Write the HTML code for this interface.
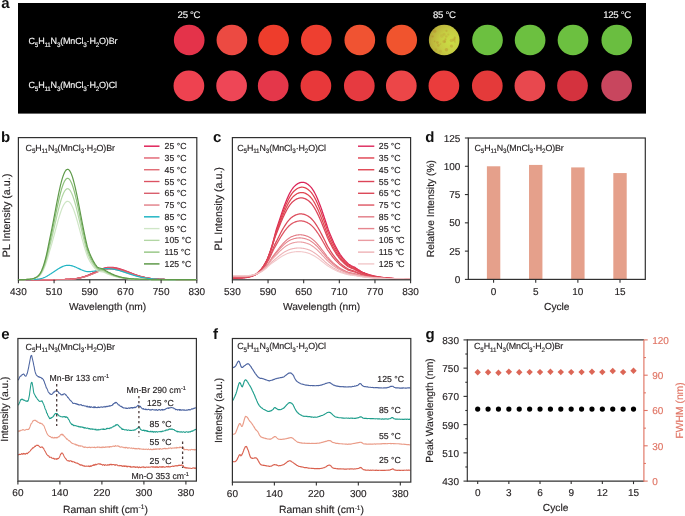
<!DOCTYPE html>
<html><head><meta charset="utf-8"><style>
html,body{margin:0;padding:0;background:#fff;}
svg{display:block;will-change:transform;}
text{font-family:"Liberation Sans",sans-serif;text-rendering:geometricPrecision;}
</style></head><body>
<svg width="685" height="516" viewBox="0 0 685 516">
<rect width="685" height="516" fill="#fff"/>

<text x="1.30" y="8.00" font-size="15" fill="#111" font-weight="bold">a</text>
<rect x="18" y="3" width="628" height="110.6" fill="#000"/>
<text x="28.50" y="44.00" font-size="9" fill="#f2f2f2" stroke="#f2f2f2" stroke-width="0.15" stroke-linejoin="round"><tspan letter-spacing="-0.19">C</tspan><tspan font-size="6.3" dy="2.60" letter-spacing="-0.19">5</tspan><tspan dy="-2.60" letter-spacing="-0.19">H</tspan><tspan font-size="6.3" dy="2.60" letter-spacing="-0.19">11</tspan><tspan dy="-2.60" letter-spacing="-0.19">N</tspan><tspan font-size="6.3" dy="2.60" letter-spacing="-0.19">3</tspan><tspan dy="-2.60" letter-spacing="-0.19">(MnCl</tspan><tspan font-size="6.3" dy="2.60" letter-spacing="-0.19">3</tspan><tspan dy="-2.60" letter-spacing="-0.19">·H</tspan><tspan font-size="6.3" dy="2.60" letter-spacing="-0.19">2</tspan><tspan dy="-2.60" letter-spacing="-0.19">O)Br</tspan></text>
<text x="28.50" y="88.00" font-size="9" fill="#f2f2f2" stroke="#f2f2f2" stroke-width="0.15" stroke-linejoin="round"><tspan letter-spacing="-0.19">C</tspan><tspan font-size="6.3" dy="2.60" letter-spacing="-0.19">5</tspan><tspan dy="-2.60" letter-spacing="-0.19">H</tspan><tspan font-size="6.3" dy="2.60" letter-spacing="-0.19">11</tspan><tspan dy="-2.60" letter-spacing="-0.19">N</tspan><tspan font-size="6.3" dy="2.60" letter-spacing="-0.19">3</tspan><tspan dy="-2.60" letter-spacing="-0.19">(MnCl</tspan><tspan font-size="6.3" dy="2.60" letter-spacing="-0.19">3</tspan><tspan dy="-2.60" letter-spacing="-0.19">·H</tspan><tspan font-size="6.3" dy="2.60" letter-spacing="-0.19">2</tspan><tspan dy="-2.60" letter-spacing="-0.19">O)Cl</tspan></text>
<text x="177.60" y="17.80" font-size="9.6" fill="#f2f2f2" stroke="#f2f2f2" stroke-width="0.15" stroke-linejoin="round"><tspan letter-spacing="-0.3">25 °C</tspan></text>
<text x="433.00" y="17.80" font-size="9.6" fill="#f2f2f2" stroke="#f2f2f2" stroke-width="0.15" stroke-linejoin="round"><tspan letter-spacing="-0.3">85 °C</tspan></text>
<text x="603.20" y="17.80" font-size="9.6" fill="#f2f2f2" stroke="#f2f2f2" stroke-width="0.15" stroke-linejoin="round"><tspan letter-spacing="-0.3">125 °C</tspan></text>
<defs><radialGradient id="yg" cx="0.72" cy="0.55" r="0.75"><stop offset="0" stop-color="#cade44"/><stop offset="0.5" stop-color="#c6cc42"/><stop offset="0.85" stop-color="#bcb43c"/><stop offset="1" stop-color="#a8a036"/></radialGradient><radialGradient id="gg" cx="0.5" cy="0.5" r="0.55"><stop offset="0.75" stop-color="#6ec242"/><stop offset="1" stop-color="#5eae3a"/></radialGradient></defs>
<circle cx="189.20" cy="40.0" r="15.35" fill="#e4334a"/>
<circle cx="188.90" cy="85.8" r="15.35" fill="#ee4250"/>
<circle cx="231.90" cy="40.0" r="15.35" fill="#ec4a42"/>
<circle cx="231.60" cy="85.8" r="15.35" fill="#ee4656"/>
<circle cx="273.60" cy="40.0" r="15.35" fill="#ee3d2c"/>
<circle cx="273.20" cy="85.8" r="15.35" fill="#e4374a"/>
<circle cx="316.30" cy="40.0" r="15.35" fill="#ee3f30"/>
<circle cx="315.90" cy="85.8" r="15.35" fill="#e8383a"/>
<circle cx="359.80" cy="40.0" r="15.35" fill="#f05332"/>
<circle cx="359.30" cy="85.8" r="15.35" fill="#e63a40"/>
<circle cx="401.70" cy="40.0" r="15.35" fill="#f0542e"/>
<circle cx="401.30" cy="85.8" r="15.35" fill="#ec4648"/>
<circle cx="444.20" cy="40.0" r="15.35" fill="url(#yg)"/>
<circle cx="443.90" cy="85.8" r="15.35" fill="#ea3c3c"/>
<circle cx="487.50" cy="40.0" r="15.35" fill="#6cc040"/>
<circle cx="487.30" cy="85.8" r="15.35" fill="#e43a3a"/>
<circle cx="530.10" cy="40.0" r="15.35" fill="#6cc040"/>
<circle cx="529.90" cy="85.8" r="15.35" fill="#e8484e"/>
<circle cx="573.00" cy="40.0" r="15.35" fill="#6cc040"/>
<circle cx="572.50" cy="85.8" r="15.35" fill="#d4323e"/>
<circle cx="616.80" cy="40.0" r="15.35" fill="#6abe40"/>
<circle cx="616.60" cy="85.8" r="15.35" fill="#c8465e"/>
<circle cx="434.68" cy="31.19" r="1.60" fill="#b87a2c" fill-opacity="0.34"/>
<circle cx="451.42" cy="40.61" r="1.74" fill="#b87a2c" fill-opacity="0.28"/>
<circle cx="446.25" cy="36.45" r="1.27" fill="#b87a2c" fill-opacity="0.20"/>
<circle cx="433.22" cy="36.33" r="0.81" fill="#b87a2c" fill-opacity="0.19"/>
<circle cx="440.41" cy="51.23" r="1.57" fill="#b87a2c" fill-opacity="0.18"/>
<circle cx="444.11" cy="34.37" r="1.42" fill="#b87a2c" fill-opacity="0.18"/>
<circle cx="454.83" cy="39.14" r="1.01" fill="#b87a2c" fill-opacity="0.19"/>
<circle cx="454.77" cy="37.66" r="1.09" fill="#b87a2c" fill-opacity="0.34"/>
<circle cx="432.32" cy="36.39" r="1.00" fill="#b87a2c" fill-opacity="0.34"/>
<circle cx="448.28" cy="34.60" r="1.16" fill="#b87a2c" fill-opacity="0.18"/>
<circle cx="444.72" cy="41.63" r="1.10" fill="#b87a2c" fill-opacity="0.27"/>
<circle cx="453.40" cy="39.23" r="1.14" fill="#b87a2c" fill-opacity="0.21"/>
<circle cx="446.46" cy="30.81" r="1.12" fill="#b87a2c" fill-opacity="0.25"/>
<circle cx="441.83" cy="36.02" r="1.78" fill="#b87a2c" fill-opacity="0.15"/>
<circle cx="454.16" cy="40.31" r="1.17" fill="#b87a2c" fill-opacity="0.27"/>
<circle cx="445.51" cy="39.16" r="0.98" fill="#b87a2c" fill-opacity="0.34"/>
<circle cx="446.43" cy="49.67" r="1.73" fill="#b87a2c" fill-opacity="0.34"/>
<circle cx="438.37" cy="45.42" r="1.32" fill="#b87a2c" fill-opacity="0.31"/>
<circle cx="451.45" cy="46.06" r="1.60" fill="#b87a2c" fill-opacity="0.32"/>
<circle cx="455.01" cy="41.88" r="0.89" fill="#b87a2c" fill-opacity="0.22"/>
<circle cx="436.01" cy="49.55" r="1.35" fill="#b87a2c" fill-opacity="0.21"/>
<circle cx="440.47" cy="44.00" r="0.88" fill="#b87a2c" fill-opacity="0.18"/>
<circle cx="444.21" cy="41.43" r="1.79" fill="#b87a2c" fill-opacity="0.26"/>
<circle cx="437.44" cy="42.53" r="1.39" fill="#b87a2c" fill-opacity="0.32"/>
<circle cx="434.58" cy="41.32" r="0.86" fill="#b87a2c" fill-opacity="0.33"/>
<text x="1.00" y="141.70" font-size="15" fill="#111" font-weight="bold">b</text>
<rect x="18.40" y="137.60" width="178.40" height="142.20" fill="none" stroke="#303030" stroke-width="1.2"/>
<path d="M18.40,279.60 L18.90,279.60 L19.40,279.60 L19.90,279.60 L20.40,279.60 L20.90,279.60 L21.40,279.60 L21.90,279.60 L22.40,279.60 L22.90,279.60 L23.40,279.60 L23.90,279.60 L24.40,279.60 L24.90,279.60 L25.40,279.60 L25.90,279.60 L26.40,279.60 L26.90,279.60 L27.40,279.60 L27.90,279.60 L28.40,279.60 L28.90,279.60 L29.40,279.60 L29.90,279.60 L30.40,279.60 L30.90,279.60 L31.40,279.60 L31.90,279.60 L32.40,279.60 L32.90,279.60 L33.40,279.60 L33.90,279.60 L34.40,279.60 L34.90,279.60 L35.40,279.60 L35.90,279.60 L36.40,279.60 L36.90,279.60 L37.40,279.60 L37.90,279.60 L38.40,279.60 L38.90,279.60 L39.40,279.60 L39.90,279.60 L40.40,279.60 L40.90,279.60 L41.40,279.60 L41.90,279.60 L42.40,279.60 L42.90,279.60 L43.40,279.60 L43.90,279.60 L44.40,279.60 L44.90,279.60 L45.40,279.60 L45.90,279.60 L46.40,279.60 L46.90,279.60 L47.40,279.60 L47.90,279.60 L48.40,279.60 L48.90,279.59 L49.40,279.59 L49.90,279.59 L50.40,279.59 L50.90,279.59 L51.40,279.59 L51.90,279.59 L52.40,279.59 L52.90,279.59 L53.40,279.58 L53.90,279.58 L54.40,279.58 L54.90,279.58 L55.40,279.58 L55.90,279.57 L56.40,279.57 L56.90,279.57 L57.40,279.56 L57.90,279.56 L58.40,279.55 L58.90,279.55 L59.40,279.54 L59.90,279.53 L60.40,279.53 L60.90,279.52 L61.40,279.51 L61.90,279.50 L62.40,279.49 L62.90,279.48 L63.40,279.47 L63.90,279.45 L64.40,279.44 L64.90,279.42 L65.40,279.41 L65.90,279.39 L66.40,279.37 L66.90,279.34 L67.40,279.32 L67.90,279.30 L68.40,279.27 L68.90,279.24 L69.40,279.21 L69.90,279.17 L70.40,279.13 L70.90,279.09 L71.40,279.05 L71.90,279.01 L72.40,278.96 L72.90,278.90 L73.40,278.85 L73.90,278.79 L74.40,278.73 L74.90,278.66 L75.40,278.59 L75.90,278.51 L76.40,278.43 L76.90,278.35 L77.40,278.26 L77.90,278.17 L78.40,278.07 L78.90,277.96 L79.40,277.86 L79.90,277.74 L80.40,277.62 L80.90,277.50 L81.40,277.37 L81.90,277.23 L82.40,277.09 L82.90,276.94 L83.40,276.79 L83.90,276.63 L84.40,276.46 L84.90,276.29 L85.40,276.12 L85.90,275.93 L86.40,275.75 L86.90,275.55 L87.40,275.36 L87.90,275.15 L88.40,274.95 L88.90,274.73 L89.40,274.52 L89.90,274.30 L90.40,274.07 L90.90,273.84 L91.40,273.61 L91.90,273.38 L92.40,273.14 L92.90,272.90 L93.40,272.66 L93.90,272.42 L94.40,272.18 L94.90,271.93 L95.40,271.69 L95.90,271.45 L96.40,271.21 L96.90,270.97 L97.40,270.74 L97.90,270.50 L98.40,270.27 L98.90,270.05 L99.40,269.83 L99.90,269.61 L100.40,269.41 L100.90,269.20 L101.40,269.01 L101.90,268.82 L102.40,268.64 L102.90,268.47 L103.40,268.31 L103.90,268.15 L104.40,268.01 L104.90,267.88 L105.40,267.76 L105.90,267.65 L106.40,267.55 L106.90,267.46 L107.40,267.39 L107.90,267.32 L108.40,267.27 L108.90,267.24 L109.40,267.21 L109.90,267.20 L110.40,267.20 L110.90,267.21 L111.40,267.23 L111.90,267.26 L112.40,267.29 L112.90,267.34 L113.40,267.39 L113.90,267.45 L114.40,267.52 L114.90,267.60 L115.40,267.68 L115.90,267.78 L116.40,267.88 L116.90,267.99 L117.40,268.10 L117.90,268.22 L118.40,268.35 L118.90,268.49 L119.40,268.63 L119.90,268.78 L120.40,268.93 L120.90,269.09 L121.40,269.25 L121.90,269.42 L122.40,269.59 L122.90,269.77 L123.40,269.95 L123.90,270.13 L124.40,270.31 L124.90,270.50 L125.40,270.70 L125.90,270.89 L126.40,271.08 L126.90,271.28 L127.40,271.48 L127.90,271.68 L128.40,271.88 L128.90,272.08 L129.40,272.28 L129.90,272.48 L130.40,272.68 L130.90,272.88 L131.40,273.07 L131.90,273.27 L132.40,273.46 L132.90,273.66 L133.40,273.85 L133.90,274.04 L134.40,274.22 L134.90,274.41 L135.40,274.59 L135.90,274.76 L136.40,274.94 L136.90,275.11 L137.40,275.28 L137.90,275.44 L138.40,275.61 L138.90,275.76 L139.40,275.92 L139.90,276.07 L140.40,276.22 L140.90,276.36 L141.40,276.50 L141.90,276.63 L142.40,276.77 L142.90,276.89 L143.40,277.02 L143.90,277.14 L144.40,277.25 L144.90,277.36 L145.40,277.47 L145.90,277.58 L146.40,277.68 L146.90,277.77 L147.40,277.87 L147.90,277.96 L148.40,278.04 L148.90,278.13 L149.40,278.21 L149.90,278.28 L150.40,278.35 L150.90,278.42 L151.40,278.49 L151.90,278.55 L152.40,278.61 L152.90,278.67 L153.40,278.73 L153.90,278.78 L154.40,278.83 L154.90,278.88 L155.40,278.92 L155.90,278.96 L156.40,279.00 L156.90,279.04 L157.40,279.08 L157.90,279.11 L158.40,279.14 L158.90,279.17 L159.40,279.20 L159.90,279.23 L160.40,279.25 L160.90,279.28 L161.40,279.30 L161.90,279.32 L162.40,279.34 L162.90,279.36 L163.40,279.38 L163.90,279.39 L164.40,279.41 L164.90,279.42 L165.40,279.44 L165.90,279.45 L166.40,279.46 L166.90,279.47 L167.40,279.48 L167.90,279.49 L168.40,279.50 L168.90,279.51 L169.40,279.51 L169.90,279.52 L170.40,279.53 L170.90,279.53 L171.40,279.54 L171.90,279.54 L172.40,279.55 L172.90,279.55 L173.40,279.56 L173.90,279.56 L174.40,279.56 L174.90,279.57 L175.40,279.57 L175.90,279.57 L176.40,279.58 L176.90,279.58 L177.40,279.58 L177.90,279.58 L178.40,279.58 L178.90,279.58 L179.40,279.59 L179.90,279.59 L180.40,279.59 L180.90,279.59 L181.40,279.59 L181.90,279.59 L182.40,279.59 L182.90,279.59 L183.40,279.59 L183.90,279.59 L184.40,279.59 L184.90,279.60 L185.40,279.60 L185.90,279.60 L186.40,279.60 L186.90,279.60 L187.40,279.60 L187.90,279.60 L188.40,279.60 L188.90,279.60 L189.40,279.60 L189.90,279.60 L190.40,279.60 L190.90,279.60 L191.40,279.60 L191.90,279.60 L192.40,279.60 L192.90,279.60 L193.40,279.60 L193.90,279.60 L194.40,279.60 L194.90,279.60 L195.40,279.60 L195.90,279.60 L196.40,279.60" fill="none" stroke="#e0245a" stroke-width="1.1" stroke-linejoin="round" />
<path d="M18.40,279.60 L18.90,279.60 L19.40,279.60 L19.90,279.60 L20.40,279.60 L20.90,279.60 L21.40,279.60 L21.90,279.60 L22.40,279.60 L22.90,279.60 L23.40,279.60 L23.90,279.60 L24.40,279.60 L24.90,279.60 L25.40,279.60 L25.90,279.60 L26.40,279.60 L26.90,279.60 L27.40,279.60 L27.90,279.60 L28.40,279.60 L28.90,279.60 L29.40,279.60 L29.90,279.60 L30.40,279.60 L30.90,279.60 L31.40,279.60 L31.90,279.60 L32.40,279.60 L32.90,279.60 L33.40,279.60 L33.90,279.60 L34.40,279.60 L34.90,279.60 L35.40,279.60 L35.90,279.60 L36.40,279.60 L36.90,279.60 L37.40,279.60 L37.90,279.60 L38.40,279.60 L38.90,279.60 L39.40,279.60 L39.90,279.60 L40.40,279.60 L40.90,279.60 L41.40,279.60 L41.90,279.60 L42.40,279.60 L42.90,279.60 L43.40,279.60 L43.90,279.60 L44.40,279.60 L44.90,279.60 L45.40,279.60 L45.90,279.60 L46.40,279.60 L46.90,279.60 L47.40,279.60 L47.90,279.60 L48.40,279.60 L48.90,279.60 L49.40,279.59 L49.90,279.59 L50.40,279.59 L50.90,279.59 L51.40,279.59 L51.90,279.59 L52.40,279.59 L52.90,279.59 L53.40,279.59 L53.90,279.58 L54.40,279.58 L54.90,279.58 L55.40,279.58 L55.90,279.57 L56.40,279.57 L56.90,279.57 L57.40,279.56 L57.90,279.56 L58.40,279.56 L58.90,279.55 L59.40,279.54 L59.90,279.54 L60.40,279.53 L60.90,279.52 L61.40,279.52 L61.90,279.51 L62.40,279.50 L62.90,279.49 L63.40,279.48 L63.90,279.46 L64.40,279.45 L64.90,279.43 L65.40,279.42 L65.90,279.40 L66.40,279.38 L66.90,279.36 L67.40,279.34 L67.90,279.31 L68.40,279.29 L68.90,279.26 L69.40,279.23 L69.90,279.20 L70.40,279.16 L70.90,279.13 L71.40,279.09 L71.90,279.04 L72.40,279.00 L72.90,278.95 L73.40,278.90 L73.90,278.84 L74.40,278.78 L74.90,278.72 L75.40,278.65 L75.90,278.58 L76.40,278.51 L76.90,278.43 L77.40,278.35 L77.90,278.26 L78.40,278.17 L78.90,278.07 L79.40,277.97 L79.90,277.86 L80.40,277.75 L80.90,277.63 L81.40,277.51 L81.90,277.38 L82.40,277.25 L82.90,277.11 L83.40,276.97 L83.90,276.82 L84.40,276.67 L84.90,276.51 L85.40,276.34 L85.90,276.17 L86.40,276.00 L86.90,275.82 L87.40,275.63 L87.90,275.44 L88.40,275.25 L88.90,275.05 L89.40,274.84 L89.90,274.64 L90.40,274.43 L90.90,274.21 L91.40,274.00 L91.90,273.78 L92.40,273.56 L92.90,273.33 L93.40,273.11 L93.90,272.88 L94.40,272.66 L94.90,272.43 L95.40,272.20 L95.90,271.98 L96.40,271.75 L96.90,271.53 L97.40,271.31 L97.90,271.09 L98.40,270.88 L98.90,270.67 L99.40,270.46 L99.90,270.26 L100.40,270.06 L100.90,269.87 L101.40,269.69 L101.90,269.51 L102.40,269.35 L102.90,269.19 L103.40,269.03 L103.90,268.89 L104.40,268.76 L104.90,268.63 L105.40,268.52 L105.90,268.42 L106.40,268.33 L106.90,268.24 L107.40,268.17 L107.90,268.12 L108.40,268.07 L108.90,268.03 L109.40,268.01 L109.90,268.00 L110.40,268.00 L110.90,268.01 L111.40,268.03 L111.90,268.05 L112.40,268.09 L112.90,268.13 L113.40,268.18 L113.90,268.23 L114.40,268.30 L114.90,268.37 L115.40,268.45 L115.90,268.54 L116.40,268.63 L116.90,268.73 L117.40,268.84 L117.90,268.96 L118.40,269.08 L118.90,269.20 L119.40,269.34 L119.90,269.47 L120.40,269.62 L120.90,269.76 L121.40,269.92 L121.90,270.07 L122.40,270.23 L122.90,270.40 L123.40,270.57 L123.90,270.74 L124.40,270.91 L124.90,271.09 L125.40,271.27 L125.90,271.45 L126.40,271.63 L126.90,271.82 L127.40,272.00 L127.90,272.19 L128.40,272.38 L128.90,272.56 L129.40,272.75 L129.90,272.94 L130.40,273.12 L130.90,273.31 L131.40,273.49 L131.90,273.68 L132.40,273.86 L132.90,274.04 L133.40,274.22 L133.90,274.39 L134.40,274.57 L134.90,274.74 L135.40,274.91 L135.90,275.08 L136.40,275.24 L136.90,275.40 L137.40,275.56 L137.90,275.71 L138.40,275.86 L138.90,276.01 L139.40,276.16 L139.90,276.30 L140.40,276.43 L140.90,276.57 L141.40,276.70 L141.90,276.83 L142.40,276.95 L142.90,277.07 L143.40,277.18 L143.90,277.30 L144.40,277.40 L144.90,277.51 L145.40,277.61 L145.90,277.71 L146.40,277.80 L146.90,277.89 L147.40,277.98 L147.90,278.06 L148.40,278.14 L148.90,278.22 L149.40,278.30 L149.90,278.37 L150.40,278.43 L150.90,278.50 L151.40,278.56 L151.90,278.62 L152.40,278.68 L152.90,278.73 L153.40,278.78 L153.90,278.83 L154.40,278.88 L154.90,278.92 L155.40,278.96 L155.90,279.00 L156.40,279.04 L156.90,279.08 L157.40,279.11 L157.90,279.14 L158.40,279.17 L158.90,279.20 L159.40,279.23 L159.90,279.25 L160.40,279.28 L160.90,279.30 L161.40,279.32 L161.90,279.34 L162.40,279.36 L162.90,279.38 L163.40,279.39 L163.90,279.41 L164.40,279.42 L164.90,279.43 L165.40,279.45 L165.90,279.46 L166.40,279.47 L166.90,279.48 L167.40,279.49 L167.90,279.50 L168.40,279.51 L168.90,279.51 L169.40,279.52 L169.90,279.53 L170.40,279.53 L170.90,279.54 L171.40,279.54 L171.90,279.55 L172.40,279.55 L172.90,279.56 L173.40,279.56 L173.90,279.56 L174.40,279.57 L174.90,279.57 L175.40,279.57 L175.90,279.57 L176.40,279.58 L176.90,279.58 L177.40,279.58 L177.90,279.58 L178.40,279.58 L178.90,279.59 L179.40,279.59 L179.90,279.59 L180.40,279.59 L180.90,279.59 L181.40,279.59 L181.90,279.59 L182.40,279.59 L182.90,279.59 L183.40,279.59 L183.90,279.59 L184.40,279.60 L184.90,279.60 L185.40,279.60 L185.90,279.60 L186.40,279.60 L186.90,279.60 L187.40,279.60 L187.90,279.60 L188.40,279.60 L188.90,279.60 L189.40,279.60 L189.90,279.60 L190.40,279.60 L190.90,279.60 L191.40,279.60 L191.90,279.60 L192.40,279.60 L192.90,279.60 L193.40,279.60 L193.90,279.60 L194.40,279.60 L194.90,279.60 L195.40,279.60 L195.90,279.60 L196.40,279.60" fill="none" stroke="#e05a6a" stroke-width="1.1" stroke-linejoin="round" />
<path d="M18.40,279.60 L18.90,279.60 L19.40,279.60 L19.90,279.60 L20.40,279.60 L20.90,279.60 L21.40,279.60 L21.90,279.60 L22.40,279.60 L22.90,279.60 L23.40,279.60 L23.90,279.60 L24.40,279.60 L24.90,279.60 L25.40,279.60 L25.90,279.60 L26.40,279.60 L26.90,279.60 L27.40,279.60 L27.90,279.60 L28.40,279.60 L28.90,279.60 L29.40,279.60 L29.90,279.60 L30.40,279.60 L30.90,279.60 L31.40,279.60 L31.90,279.60 L32.40,279.60 L32.90,279.60 L33.40,279.60 L33.90,279.60 L34.40,279.60 L34.90,279.60 L35.40,279.60 L35.90,279.60 L36.40,279.60 L36.90,279.60 L37.40,279.60 L37.90,279.60 L38.40,279.60 L38.90,279.60 L39.40,279.60 L39.90,279.60 L40.40,279.60 L40.90,279.60 L41.40,279.60 L41.90,279.60 L42.40,279.60 L42.90,279.60 L43.40,279.60 L43.90,279.60 L44.40,279.60 L44.90,279.60 L45.40,279.60 L45.90,279.60 L46.40,279.60 L46.90,279.60 L47.40,279.60 L47.90,279.60 L48.40,279.60 L48.90,279.60 L49.40,279.59 L49.90,279.59 L50.40,279.59 L50.90,279.59 L51.40,279.59 L51.90,279.59 L52.40,279.59 L52.90,279.59 L53.40,279.59 L53.90,279.58 L54.40,279.58 L54.90,279.58 L55.40,279.58 L55.90,279.58 L56.40,279.57 L56.90,279.57 L57.40,279.57 L57.90,279.56 L58.40,279.56 L58.90,279.55 L59.40,279.55 L59.90,279.54 L60.40,279.53 L60.90,279.53 L61.40,279.52 L61.90,279.51 L62.40,279.50 L62.90,279.49 L63.40,279.48 L63.90,279.47 L64.40,279.45 L64.90,279.44 L65.40,279.42 L65.90,279.41 L66.40,279.39 L66.90,279.37 L67.40,279.35 L67.90,279.32 L68.40,279.30 L68.90,279.27 L69.40,279.24 L69.90,279.21 L70.40,279.18 L70.90,279.14 L71.40,279.10 L71.90,279.06 L72.40,279.02 L72.90,278.97 L73.40,278.92 L73.90,278.87 L74.40,278.81 L74.90,278.75 L75.40,278.69 L75.90,278.62 L76.40,278.55 L76.90,278.47 L77.40,278.39 L77.90,278.31 L78.40,278.22 L78.90,278.12 L79.40,278.02 L79.90,277.92 L80.40,277.81 L80.90,277.70 L81.40,277.58 L81.90,277.46 L82.40,277.33 L82.90,277.20 L83.40,277.06 L83.90,276.92 L84.40,276.77 L84.90,276.61 L85.40,276.45 L85.90,276.29 L86.40,276.12 L86.90,275.95 L87.40,275.77 L87.90,275.58 L88.40,275.40 L88.90,275.20 L89.40,275.01 L89.90,274.81 L90.40,274.61 L90.90,274.40 L91.40,274.19 L91.90,273.98 L92.40,273.76 L92.90,273.55 L93.40,273.33 L93.90,273.11 L94.40,272.89 L94.90,272.68 L95.40,272.46 L95.90,272.24 L96.40,272.02 L96.90,271.81 L97.40,271.59 L97.90,271.38 L98.40,271.18 L98.90,270.97 L99.40,270.77 L99.90,270.58 L100.40,270.39 L100.90,270.21 L101.40,270.03 L101.90,269.86 L102.40,269.70 L102.90,269.55 L103.40,269.40 L103.90,269.26 L104.40,269.13 L104.90,269.01 L105.40,268.90 L105.90,268.80 L106.40,268.71 L106.90,268.64 L107.40,268.57 L107.90,268.51 L108.40,268.47 L108.90,268.43 L109.40,268.41 L109.90,268.40 L110.40,268.40 L110.90,268.41 L111.40,268.43 L111.90,268.45 L112.40,268.48 L112.90,268.52 L113.40,268.57 L113.90,268.63 L114.40,268.69 L114.90,268.76 L115.40,268.84 L115.90,268.92 L116.40,269.01 L116.90,269.11 L117.40,269.21 L117.90,269.32 L118.40,269.44 L118.90,269.56 L119.40,269.69 L119.90,269.82 L120.40,269.96 L120.90,270.10 L121.40,270.25 L121.90,270.40 L122.40,270.56 L122.90,270.72 L123.40,270.88 L123.90,271.05 L124.40,271.21 L124.90,271.38 L125.40,271.56 L125.90,271.73 L126.40,271.91 L126.90,272.09 L127.40,272.27 L127.90,272.45 L128.40,272.63 L128.90,272.81 L129.40,272.99 L129.90,273.17 L130.40,273.35 L130.90,273.53 L131.40,273.71 L131.90,273.88 L132.40,274.06 L132.90,274.23 L133.40,274.40 L133.90,274.57 L134.40,274.74 L134.90,274.91 L135.40,275.07 L135.90,275.23 L136.40,275.39 L136.90,275.55 L137.40,275.70 L137.90,275.85 L138.40,275.99 L138.90,276.14 L139.40,276.28 L139.90,276.41 L140.40,276.54 L140.90,276.67 L141.40,276.80 L141.90,276.92 L142.40,277.04 L142.90,277.16 L143.40,277.27 L143.90,277.38 L144.40,277.48 L144.90,277.58 L145.40,277.68 L145.90,277.77 L146.40,277.86 L146.90,277.95 L147.40,278.04 L147.90,278.12 L148.40,278.19 L148.90,278.27 L149.40,278.34 L149.90,278.41 L150.40,278.47 L150.90,278.54 L151.40,278.60 L151.90,278.65 L152.40,278.71 L152.90,278.76 L153.40,278.81 L153.90,278.86 L154.40,278.90 L154.90,278.95 L155.40,278.99 L155.90,279.02 L156.40,279.06 L156.90,279.09 L157.40,279.13 L157.90,279.16 L158.40,279.19 L158.90,279.21 L159.40,279.24 L159.90,279.26 L160.40,279.29 L160.90,279.31 L161.40,279.33 L161.90,279.35 L162.40,279.37 L162.90,279.38 L163.40,279.40 L163.90,279.41 L164.40,279.43 L164.90,279.44 L165.40,279.45 L165.90,279.46 L166.40,279.47 L166.90,279.48 L167.40,279.49 L167.90,279.50 L168.40,279.51 L168.90,279.52 L169.40,279.52 L169.90,279.53 L170.40,279.53 L170.90,279.54 L171.40,279.54 L171.90,279.55 L172.40,279.55 L172.90,279.56 L173.40,279.56 L173.90,279.56 L174.40,279.57 L174.90,279.57 L175.40,279.57 L175.90,279.58 L176.40,279.58 L176.90,279.58 L177.40,279.58 L177.90,279.58 L178.40,279.58 L178.90,279.59 L179.40,279.59 L179.90,279.59 L180.40,279.59 L180.90,279.59 L181.40,279.59 L181.90,279.59 L182.40,279.59 L182.90,279.59 L183.40,279.59 L183.90,279.59 L184.40,279.60 L184.90,279.60 L185.40,279.60 L185.90,279.60 L186.40,279.60 L186.90,279.60 L187.40,279.60 L187.90,279.60 L188.40,279.60 L188.90,279.60 L189.40,279.60 L189.90,279.60 L190.40,279.60 L190.90,279.60 L191.40,279.60 L191.90,279.60 L192.40,279.60 L192.90,279.60 L193.40,279.60 L193.90,279.60 L194.40,279.60 L194.90,279.60 L195.40,279.60 L195.90,279.60 L196.40,279.60" fill="none" stroke="#e0646e" stroke-width="1.1" stroke-linejoin="round" />
<path d="M18.40,279.60 L18.90,279.60 L19.40,279.60 L19.90,279.60 L20.40,279.60 L20.90,279.60 L21.40,279.60 L21.90,279.60 L22.40,279.60 L22.90,279.60 L23.40,279.60 L23.90,279.60 L24.40,279.60 L24.90,279.60 L25.40,279.60 L25.90,279.60 L26.40,279.60 L26.90,279.60 L27.40,279.60 L27.90,279.60 L28.40,279.60 L28.90,279.60 L29.40,279.60 L29.90,279.60 L30.40,279.60 L30.90,279.60 L31.40,279.60 L31.90,279.60 L32.40,279.60 L32.90,279.60 L33.40,279.60 L33.90,279.60 L34.40,279.60 L34.90,279.60 L35.40,279.60 L35.90,279.60 L36.40,279.60 L36.90,279.60 L37.40,279.60 L37.90,279.60 L38.40,279.60 L38.90,279.60 L39.40,279.60 L39.90,279.60 L40.40,279.60 L40.90,279.60 L41.40,279.60 L41.90,279.60 L42.40,279.60 L42.90,279.60 L43.40,279.60 L43.90,279.60 L44.40,279.60 L44.90,279.60 L45.40,279.60 L45.90,279.60 L46.40,279.60 L46.90,279.60 L47.40,279.60 L47.90,279.60 L48.40,279.60 L48.90,279.60 L49.40,279.59 L49.90,279.59 L50.40,279.59 L50.90,279.59 L51.40,279.59 L51.90,279.59 L52.40,279.59 L52.90,279.59 L53.40,279.59 L53.90,279.58 L54.40,279.58 L54.90,279.58 L55.40,279.58 L55.90,279.57 L56.40,279.57 L56.90,279.57 L57.40,279.56 L57.90,279.56 L58.40,279.55 L58.90,279.55 L59.40,279.54 L59.90,279.54 L60.40,279.53 L60.90,279.52 L61.40,279.51 L61.90,279.50 L62.40,279.49 L62.90,279.48 L63.40,279.47 L63.90,279.46 L64.40,279.44 L64.90,279.43 L65.40,279.41 L65.90,279.39 L66.40,279.37 L66.90,279.35 L67.40,279.33 L67.90,279.31 L68.40,279.28 L68.90,279.25 L69.40,279.22 L69.90,279.18 L70.40,279.15 L70.90,279.11 L71.40,279.07 L71.90,279.02 L72.40,278.98 L72.90,278.93 L73.40,278.87 L73.90,278.82 L74.40,278.75 L74.90,278.69 L75.40,278.62 L75.90,278.55 L76.40,278.47 L76.90,278.39 L77.40,278.30 L77.90,278.21 L78.40,278.12 L78.90,278.02 L79.40,277.91 L79.90,277.80 L80.40,277.69 L80.90,277.57 L81.40,277.44 L81.90,277.31 L82.40,277.17 L82.90,277.03 L83.40,276.88 L83.90,276.72 L84.40,276.56 L84.90,276.40 L85.40,276.23 L85.90,276.05 L86.40,275.87 L86.90,275.69 L87.40,275.49 L87.90,275.30 L88.40,275.10 L88.90,274.89 L89.40,274.68 L89.90,274.47 L90.40,274.25 L90.90,274.03 L91.40,273.80 L91.90,273.58 L92.40,273.35 L92.90,273.12 L93.40,272.88 L93.90,272.65 L94.40,272.42 L94.90,272.18 L95.40,271.95 L95.90,271.71 L96.40,271.48 L96.90,271.25 L97.40,271.02 L97.90,270.80 L98.40,270.57 L98.90,270.36 L99.40,270.14 L99.90,269.94 L100.40,269.73 L100.90,269.54 L101.40,269.35 L101.90,269.17 L102.40,268.99 L102.90,268.83 L103.40,268.67 L103.90,268.52 L104.40,268.38 L104.90,268.26 L105.40,268.14 L105.90,268.03 L106.40,267.94 L106.90,267.85 L107.40,267.78 L107.90,267.72 L108.40,267.67 L108.90,267.64 L109.40,267.61 L109.90,267.60 L110.40,267.60 L110.90,267.61 L111.40,267.63 L111.90,267.65 L112.40,267.69 L112.90,267.73 L113.40,267.78 L113.90,267.84 L114.40,267.91 L114.90,267.98 L115.40,268.07 L115.90,268.16 L116.40,268.26 L116.90,268.36 L117.40,268.47 L117.90,268.59 L118.40,268.71 L118.90,268.85 L119.40,268.98 L119.90,269.12 L120.40,269.27 L120.90,269.43 L121.40,269.58 L121.90,269.75 L122.40,269.91 L122.90,270.08 L123.40,270.26 L123.90,270.43 L124.40,270.61 L124.90,270.80 L125.40,270.98 L125.90,271.17 L126.40,271.36 L126.90,271.55 L127.40,271.74 L127.90,271.93 L128.40,272.13 L128.90,272.32 L129.40,272.52 L129.90,272.71 L130.40,272.90 L130.90,273.09 L131.40,273.28 L131.90,273.47 L132.40,273.66 L132.90,273.85 L133.40,274.03 L133.90,274.22 L134.40,274.40 L134.90,274.57 L135.40,274.75 L135.90,274.92 L136.40,275.09 L136.90,275.26 L137.40,275.42 L137.90,275.58 L138.40,275.74 L138.90,275.89 L139.40,276.04 L139.90,276.18 L140.40,276.33 L140.90,276.46 L141.40,276.60 L141.90,276.73 L142.40,276.86 L142.90,276.98 L143.40,277.10 L143.90,277.22 L144.40,277.33 L144.90,277.44 L145.40,277.54 L145.90,277.64 L146.40,277.74 L146.90,277.83 L147.40,277.92 L147.90,278.01 L148.40,278.09 L148.90,278.17 L149.40,278.25 L149.90,278.32 L150.40,278.39 L150.90,278.46 L151.40,278.53 L151.90,278.59 L152.40,278.65 L152.90,278.70 L153.40,278.75 L153.90,278.80 L154.40,278.85 L154.90,278.90 L155.40,278.94 L155.90,278.98 L156.40,279.02 L156.90,279.06 L157.40,279.09 L157.90,279.13 L158.40,279.16 L158.90,279.19 L159.40,279.21 L159.90,279.24 L160.40,279.27 L160.90,279.29 L161.40,279.31 L161.90,279.33 L162.40,279.35 L162.90,279.37 L163.40,279.38 L163.90,279.40 L164.40,279.41 L164.90,279.43 L165.40,279.44 L165.90,279.45 L166.40,279.46 L166.90,279.47 L167.40,279.48 L167.90,279.49 L168.40,279.50 L168.90,279.51 L169.40,279.52 L169.90,279.52 L170.40,279.53 L170.90,279.54 L171.40,279.54 L171.90,279.55 L172.40,279.55 L172.90,279.55 L173.40,279.56 L173.90,279.56 L174.40,279.57 L174.90,279.57 L175.40,279.57 L175.90,279.57 L176.40,279.58 L176.90,279.58 L177.40,279.58 L177.90,279.58 L178.40,279.58 L178.90,279.59 L179.40,279.59 L179.90,279.59 L180.40,279.59 L180.90,279.59 L181.40,279.59 L181.90,279.59 L182.40,279.59 L182.90,279.59 L183.40,279.59 L183.90,279.59 L184.40,279.60 L184.90,279.60 L185.40,279.60 L185.90,279.60 L186.40,279.60 L186.90,279.60 L187.40,279.60 L187.90,279.60 L188.40,279.60 L188.90,279.60 L189.40,279.60 L189.90,279.60 L190.40,279.60 L190.90,279.60 L191.40,279.60 L191.90,279.60 L192.40,279.60 L192.90,279.60 L193.40,279.60 L193.90,279.60 L194.40,279.60 L194.90,279.60 L195.40,279.60 L195.90,279.60 L196.40,279.60" fill="none" stroke="#dc5262" stroke-width="1.1" stroke-linejoin="round" />
<path d="M18.40,279.60 L18.90,279.60 L19.40,279.60 L19.90,279.60 L20.40,279.60 L20.90,279.60 L21.40,279.60 L21.90,279.60 L22.40,279.60 L22.90,279.60 L23.40,279.60 L23.90,279.60 L24.40,279.60 L24.90,279.60 L25.40,279.60 L25.90,279.60 L26.40,279.60 L26.90,279.60 L27.40,279.60 L27.90,279.60 L28.40,279.60 L28.90,279.60 L29.40,279.60 L29.90,279.60 L30.40,279.60 L30.90,279.60 L31.40,279.60 L31.90,279.60 L32.40,279.60 L32.90,279.60 L33.40,279.60 L33.90,279.60 L34.40,279.60 L34.90,279.60 L35.40,279.60 L35.90,279.60 L36.40,279.60 L36.90,279.60 L37.40,279.60 L37.90,279.60 L38.40,279.60 L38.90,279.60 L39.40,279.60 L39.90,279.60 L40.40,279.60 L40.90,279.60 L41.40,279.60 L41.90,279.60 L42.40,279.60 L42.90,279.60 L43.40,279.60 L43.90,279.60 L44.40,279.60 L44.90,279.60 L45.40,279.60 L45.90,279.60 L46.40,279.60 L46.90,279.60 L47.40,279.60 L47.90,279.60 L48.40,279.60 L48.90,279.60 L49.40,279.59 L49.90,279.59 L50.40,279.59 L50.90,279.59 L51.40,279.59 L51.90,279.59 L52.40,279.59 L52.90,279.59 L53.40,279.59 L53.90,279.58 L54.40,279.58 L54.90,279.58 L55.40,279.58 L55.90,279.58 L56.40,279.57 L56.90,279.57 L57.40,279.57 L57.90,279.56 L58.40,279.56 L58.90,279.55 L59.40,279.55 L59.90,279.54 L60.40,279.54 L60.90,279.53 L61.40,279.52 L61.90,279.51 L62.40,279.50 L62.90,279.49 L63.40,279.48 L63.90,279.47 L64.40,279.46 L64.90,279.44 L65.40,279.43 L65.90,279.41 L66.40,279.39 L66.90,279.37 L67.40,279.35 L67.90,279.33 L68.40,279.31 L68.90,279.28 L69.40,279.25 L69.90,279.22 L70.40,279.19 L70.90,279.15 L71.40,279.11 L71.90,279.07 L72.40,279.03 L72.90,278.98 L73.40,278.93 L73.90,278.88 L74.40,278.82 L74.90,278.77 L75.40,278.70 L75.90,278.64 L76.40,278.57 L76.90,278.49 L77.40,278.41 L77.90,278.33 L78.40,278.24 L78.90,278.15 L79.40,278.05 L79.90,277.95 L80.40,277.85 L80.90,277.73 L81.40,277.62 L81.90,277.50 L82.40,277.37 L82.90,277.24 L83.40,277.11 L83.90,276.96 L84.40,276.82 L84.90,276.67 L85.40,276.51 L85.90,276.35 L86.40,276.18 L86.90,276.01 L87.40,275.84 L87.90,275.66 L88.40,275.47 L88.90,275.28 L89.40,275.09 L89.90,274.89 L90.40,274.70 L90.90,274.49 L91.40,274.29 L91.90,274.08 L92.40,273.87 L92.90,273.66 L93.40,273.44 L93.90,273.23 L94.40,273.01 L94.90,272.80 L95.40,272.58 L95.90,272.37 L96.40,272.16 L96.90,271.95 L97.40,271.74 L97.90,271.53 L98.40,271.33 L98.90,271.13 L99.40,270.93 L99.90,270.74 L100.40,270.56 L100.90,270.38 L101.40,270.20 L101.90,270.04 L102.40,269.88 L102.90,269.72 L103.40,269.58 L103.90,269.45 L104.40,269.32 L104.90,269.20 L105.40,269.09 L105.90,269.00 L106.40,268.91 L106.90,268.83 L107.40,268.77 L107.90,268.71 L108.40,268.67 L108.90,268.63 L109.40,268.61 L109.90,268.60 L110.40,268.60 L110.90,268.61 L111.40,268.63 L111.90,268.65 L112.40,268.68 L112.90,268.72 L113.40,268.77 L113.90,268.82 L114.40,268.88 L114.90,268.95 L115.40,269.03 L115.90,269.11 L116.40,269.20 L116.90,269.30 L117.40,269.40 L117.90,269.51 L118.40,269.62 L118.90,269.74 L119.40,269.87 L119.90,270.00 L120.40,270.13 L120.90,270.27 L121.40,270.42 L121.90,270.57 L122.40,270.72 L122.90,270.88 L123.40,271.04 L123.90,271.20 L124.40,271.36 L124.90,271.53 L125.40,271.70 L125.90,271.87 L126.40,272.05 L126.90,272.22 L127.40,272.40 L127.90,272.57 L128.40,272.75 L128.90,272.93 L129.40,273.11 L129.90,273.28 L130.40,273.46 L130.90,273.64 L131.40,273.81 L131.90,273.98 L132.40,274.16 L132.90,274.33 L133.40,274.50 L133.90,274.66 L134.40,274.83 L134.90,274.99 L135.40,275.15 L135.90,275.31 L136.40,275.47 L136.90,275.62 L137.40,275.77 L137.90,275.91 L138.40,276.06 L138.90,276.20 L139.40,276.33 L139.90,276.47 L140.40,276.60 L140.90,276.73 L141.40,276.85 L141.90,276.97 L142.40,277.09 L142.90,277.20 L143.40,277.31 L143.90,277.41 L144.40,277.52 L144.90,277.62 L145.40,277.71 L145.90,277.81 L146.40,277.89 L146.90,277.98 L147.40,278.06 L147.90,278.14 L148.40,278.22 L148.90,278.29 L149.40,278.36 L149.90,278.43 L150.40,278.49 L150.90,278.56 L151.40,278.61 L151.90,278.67 L152.40,278.72 L152.90,278.78 L153.40,278.82 L153.90,278.87 L154.40,278.92 L154.90,278.96 L155.40,279.00 L155.90,279.03 L156.40,279.07 L156.90,279.10 L157.40,279.14 L157.90,279.17 L158.40,279.19 L158.90,279.22 L159.40,279.25 L159.90,279.27 L160.40,279.29 L160.90,279.31 L161.40,279.33 L161.90,279.35 L162.40,279.37 L162.90,279.39 L163.40,279.40 L163.90,279.42 L164.40,279.43 L164.90,279.44 L165.40,279.45 L165.90,279.47 L166.40,279.48 L166.90,279.49 L167.40,279.49 L167.90,279.50 L168.40,279.51 L168.90,279.52 L169.40,279.52 L169.90,279.53 L170.40,279.54 L170.90,279.54 L171.40,279.55 L171.90,279.55 L172.40,279.55 L172.90,279.56 L173.40,279.56 L173.90,279.57 L174.40,279.57 L174.90,279.57 L175.40,279.57 L175.90,279.58 L176.40,279.58 L176.90,279.58 L177.40,279.58 L177.90,279.58 L178.40,279.59 L178.90,279.59 L179.40,279.59 L179.90,279.59 L180.40,279.59 L180.90,279.59 L181.40,279.59 L181.90,279.59 L182.40,279.59 L182.90,279.59 L183.40,279.59 L183.90,279.60 L184.40,279.60 L184.90,279.60 L185.40,279.60 L185.90,279.60 L186.40,279.60 L186.90,279.60 L187.40,279.60 L187.90,279.60 L188.40,279.60 L188.90,279.60 L189.40,279.60 L189.90,279.60 L190.40,279.60 L190.90,279.60 L191.40,279.60 L191.90,279.60 L192.40,279.60 L192.90,279.60 L193.40,279.60 L193.90,279.60 L194.40,279.60 L194.90,279.60 L195.40,279.60 L195.90,279.60 L196.40,279.60" fill="none" stroke="#d85866" stroke-width="1.1" stroke-linejoin="round" />
<path d="M18.40,279.60 L18.90,279.60 L19.40,279.60 L19.90,279.60 L20.40,279.60 L20.90,279.60 L21.40,279.60 L21.90,279.60 L22.40,279.60 L22.90,279.60 L23.40,279.60 L23.90,279.60 L24.40,279.60 L24.90,279.60 L25.40,279.60 L25.90,279.60 L26.40,279.60 L26.90,279.60 L27.40,279.60 L27.90,279.60 L28.40,279.60 L28.90,279.60 L29.40,279.60 L29.90,279.60 L30.40,279.60 L30.90,279.60 L31.40,279.60 L31.90,279.60 L32.40,279.60 L32.90,279.60 L33.40,279.60 L33.90,279.60 L34.40,279.60 L34.90,279.60 L35.40,279.60 L35.90,279.60 L36.40,279.60 L36.90,279.60 L37.40,279.60 L37.90,279.60 L38.40,279.60 L38.90,279.60 L39.40,279.60 L39.90,279.60 L40.40,279.60 L40.90,279.60 L41.40,279.60 L41.90,279.60 L42.40,279.60 L42.90,279.60 L43.40,279.60 L43.90,279.60 L44.40,279.60 L44.90,279.60 L45.40,279.60 L45.90,279.60 L46.40,279.60 L46.90,279.60 L47.40,279.60 L47.90,279.60 L48.40,279.60 L48.90,279.60 L49.40,279.60 L49.90,279.59 L50.40,279.59 L50.90,279.59 L51.40,279.59 L51.90,279.59 L52.40,279.59 L52.90,279.59 L53.40,279.59 L53.90,279.59 L54.40,279.58 L54.90,279.58 L55.40,279.58 L55.90,279.58 L56.40,279.57 L56.90,279.57 L57.40,279.57 L57.90,279.56 L58.40,279.56 L58.90,279.56 L59.40,279.55 L59.90,279.55 L60.40,279.54 L60.90,279.53 L61.40,279.53 L61.90,279.52 L62.40,279.51 L62.90,279.50 L63.40,279.49 L63.90,279.48 L64.40,279.47 L64.90,279.45 L65.40,279.44 L65.90,279.42 L66.40,279.40 L66.90,279.39 L67.40,279.37 L67.90,279.34 L68.40,279.32 L68.90,279.30 L69.40,279.27 L69.90,279.24 L70.40,279.21 L70.90,279.18 L71.40,279.14 L71.90,279.10 L72.40,279.06 L72.90,279.02 L73.40,278.97 L73.90,278.92 L74.40,278.87 L74.90,278.81 L75.40,278.75 L75.90,278.69 L76.40,278.62 L76.90,278.55 L77.40,278.48 L77.90,278.40 L78.40,278.32 L78.90,278.23 L79.40,278.14 L79.90,278.04 L80.40,277.94 L80.90,277.84 L81.40,277.73 L81.90,277.61 L82.40,277.49 L82.90,277.37 L83.40,277.24 L83.90,277.11 L84.40,276.97 L84.90,276.83 L85.40,276.68 L85.90,276.53 L86.40,276.37 L86.90,276.21 L87.40,276.04 L87.90,275.87 L88.40,275.70 L88.90,275.52 L89.40,275.34 L89.90,275.15 L90.40,274.96 L90.90,274.77 L91.40,274.58 L91.90,274.38 L92.40,274.18 L92.90,273.98 L93.40,273.78 L93.90,273.58 L94.40,273.37 L94.90,273.17 L95.40,272.97 L95.90,272.76 L96.40,272.56 L96.90,272.36 L97.40,272.17 L97.90,271.97 L98.40,271.78 L98.90,271.59 L99.40,271.40 L99.90,271.22 L100.40,271.05 L100.90,270.88 L101.40,270.72 L101.90,270.56 L102.40,270.41 L102.90,270.26 L103.40,270.13 L103.90,270.00 L104.40,269.88 L104.90,269.77 L105.40,269.67 L105.90,269.57 L106.40,269.49 L106.90,269.42 L107.40,269.36 L107.90,269.30 L108.40,269.26 L108.90,269.23 L109.40,269.21 L109.90,269.20 L110.40,269.20 L110.90,269.21 L111.40,269.22 L111.90,269.25 L112.40,269.28 L112.90,269.31 L113.40,269.36 L113.90,269.41 L114.40,269.47 L114.90,269.53 L115.40,269.61 L115.90,269.68 L116.40,269.77 L116.90,269.86 L117.40,269.96 L117.90,270.06 L118.40,270.17 L118.90,270.28 L119.40,270.40 L119.90,270.52 L120.40,270.65 L120.90,270.78 L121.40,270.92 L121.90,271.06 L122.40,271.20 L122.90,271.35 L123.40,271.50 L123.90,271.66 L124.40,271.81 L124.90,271.97 L125.40,272.13 L125.90,272.29 L126.40,272.46 L126.90,272.62 L127.40,272.79 L127.90,272.96 L128.40,273.12 L128.90,273.29 L129.40,273.46 L129.90,273.63 L130.40,273.79 L130.90,273.96 L131.40,274.13 L131.90,274.29 L132.40,274.45 L132.90,274.62 L133.40,274.78 L133.90,274.93 L134.40,275.09 L134.90,275.24 L135.40,275.39 L135.90,275.54 L136.40,275.69 L136.90,275.84 L137.40,275.98 L137.90,276.11 L138.40,276.25 L138.90,276.38 L139.40,276.51 L139.90,276.64 L140.40,276.76 L140.90,276.88 L141.40,277.00 L141.90,277.11 L142.40,277.22 L142.90,277.33 L143.40,277.43 L143.90,277.53 L144.40,277.63 L144.90,277.73 L145.40,277.82 L145.90,277.90 L146.40,277.99 L146.90,278.07 L147.40,278.15 L147.90,278.22 L148.40,278.29 L148.90,278.36 L149.40,278.43 L149.90,278.49 L150.40,278.55 L150.90,278.61 L151.40,278.67 L151.90,278.72 L152.40,278.77 L152.90,278.82 L153.40,278.87 L153.90,278.91 L154.40,278.95 L154.90,278.99 L155.40,279.03 L155.90,279.07 L156.40,279.10 L156.90,279.13 L157.40,279.16 L157.90,279.19 L158.40,279.22 L158.90,279.24 L159.40,279.27 L159.90,279.29 L160.40,279.31 L160.90,279.33 L161.40,279.35 L161.90,279.37 L162.40,279.38 L162.90,279.40 L163.40,279.41 L163.90,279.43 L164.40,279.44 L164.90,279.45 L165.40,279.46 L165.90,279.47 L166.40,279.48 L166.90,279.49 L167.40,279.50 L167.90,279.51 L168.40,279.52 L168.90,279.52 L169.40,279.53 L169.90,279.53 L170.40,279.54 L170.90,279.54 L171.40,279.55 L171.90,279.55 L172.40,279.56 L172.90,279.56 L173.40,279.56 L173.90,279.57 L174.40,279.57 L174.90,279.57 L175.40,279.58 L175.90,279.58 L176.40,279.58 L176.90,279.58 L177.40,279.58 L177.90,279.58 L178.40,279.59 L178.90,279.59 L179.40,279.59 L179.90,279.59 L180.40,279.59 L180.90,279.59 L181.40,279.59 L181.90,279.59 L182.40,279.59 L182.90,279.59 L183.40,279.59 L183.90,279.60 L184.40,279.60 L184.90,279.60 L185.40,279.60 L185.90,279.60 L186.40,279.60 L186.90,279.60 L187.40,279.60 L187.90,279.60 L188.40,279.60 L188.90,279.60 L189.40,279.60 L189.90,279.60 L190.40,279.60 L190.90,279.60 L191.40,279.60 L191.90,279.60 L192.40,279.60 L192.90,279.60 L193.40,279.60 L193.90,279.60 L194.40,279.60 L194.90,279.60 L195.40,279.60 L195.90,279.60 L196.40,279.60" fill="none" stroke="#e07882" stroke-width="1.1" stroke-linejoin="round" />
<path d="M18.40,279.60 L18.90,279.60 L19.40,279.60 L19.90,279.60 L20.40,279.60 L20.90,279.60 L21.40,279.60 L21.90,279.60 L22.40,279.60 L22.90,279.60 L23.40,279.59 L23.90,279.59 L24.40,279.59 L24.90,279.59 L25.40,279.59 L25.90,279.59 L26.40,279.58 L26.90,279.58 L27.40,279.58 L27.90,279.57 L28.40,279.57 L28.90,279.56 L29.40,279.56 L29.90,279.55 L30.40,279.54 L30.90,279.53 L31.40,279.52 L31.90,279.51 L32.40,279.49 L32.90,279.48 L33.40,279.46 L33.90,279.44 L34.40,279.41 L34.90,279.38 L35.40,279.35 L35.90,279.32 L36.40,279.28 L36.90,279.24 L37.40,279.19 L37.90,279.14 L38.40,279.08 L38.90,279.01 L39.40,278.94 L39.90,278.85 L40.40,278.75 L40.90,278.63 L41.40,278.50 L41.90,278.36 L42.40,278.20 L42.90,278.04 L43.40,277.86 L43.90,277.66 L44.40,277.45 L44.90,277.23 L45.40,276.99 L45.90,276.74 L46.40,276.48 L46.90,276.20 L47.40,275.91 L47.90,275.61 L48.40,275.30 L48.90,274.97 L49.40,274.64 L49.90,274.33 L50.40,274.04 L50.90,273.73 L51.40,273.42 L51.90,273.10 L52.40,272.78 L52.90,272.45 L53.40,272.12 L53.90,271.79 L54.40,271.45 L54.90,271.11 L55.40,270.77 L55.90,270.43 L56.40,270.10 L56.90,269.76 L57.40,269.43 L57.90,269.11 L58.40,268.79 L58.90,268.48 L59.40,268.18 L59.90,267.89 L60.40,267.61 L60.90,267.34 L61.40,267.09 L61.90,266.85 L62.40,266.62 L62.90,266.41 L63.40,266.21 L63.90,266.04 L64.40,265.88 L64.90,265.74 L65.40,265.62 L65.90,265.52 L66.40,265.43 L66.90,265.37 L67.40,265.33 L67.90,265.31 L68.40,265.30 L68.90,265.32 L69.40,265.36 L69.90,265.41 L70.40,265.49 L70.90,265.58 L71.40,265.69 L71.90,265.81 L72.40,265.95 L72.90,266.10 L73.40,266.27 L73.90,266.45 L74.40,266.64 L74.90,266.84 L75.40,267.05 L75.90,267.27 L76.40,267.49 L76.90,267.72 L77.40,267.95 L77.90,268.19 L78.40,268.42 L78.90,268.66 L79.40,268.89 L79.90,269.12 L80.40,269.35 L80.90,269.58 L81.40,269.79 L81.90,270.00 L82.40,270.21 L82.90,270.40 L83.40,270.59 L83.90,270.76 L84.40,270.93 L84.90,271.08 L85.40,271.22 L85.90,271.35 L86.40,271.47 L86.90,271.57 L87.40,271.66 L87.90,271.70 L88.40,271.70 L88.90,271.70 L89.40,271.68 L89.90,271.66 L90.40,271.62 L90.90,271.58 L91.40,271.52 L91.90,271.46 L92.40,271.40 L92.90,271.32 L93.40,271.24 L93.90,271.16 L94.40,271.07 L94.90,270.97 L95.40,270.87 L95.90,270.77 L96.40,270.67 L96.90,270.57 L97.40,270.46 L97.90,270.32 L98.40,270.17 L98.90,270.02 L99.40,269.87 L99.90,269.73 L100.40,269.59 L100.90,269.46 L101.40,269.33 L101.90,269.21 L102.40,269.10 L102.90,268.99 L103.40,268.89 L103.90,268.82 L104.40,268.77 L104.90,268.73 L105.40,268.70 L105.90,268.67 L106.40,268.65 L106.90,268.64 L107.40,268.64 L107.90,268.65 L108.40,268.67 L108.90,268.69 L109.40,268.72 L109.90,268.76 L110.40,268.81 L110.90,268.86 L111.40,268.93 L111.90,269.00 L112.40,269.07 L112.90,269.15 L113.40,269.24 L113.90,269.33 L114.40,269.42 L114.90,269.53 L115.40,269.63 L115.90,269.74 L116.40,269.86 L116.90,269.98 L117.40,270.10 L117.90,270.23 L118.40,270.37 L118.90,270.51 L119.40,270.65 L119.90,270.80 L120.40,270.95 L120.90,271.10 L121.40,271.26 L121.90,271.42 L122.40,271.58 L122.90,271.74 L123.40,271.90 L123.90,272.07 L124.40,272.23 L124.90,272.40 L125.40,272.57 L125.90,272.74 L126.40,272.91 L126.90,273.08 L127.40,273.25 L127.90,273.42 L128.40,273.59 L128.90,273.75 L129.40,273.92 L129.90,274.09 L130.40,274.25 L130.90,274.42 L131.40,274.58 L131.90,274.74 L132.40,274.90 L132.90,275.05 L133.40,275.21 L133.90,275.36 L134.40,275.51 L134.90,275.66 L135.40,275.80 L135.90,275.94 L136.40,276.08 L136.90,276.22 L137.40,276.35 L137.90,276.48 L138.40,276.61 L138.90,276.73 L139.40,276.85 L139.90,276.97 L140.40,277.08 L140.90,277.19 L141.40,277.30 L141.90,277.40 L142.40,277.50 L142.90,277.60 L143.40,277.70 L143.90,277.79 L144.40,277.88 L144.90,277.96 L145.40,278.04 L145.90,278.12 L146.40,278.20 L146.90,278.27 L147.40,278.34 L147.90,278.41 L148.40,278.47 L148.90,278.54 L149.40,278.59 L149.90,278.65 L150.40,278.70 L150.90,278.76 L151.40,278.80 L151.90,278.85 L152.40,278.90 L152.90,278.94 L153.40,278.98 L153.90,279.02 L154.40,279.05 L154.90,279.09 L155.40,279.12 L155.90,279.15 L156.40,279.18 L156.90,279.21 L157.40,279.23 L157.90,279.26 L158.40,279.28 L158.90,279.30 L159.40,279.32 L159.90,279.34 L160.40,279.36 L160.90,279.38 L161.40,279.39 L161.90,279.41 L162.40,279.42 L162.90,279.43 L163.40,279.45 L163.90,279.46 L164.40,279.47 L164.90,279.48 L165.40,279.49 L165.90,279.50 L166.40,279.50 L166.90,279.51 L167.40,279.52 L167.90,279.53 L168.40,279.53 L168.90,279.54 L169.40,279.54 L169.90,279.55 L170.40,279.55 L170.90,279.56 L171.40,279.56 L171.90,279.56 L172.40,279.57 L172.90,279.57 L173.40,279.57 L173.90,279.57 L174.40,279.58 L174.90,279.58 L175.40,279.58 L175.90,279.58 L176.40,279.58 L176.90,279.59 L177.40,279.59 L177.90,279.59 L178.40,279.59 L178.90,279.59 L179.40,279.59 L179.90,279.59 L180.40,279.59 L180.90,279.59 L181.40,279.59 L181.90,279.59 L182.40,279.60 L182.90,279.60 L183.40,279.60 L183.90,279.60 L184.40,279.60 L184.90,279.60 L185.40,279.60 L185.90,279.60 L186.40,279.60 L186.90,279.60 L187.40,279.60 L187.90,279.60 L188.40,279.60 L188.90,279.60 L189.40,279.60 L189.90,279.60 L190.40,279.60 L190.90,279.60 L191.40,279.60 L191.90,279.60 L192.40,279.60 L192.90,279.60 L193.40,279.60 L193.90,279.60 L194.40,279.60 L194.90,279.60 L195.40,279.60 L195.90,279.60 L196.40,279.60" fill="none" stroke="#22b5c4" stroke-width="1.2" stroke-linejoin="round" />
<path d="M18.40,279.59 L18.90,279.59 L19.40,279.59 L19.90,279.59 L20.40,279.59 L20.90,279.59 L21.40,279.58 L21.90,279.58 L22.40,279.58 L22.90,279.57 L23.40,279.57 L23.90,279.56 L24.40,279.55 L24.90,279.55 L25.40,279.54 L25.90,279.52 L26.40,279.51 L26.90,279.49 L27.40,279.48 L27.90,279.45 L28.40,279.43 L28.90,279.40 L29.40,279.36 L29.90,279.32 L30.40,279.27 L30.90,279.22 L31.40,279.15 L31.90,279.08 L32.40,279.00 L32.90,278.91 L33.40,278.80 L33.90,278.68 L34.40,278.54 L34.90,278.39 L35.40,278.22 L35.90,278.03 L36.40,277.81 L36.90,277.57 L37.40,277.31 L37.90,277.01 L38.40,276.69 L38.90,276.33 L39.40,275.93 L39.90,275.43 L40.40,274.83 L40.90,274.17 L41.40,273.45 L41.90,272.65 L42.40,271.79 L42.90,270.86 L43.40,269.85 L43.90,268.77 L44.40,267.61 L44.90,266.36 L45.40,265.04 L45.90,263.63 L46.40,262.15 L46.90,260.60 L47.40,258.99 L47.90,257.30 L48.40,255.56 L48.90,253.76 L49.40,251.90 L49.90,250.18 L50.40,248.52 L50.90,246.83 L51.40,245.09 L51.90,243.32 L52.40,241.53 L52.90,239.70 L53.40,237.86 L53.90,235.99 L54.40,234.12 L54.90,232.24 L55.40,230.36 L55.90,228.49 L56.40,226.63 L56.90,224.79 L57.40,222.97 L57.90,221.18 L58.40,219.43 L58.90,217.73 L59.40,216.08 L59.90,214.49 L60.40,212.96 L60.90,211.50 L61.40,210.12 L61.90,208.82 L62.40,207.61 L62.90,206.49 L63.40,205.47 L63.90,204.56 L64.40,203.75 L64.90,203.05 L65.40,202.47 L65.90,202.00 L66.40,201.65 L66.90,201.42 L67.40,201.31 L67.90,201.32 L68.40,201.46 L68.90,201.71 L69.40,202.08 L69.90,202.57 L70.40,203.18 L70.90,203.90 L71.40,204.73 L71.90,205.66 L72.40,206.70 L72.90,207.83 L73.40,209.05 L73.90,210.36 L74.40,211.76 L74.90,213.22 L75.40,214.76 L75.90,216.36 L76.40,218.01 L76.90,219.71 L77.40,221.46 L77.90,223.25 L78.40,225.06 L78.90,226.90 L79.40,228.75 L79.90,230.61 L80.40,232.48 L80.90,234.35 L81.40,236.21 L81.90,238.06 L82.40,239.89 L82.90,241.70 L83.40,243.49 L83.90,245.24 L84.40,246.96 L84.90,248.64 L85.40,250.28 L85.90,251.87 L86.40,253.42 L86.90,254.92 L87.40,256.38 L87.90,257.56 L88.40,258.57 L88.90,259.53 L89.40,260.46 L89.90,261.34 L90.40,262.19 L90.90,263.00 L91.40,263.78 L91.90,264.52 L92.40,265.23 L92.90,265.91 L93.40,266.55 L93.90,267.17 L94.40,267.76 L94.90,268.32 L95.40,268.86 L95.90,269.37 L96.40,269.85 L96.90,270.32 L97.40,270.76 L97.90,271.00 L98.40,271.12 L98.90,271.24 L99.40,271.35 L99.90,271.46 L100.40,271.56 L100.90,271.66 L101.40,271.76 L101.90,271.85 L102.40,271.94 L102.90,272.03 L103.40,272.11 L103.90,272.31 L104.40,272.57 L104.90,272.82 L105.40,273.07 L105.90,273.30 L106.40,273.52 L106.90,273.74 L107.40,273.95 L107.90,274.14 L108.40,274.33 L108.90,274.52 L109.40,274.69 L109.90,274.86 L110.40,275.02 L110.90,275.20 L111.40,275.39 L111.90,275.57 L112.40,275.74 L112.90,275.91 L113.40,276.07 L113.90,276.22 L114.40,276.36 L114.90,276.50 L115.40,276.63 L115.90,276.76 L116.40,276.88 L116.90,276.99 L117.40,277.10 L117.90,277.22 L118.40,277.34 L118.90,277.45 L119.40,277.56 L119.90,277.66 L120.40,277.76 L120.90,277.85 L121.40,277.94 L121.90,278.02 L122.40,278.10 L122.90,278.18 L123.40,278.25 L123.90,278.32 L124.40,278.38 L124.90,278.45 L125.40,278.50 L125.90,278.56 L126.40,278.61 L126.90,278.66 L127.40,278.71 L127.90,278.76 L128.40,278.80 L128.90,278.84 L129.40,278.88 L129.90,278.92 L130.40,278.95 L130.90,278.99 L131.40,279.02 L131.90,279.05 L132.40,279.08 L132.90,279.10 L133.40,279.13 L133.90,279.15 L134.40,279.18 L134.90,279.20 L135.40,279.22 L135.90,279.24 L136.40,279.26 L136.90,279.27 L137.40,279.29 L137.90,279.31 L138.40,279.32 L138.90,279.34 L139.40,279.35 L139.90,279.36 L140.40,279.37 L140.90,279.39 L141.40,279.40 L141.90,279.41 L142.40,279.42 L142.90,279.43 L143.40,279.44 L143.90,279.45 L144.40,279.46 L144.90,279.47 L145.40,279.48 L145.90,279.49 L146.40,279.49 L146.90,279.50 L147.40,279.51 L147.90,279.52 L148.40,279.52 L148.90,279.53 L149.40,279.53 L149.90,279.54 L150.40,279.54 L150.90,279.54 L151.40,279.55 L151.90,279.55 L152.40,279.56 L152.90,279.56 L153.40,279.56 L153.90,279.56 L154.40,279.57 L154.90,279.57 L155.40,279.57 L155.90,279.57 L156.40,279.58 L156.90,279.58 L157.40,279.58 L157.90,279.58 L158.40,279.58 L158.90,279.58 L159.40,279.58 L159.90,279.59 L160.40,279.59 L160.90,279.59 L161.40,279.59 L161.90,279.59 L162.40,279.59 L162.90,279.59 L163.40,279.59 L163.90,279.59 L164.40,279.59 L164.90,279.59 L165.40,279.59 L165.90,279.59 L166.40,279.59 L166.90,279.60 L167.40,279.60 L167.90,279.60 L168.40,279.60 L168.90,279.60 L169.40,279.60 L169.90,279.60 L170.40,279.60 L170.90,279.60 L171.40,279.60 L171.90,279.60 L172.40,279.60 L172.90,279.60 L173.40,279.60 L173.90,279.60 L174.40,279.60 L174.90,279.60 L175.40,279.60 L175.90,279.60 L176.40,279.60 L176.90,279.60 L177.40,279.60 L177.90,279.60 L178.40,279.60 L178.90,279.60 L179.40,279.60 L179.90,279.60 L180.40,279.60 L180.90,279.60 L181.40,279.60 L181.90,279.60 L182.40,279.60 L182.90,279.60 L183.40,279.60 L183.90,279.60 L184.40,279.60 L184.90,279.60 L185.40,279.60 L185.90,279.60 L186.40,279.60 L186.90,279.60 L187.40,279.60 L187.90,279.60 L188.40,279.60 L188.90,279.60 L189.40,279.60 L189.90,279.60 L190.40,279.60 L190.90,279.60 L191.40,279.60 L191.90,279.60 L192.40,279.60 L192.90,279.60 L193.40,279.60 L193.90,279.60 L194.40,279.60 L194.90,279.60 L195.40,279.60 L195.90,279.60 L196.40,279.60" fill="none" stroke="#cfe6c6" stroke-width="1.2" stroke-linejoin="round" />
<path d="M18.40,279.59 L18.90,279.59 L19.40,279.59 L19.90,279.59 L20.40,279.59 L20.90,279.58 L21.40,279.58 L21.90,279.58 L22.40,279.57 L22.90,279.57 L23.40,279.56 L23.90,279.56 L24.40,279.55 L24.90,279.54 L25.40,279.52 L25.90,279.51 L26.40,279.50 L26.90,279.48 L27.40,279.46 L27.90,279.43 L28.40,279.40 L28.90,279.36 L29.40,279.32 L29.90,279.27 L30.40,279.22 L30.90,279.15 L31.40,279.08 L31.90,279.00 L32.40,278.90 L32.90,278.79 L33.40,278.67 L33.90,278.53 L34.40,278.37 L34.90,278.20 L35.40,278.00 L35.90,277.78 L36.40,277.53 L36.90,277.25 L37.40,276.94 L37.90,276.60 L38.40,276.22 L38.90,275.80 L39.40,275.34 L39.90,274.76 L40.40,274.07 L40.90,273.30 L41.40,272.46 L41.90,271.54 L42.40,270.53 L42.90,269.45 L43.40,268.28 L43.90,267.02 L44.40,265.68 L44.90,264.23 L45.40,262.69 L45.90,261.06 L46.40,259.35 L46.90,257.55 L47.40,255.67 L47.90,253.72 L48.40,251.69 L48.90,249.60 L49.40,247.45 L49.90,245.44 L50.40,243.52 L50.90,241.55 L51.40,239.54 L51.90,237.49 L52.40,235.40 L52.90,233.28 L53.40,231.14 L53.90,228.98 L54.40,226.80 L54.90,224.62 L55.40,222.44 L55.90,220.26 L56.40,218.10 L56.90,215.96 L57.40,213.85 L57.90,211.78 L58.40,209.75 L58.90,207.78 L59.40,205.86 L59.90,204.01 L60.40,202.23 L60.90,200.54 L61.40,198.94 L61.90,197.43 L62.40,196.02 L62.90,194.73 L63.40,193.55 L63.90,192.48 L64.40,191.54 L64.90,190.73 L65.40,190.05 L65.90,189.51 L66.40,189.11 L66.90,188.84 L67.40,188.71 L67.90,188.73 L68.40,188.88 L68.90,189.17 L69.40,189.61 L69.90,190.18 L70.40,190.88 L70.90,191.72 L71.40,192.68 L71.90,193.76 L72.40,194.97 L72.90,196.28 L73.40,197.70 L73.90,199.22 L74.40,200.84 L74.90,202.54 L75.40,204.32 L75.90,206.18 L76.40,208.10 L76.90,210.08 L77.40,212.11 L77.90,214.18 L78.40,216.28 L78.90,218.41 L79.40,220.57 L79.90,222.73 L80.40,224.90 L80.90,227.07 L81.40,229.23 L81.90,231.38 L82.40,233.50 L82.90,235.60 L83.40,237.68 L83.90,239.71 L84.40,241.71 L84.90,243.66 L85.40,245.56 L85.90,247.41 L86.40,249.21 L86.90,250.95 L87.40,252.64 L87.90,254.02 L88.40,255.18 L88.90,256.30 L89.40,257.38 L89.90,258.41 L90.40,259.39 L90.90,260.33 L91.40,261.23 L91.90,262.09 L92.40,262.92 L92.90,263.70 L93.40,264.45 L93.90,265.17 L94.40,265.85 L94.90,266.51 L95.40,267.13 L95.90,267.72 L96.40,268.29 L96.90,268.82 L97.40,269.34 L97.90,269.62 L98.40,269.76 L98.90,269.89 L99.40,270.02 L99.90,270.15 L100.40,270.27 L100.90,270.38 L101.40,270.49 L101.90,270.60 L102.40,270.71 L102.90,270.81 L103.40,270.91 L103.90,271.13 L104.40,271.44 L104.90,271.73 L105.40,272.02 L105.90,272.29 L106.40,272.55 L106.90,272.80 L107.40,273.04 L107.90,273.27 L108.40,273.49 L108.90,273.70 L109.40,273.90 L109.90,274.10 L110.40,274.29 L110.90,274.50 L111.40,274.71 L111.90,274.92 L112.40,275.12 L112.90,275.31 L113.40,275.50 L113.90,275.67 L114.40,275.84 L114.90,276.00 L115.40,276.15 L115.90,276.30 L116.40,276.44 L116.90,276.57 L117.40,276.70 L117.90,276.84 L118.40,276.97 L118.90,277.11 L119.40,277.23 L119.90,277.35 L120.40,277.46 L120.90,277.57 L121.40,277.67 L121.90,277.77 L122.40,277.86 L122.90,277.95 L123.40,278.03 L123.90,278.11 L124.40,278.19 L124.90,278.26 L125.40,278.33 L125.90,278.39 L126.40,278.45 L126.90,278.51 L127.40,278.57 L127.90,278.62 L128.40,278.67 L128.90,278.72 L129.40,278.76 L129.90,278.81 L130.40,278.85 L130.90,278.89 L131.40,278.92 L131.90,278.96 L132.40,278.99 L132.90,279.02 L133.40,279.05 L133.90,279.08 L134.40,279.11 L134.90,279.13 L135.40,279.16 L135.90,279.18 L136.40,279.20 L136.90,279.22 L137.40,279.24 L137.90,279.26 L138.40,279.28 L138.90,279.29 L139.40,279.31 L139.90,279.32 L140.40,279.34 L140.90,279.35 L141.40,279.36 L141.90,279.38 L142.40,279.39 L142.90,279.40 L143.40,279.41 L143.90,279.43 L144.40,279.44 L144.90,279.45 L145.40,279.46 L145.90,279.47 L146.40,279.48 L146.90,279.49 L147.40,279.49 L147.90,279.50 L148.40,279.51 L148.90,279.51 L149.40,279.52 L149.90,279.53 L150.40,279.53 L150.90,279.54 L151.40,279.54 L151.90,279.54 L152.40,279.55 L152.90,279.55 L153.40,279.56 L153.90,279.56 L154.40,279.56 L154.90,279.56 L155.40,279.57 L155.90,279.57 L156.40,279.57 L156.90,279.57 L157.40,279.58 L157.90,279.58 L158.40,279.58 L158.90,279.58 L159.40,279.58 L159.90,279.58 L160.40,279.58 L160.90,279.59 L161.40,279.59 L161.90,279.59 L162.40,279.59 L162.90,279.59 L163.40,279.59 L163.90,279.59 L164.40,279.59 L164.90,279.59 L165.40,279.59 L165.90,279.59 L166.40,279.59 L166.90,279.59 L167.40,279.59 L167.90,279.60 L168.40,279.60 L168.90,279.60 L169.40,279.60 L169.90,279.60 L170.40,279.60 L170.90,279.60 L171.40,279.60 L171.90,279.60 L172.40,279.60 L172.90,279.60 L173.40,279.60 L173.90,279.60 L174.40,279.60 L174.90,279.60 L175.40,279.60 L175.90,279.60 L176.40,279.60 L176.90,279.60 L177.40,279.60 L177.90,279.60 L178.40,279.60 L178.90,279.60 L179.40,279.60 L179.90,279.60 L180.40,279.60 L180.90,279.60 L181.40,279.60 L181.90,279.60 L182.40,279.60 L182.90,279.60 L183.40,279.60 L183.90,279.60 L184.40,279.60 L184.90,279.60 L185.40,279.60 L185.90,279.60 L186.40,279.60 L186.90,279.60 L187.40,279.60 L187.90,279.60 L188.40,279.60 L188.90,279.60 L189.40,279.60 L189.90,279.60 L190.40,279.60 L190.90,279.60 L191.40,279.60 L191.90,279.60 L192.40,279.60 L192.90,279.60 L193.40,279.60 L193.90,279.60 L194.40,279.60 L194.90,279.60 L195.40,279.60 L195.90,279.60 L196.40,279.60" fill="none" stroke="#b2d6a4" stroke-width="1.2" stroke-linejoin="round" />
<path d="M18.40,279.59 L18.90,279.59 L19.40,279.59 L19.90,279.59 L20.40,279.59 L20.90,279.58 L21.40,279.58 L21.90,279.58 L22.40,279.57 L22.90,279.56 L23.40,279.56 L23.90,279.55 L24.40,279.54 L24.90,279.53 L25.40,279.52 L25.90,279.50 L26.40,279.48 L26.90,279.46 L27.40,279.44 L27.90,279.41 L28.40,279.38 L28.90,279.34 L29.40,279.29 L29.90,279.24 L30.40,279.17 L30.90,279.10 L31.40,279.02 L31.90,278.93 L32.40,278.82 L32.90,278.70 L33.40,278.56 L33.90,278.41 L34.40,278.23 L34.90,278.04 L35.40,277.81 L35.90,277.57 L36.40,277.29 L36.90,276.98 L37.40,276.64 L37.90,276.26 L38.40,275.83 L38.90,275.37 L39.40,274.86 L39.90,274.21 L40.40,273.43 L40.90,272.58 L41.40,271.64 L41.90,270.61 L42.40,269.50 L42.90,268.29 L43.40,266.98 L43.90,265.58 L44.40,264.09 L44.90,262.48 L45.40,260.76 L45.90,258.94 L46.40,257.03 L46.90,255.02 L47.40,252.93 L47.90,250.75 L48.40,248.50 L48.90,246.17 L49.40,243.77 L49.90,241.53 L50.40,239.39 L50.90,237.20 L51.40,234.96 L51.90,232.67 L52.40,230.34 L52.90,227.98 L53.40,225.59 L53.90,223.18 L54.40,220.76 L54.90,218.33 L55.40,215.90 L55.90,213.48 L56.40,211.07 L56.90,208.68 L57.40,206.33 L57.90,204.02 L58.40,201.76 L58.90,199.56 L59.40,197.42 L59.90,195.36 L60.40,193.38 L60.90,191.50 L61.40,189.71 L61.90,188.03 L62.40,186.46 L62.90,185.02 L63.40,183.70 L63.90,182.52 L64.40,181.47 L64.90,180.57 L65.40,179.81 L65.90,179.20 L66.40,178.75 L66.90,178.45 L67.40,178.31 L67.90,178.33 L68.40,178.50 L68.90,178.83 L69.40,179.31 L69.90,179.95 L70.40,180.73 L70.90,181.66 L71.40,182.73 L71.90,183.94 L72.40,185.28 L72.90,186.75 L73.40,188.33 L73.90,190.03 L74.40,191.83 L74.90,193.73 L75.40,195.71 L75.90,197.78 L76.40,199.92 L76.90,202.12 L77.40,204.38 L77.90,206.69 L78.40,209.04 L78.90,211.41 L79.40,213.81 L79.90,216.22 L80.40,218.64 L80.90,221.06 L81.40,223.47 L81.90,225.86 L82.40,228.23 L82.90,230.57 L83.40,232.88 L83.90,235.15 L84.40,237.37 L84.90,239.54 L85.40,241.66 L85.90,243.73 L86.40,245.73 L86.90,247.68 L87.40,249.55 L87.90,251.09 L88.40,252.39 L88.90,253.64 L89.40,254.83 L89.90,255.98 L90.40,257.08 L90.90,258.13 L91.40,259.13 L91.90,260.09 L92.40,261.01 L92.90,261.88 L93.40,262.72 L93.90,263.52 L94.40,264.28 L94.90,265.01 L95.40,265.70 L95.90,266.36 L96.40,266.99 L96.90,267.59 L97.40,268.16 L97.90,268.48 L98.40,268.63 L98.90,268.78 L99.40,268.93 L99.90,269.06 L100.40,269.20 L100.90,269.33 L101.40,269.45 L101.90,269.57 L102.40,269.69 L102.90,269.80 L103.40,269.91 L103.90,270.17 L104.40,270.51 L104.90,270.83 L105.40,271.15 L105.90,271.45 L106.40,271.74 L106.90,272.02 L107.40,272.28 L107.90,272.54 L108.40,272.79 L108.90,273.02 L109.40,273.25 L109.90,273.47 L110.40,273.68 L110.90,273.91 L111.40,274.15 L111.90,274.39 L112.40,274.61 L112.90,274.82 L113.40,275.03 L113.90,275.22 L114.40,275.41 L114.90,275.59 L115.40,275.76 L115.90,275.92 L116.40,276.08 L116.90,276.23 L117.40,276.37 L117.90,276.52 L118.40,276.67 L118.90,276.82 L119.40,276.96 L119.90,277.09 L120.40,277.22 L120.90,277.34 L121.40,277.45 L121.90,277.56 L122.40,277.66 L122.90,277.76 L123.40,277.85 L123.90,277.94 L124.40,278.03 L124.90,278.11 L125.40,278.18 L125.90,278.26 L126.40,278.32 L126.90,278.39 L127.40,278.45 L127.90,278.51 L128.40,278.57 L128.90,278.62 L129.40,278.67 L129.90,278.72 L130.40,278.76 L130.90,278.80 L131.40,278.85 L131.90,278.88 L132.40,278.92 L132.90,278.96 L133.40,278.99 L133.90,279.02 L134.40,279.05 L134.90,279.08 L135.40,279.11 L135.90,279.13 L136.40,279.16 L136.90,279.18 L137.40,279.20 L137.90,279.22 L138.40,279.24 L138.90,279.26 L139.40,279.28 L139.90,279.29 L140.40,279.31 L140.90,279.32 L141.40,279.34 L141.90,279.35 L142.40,279.36 L142.90,279.38 L143.40,279.39 L143.90,279.41 L144.40,279.42 L144.90,279.43 L145.40,279.44 L145.90,279.45 L146.40,279.46 L146.90,279.47 L147.40,279.48 L147.90,279.49 L148.40,279.50 L148.90,279.50 L149.40,279.51 L149.90,279.52 L150.40,279.52 L150.90,279.53 L151.40,279.53 L151.90,279.54 L152.40,279.54 L152.90,279.55 L153.40,279.55 L153.90,279.55 L154.40,279.56 L154.90,279.56 L155.40,279.56 L155.90,279.57 L156.40,279.57 L156.90,279.57 L157.40,279.57 L157.90,279.57 L158.40,279.58 L158.90,279.58 L159.40,279.58 L159.90,279.58 L160.40,279.58 L160.90,279.58 L161.40,279.59 L161.90,279.59 L162.40,279.59 L162.90,279.59 L163.40,279.59 L163.90,279.59 L164.40,279.59 L164.90,279.59 L165.40,279.59 L165.90,279.59 L166.40,279.59 L166.90,279.59 L167.40,279.59 L167.90,279.59 L168.40,279.59 L168.90,279.60 L169.40,279.60 L169.90,279.60 L170.40,279.60 L170.90,279.60 L171.40,279.60 L171.90,279.60 L172.40,279.60 L172.90,279.60 L173.40,279.60 L173.90,279.60 L174.40,279.60 L174.90,279.60 L175.40,279.60 L175.90,279.60 L176.40,279.60 L176.90,279.60 L177.40,279.60 L177.90,279.60 L178.40,279.60 L178.90,279.60 L179.40,279.60 L179.90,279.60 L180.40,279.60 L180.90,279.60 L181.40,279.60 L181.90,279.60 L182.40,279.60 L182.90,279.60 L183.40,279.60 L183.90,279.60 L184.40,279.60 L184.90,279.60 L185.40,279.60 L185.90,279.60 L186.40,279.60 L186.90,279.60 L187.40,279.60 L187.90,279.60 L188.40,279.60 L188.90,279.60 L189.40,279.60 L189.90,279.60 L190.40,279.60 L190.90,279.60 L191.40,279.60 L191.90,279.60 L192.40,279.60 L192.90,279.60 L193.40,279.60 L193.90,279.60 L194.40,279.60 L194.90,279.60 L195.40,279.60 L195.90,279.60 L196.40,279.60" fill="none" stroke="#8fc27c" stroke-width="1.2" stroke-linejoin="round" />
<path d="M18.40,279.59 L18.90,279.59 L19.40,279.59 L19.90,279.59 L20.40,279.58 L20.90,279.58 L21.40,279.58 L21.90,279.57 L22.40,279.57 L22.90,279.56 L23.40,279.55 L23.90,279.55 L24.40,279.54 L24.90,279.52 L25.40,279.51 L25.90,279.49 L26.40,279.47 L26.90,279.45 L27.40,279.42 L27.90,279.39 L28.40,279.36 L28.90,279.31 L29.40,279.26 L29.90,279.20 L30.40,279.14 L30.90,279.06 L31.40,278.97 L31.90,278.87 L32.40,278.75 L32.90,278.62 L33.40,278.47 L33.90,278.30 L34.40,278.11 L34.90,277.90 L35.40,277.66 L35.90,277.39 L36.40,277.08 L36.90,276.75 L37.40,276.37 L37.90,275.96 L38.40,275.50 L38.90,274.99 L39.40,274.44 L39.90,273.73 L40.40,272.89 L40.90,271.96 L41.40,270.93 L41.90,269.82 L42.40,268.60 L42.90,267.28 L43.40,265.86 L43.90,264.34 L44.40,262.71 L44.90,260.96 L45.40,259.08 L45.90,257.11 L46.40,255.02 L46.90,252.84 L47.40,250.56 L47.90,248.19 L48.40,245.73 L48.90,243.20 L49.40,240.58 L49.90,238.15 L50.40,235.82 L50.90,233.43 L51.40,230.99 L51.90,228.50 L52.40,225.97 L52.90,223.40 L53.40,220.80 L53.90,218.17 L54.40,215.53 L54.90,212.89 L55.40,210.24 L55.90,207.60 L56.40,204.98 L56.90,202.38 L57.40,199.82 L57.90,197.31 L58.40,194.85 L58.90,192.45 L59.40,190.12 L59.90,187.88 L60.40,185.72 L60.90,183.67 L61.40,181.72 L61.90,179.89 L62.40,178.19 L62.90,176.61 L63.40,175.18 L63.90,173.89 L64.40,172.75 L64.90,171.77 L65.40,170.94 L65.90,170.28 L66.40,169.79 L66.90,169.47 L67.40,169.31 L67.90,169.33 L68.40,169.52 L68.90,169.88 L69.40,170.40 L69.90,171.09 L70.40,171.95 L70.90,172.96 L71.40,174.13 L71.90,175.44 L72.40,176.90 L72.90,178.50 L73.40,180.22 L73.90,182.07 L74.40,184.03 L74.90,186.10 L75.40,188.26 L75.90,190.51 L76.40,192.84 L76.90,195.24 L77.40,197.70 L77.90,200.21 L78.40,202.77 L78.90,205.36 L79.40,207.97 L79.90,210.59 L80.40,213.23 L80.90,215.86 L81.40,218.48 L81.90,221.08 L82.40,223.67 L82.90,226.22 L83.40,228.73 L83.90,231.20 L84.40,233.62 L84.90,235.98 L85.40,238.29 L85.90,240.54 L86.40,242.72 L86.90,244.84 L87.40,246.88 L87.90,248.56 L88.40,249.97 L88.90,251.33 L89.40,252.63 L89.90,253.88 L90.40,255.08 L90.90,256.22 L91.40,257.31 L91.90,258.36 L92.40,259.36 L92.90,260.31 L93.40,261.22 L93.90,262.09 L94.40,262.92 L94.90,263.71 L95.40,264.47 L95.90,265.19 L96.40,265.87 L96.90,266.52 L97.40,267.15 L97.90,267.49 L98.40,267.66 L98.90,267.82 L99.40,267.98 L99.90,268.13 L100.40,268.27 L100.90,268.41 L101.40,268.55 L101.90,268.68 L102.40,268.81 L102.90,268.93 L103.40,269.05 L103.90,269.33 L104.40,269.70 L104.90,270.06 L105.40,270.40 L105.90,270.73 L106.40,271.04 L106.90,271.34 L107.40,271.63 L107.90,271.91 L108.40,272.18 L108.90,272.44 L109.40,272.69 L109.90,272.92 L110.40,273.15 L110.90,273.41 L111.40,273.67 L111.90,273.92 L112.40,274.17 L112.90,274.40 L113.40,274.62 L113.90,274.83 L114.40,275.04 L114.90,275.23 L115.40,275.42 L115.90,275.59 L116.40,275.76 L116.90,275.93 L117.40,276.08 L117.90,276.25 L118.40,276.41 L118.90,276.57 L119.40,276.72 L119.90,276.87 L120.40,277.01 L120.90,277.14 L121.40,277.26 L121.90,277.38 L122.40,277.49 L122.90,277.60 L123.40,277.70 L123.90,277.80 L124.40,277.89 L124.90,277.97 L125.40,278.06 L125.90,278.14 L126.40,278.21 L126.90,278.28 L127.40,278.35 L127.90,278.41 L128.40,278.47 L128.90,278.53 L129.40,278.59 L129.90,278.64 L130.40,278.69 L130.90,278.73 L131.40,278.78 L131.90,278.82 L132.40,278.86 L132.90,278.90 L133.40,278.94 L133.90,278.97 L134.40,279.00 L134.90,279.03 L135.40,279.06 L135.90,279.09 L136.40,279.12 L136.90,279.14 L137.40,279.16 L137.90,279.19 L138.40,279.21 L138.90,279.23 L139.40,279.25 L139.90,279.27 L140.40,279.28 L140.90,279.30 L141.40,279.31 L141.90,279.33 L142.40,279.34 L142.90,279.36 L143.40,279.37 L143.90,279.39 L144.40,279.40 L144.90,279.42 L145.40,279.43 L145.90,279.44 L146.40,279.45 L146.90,279.46 L147.40,279.47 L147.90,279.48 L148.40,279.49 L148.90,279.50 L149.40,279.50 L149.90,279.51 L150.40,279.52 L150.90,279.52 L151.40,279.53 L151.90,279.53 L152.40,279.54 L152.90,279.54 L153.40,279.55 L153.90,279.55 L154.40,279.55 L154.90,279.56 L155.40,279.56 L155.90,279.56 L156.40,279.57 L156.90,279.57 L157.40,279.57 L157.90,279.57 L158.40,279.57 L158.90,279.58 L159.40,279.58 L159.90,279.58 L160.40,279.58 L160.90,279.58 L161.40,279.58 L161.90,279.58 L162.40,279.59 L162.90,279.59 L163.40,279.59 L163.90,279.59 L164.40,279.59 L164.90,279.59 L165.40,279.59 L165.90,279.59 L166.40,279.59 L166.90,279.59 L167.40,279.59 L167.90,279.59 L168.40,279.59 L168.90,279.59 L169.40,279.60 L169.90,279.60 L170.40,279.60 L170.90,279.60 L171.40,279.60 L171.90,279.60 L172.40,279.60 L172.90,279.60 L173.40,279.60 L173.90,279.60 L174.40,279.60 L174.90,279.60 L175.40,279.60 L175.90,279.60 L176.40,279.60 L176.90,279.60 L177.40,279.60 L177.90,279.60 L178.40,279.60 L178.90,279.60 L179.40,279.60 L179.90,279.60 L180.40,279.60 L180.90,279.60 L181.40,279.60 L181.90,279.60 L182.40,279.60 L182.90,279.60 L183.40,279.60 L183.90,279.60 L184.40,279.60 L184.90,279.60 L185.40,279.60 L185.90,279.60 L186.40,279.60 L186.90,279.60 L187.40,279.60 L187.90,279.60 L188.40,279.60 L188.90,279.60 L189.40,279.60 L189.90,279.60 L190.40,279.60 L190.90,279.60 L191.40,279.60 L191.90,279.60 L192.40,279.60 L192.90,279.60 L193.40,279.60 L193.90,279.60 L194.40,279.60 L194.90,279.60 L195.40,279.60 L195.90,279.60 L196.40,279.60" fill="none" stroke="#5f9a4a" stroke-width="1.2" stroke-linejoin="round" />
<line x1="18.40" y1="279.80" x2="18.40" y2="283.20" stroke="#303030" stroke-width="1.1" />
<text x="18.40" y="295.00" font-size="10" fill="#231f20" text-anchor="middle" stroke="#231f20" stroke-width="0.15" stroke-linejoin="round">430</text>
<line x1="54.08" y1="279.80" x2="54.08" y2="283.20" stroke="#303030" stroke-width="1.1" />
<text x="54.08" y="295.00" font-size="10" fill="#231f20" text-anchor="middle" stroke="#231f20" stroke-width="0.15" stroke-linejoin="round">510</text>
<line x1="89.76" y1="279.80" x2="89.76" y2="283.20" stroke="#303030" stroke-width="1.1" />
<text x="89.76" y="295.00" font-size="10" fill="#231f20" text-anchor="middle" stroke="#231f20" stroke-width="0.15" stroke-linejoin="round">590</text>
<line x1="125.44" y1="279.80" x2="125.44" y2="283.20" stroke="#303030" stroke-width="1.1" />
<text x="125.44" y="295.00" font-size="10" fill="#231f20" text-anchor="middle" stroke="#231f20" stroke-width="0.15" stroke-linejoin="round">670</text>
<line x1="161.12" y1="279.80" x2="161.12" y2="283.20" stroke="#303030" stroke-width="1.1" />
<text x="161.12" y="295.00" font-size="10" fill="#231f20" text-anchor="middle" stroke="#231f20" stroke-width="0.15" stroke-linejoin="round">750</text>
<line x1="196.80" y1="279.80" x2="196.80" y2="283.20" stroke="#303030" stroke-width="1.1" />
<text x="196.80" y="295.00" font-size="10" fill="#231f20" text-anchor="middle" stroke="#231f20" stroke-width="0.15" stroke-linejoin="round">830</text>
<text x="107.60" y="310.10" font-size="10.2" fill="#231f20" text-anchor="middle" stroke="#231f20" stroke-width="0.15" stroke-linejoin="round">Wavelength (nm)</text>
<text x="0" y="0" transform="translate(10.20,215.45) rotate(-90)" font-size="10.7" fill="#231f20" text-anchor="middle" stroke="#231f20" stroke-width="0.15" stroke-linejoin="round">PL Intensity (a.u.)</text>
<text x="25.60" y="150.80" font-size="8.9" fill="#231f20" stroke="#231f20" stroke-width="0.15" stroke-linejoin="round"><tspan letter-spacing="-0.12">C</tspan><tspan font-size="6.3" dy="2.40" letter-spacing="-0.12">5</tspan><tspan dy="-2.40" letter-spacing="-0.12">H</tspan><tspan font-size="6.3" dy="2.40" letter-spacing="-0.12">11</tspan><tspan dy="-2.40" letter-spacing="-0.12">N</tspan><tspan font-size="6.3" dy="2.40" letter-spacing="-0.12">3</tspan><tspan dy="-2.40" letter-spacing="-0.12">(MnCl</tspan><tspan font-size="6.3" dy="2.40" letter-spacing="-0.12">3</tspan><tspan dy="-2.40" letter-spacing="-0.12">·H</tspan><tspan font-size="6.3" dy="2.40" letter-spacing="-0.12">2</tspan><tspan dy="-2.40" letter-spacing="-0.12">O)Br</tspan></text>
<line x1="144.00" y1="146.20" x2="159.50" y2="146.20" stroke="#e0245a" stroke-width="1.5" />
<text x="164.60" y="149.30" font-size="8.7" fill="#231f20" stroke="#231f20" stroke-width="0.15" stroke-linejoin="round">25 °C</text>
<line x1="144.00" y1="157.97" x2="159.50" y2="157.97" stroke="#e05a6a" stroke-width="1.35" />
<text x="164.60" y="161.07" font-size="8.7" fill="#231f20" stroke="#231f20" stroke-width="0.15" stroke-linejoin="round">35 °C</text>
<line x1="144.00" y1="169.74" x2="159.50" y2="169.74" stroke="#e0646e" stroke-width="1.35" />
<text x="164.60" y="172.84" font-size="8.7" fill="#231f20" stroke="#231f20" stroke-width="0.15" stroke-linejoin="round">45 °C</text>
<line x1="144.00" y1="181.51" x2="159.50" y2="181.51" stroke="#dc5262" stroke-width="1.35" />
<text x="164.60" y="184.61" font-size="8.7" fill="#231f20" stroke="#231f20" stroke-width="0.15" stroke-linejoin="round">55 °C</text>
<line x1="144.00" y1="193.28" x2="159.50" y2="193.28" stroke="#d85866" stroke-width="1.35" />
<text x="164.60" y="196.38" font-size="8.7" fill="#231f20" stroke="#231f20" stroke-width="0.15" stroke-linejoin="round">65 °C</text>
<line x1="144.00" y1="205.05" x2="159.50" y2="205.05" stroke="#e07882" stroke-width="1.35" />
<text x="164.60" y="208.15" font-size="8.7" fill="#231f20" stroke="#231f20" stroke-width="0.15" stroke-linejoin="round">75 °C</text>
<line x1="144.00" y1="216.82" x2="159.50" y2="216.82" stroke="#22b5c4" stroke-width="1.5" />
<text x="164.60" y="219.92" font-size="8.7" fill="#231f20" stroke="#231f20" stroke-width="0.15" stroke-linejoin="round">85 °C</text>
<line x1="144.00" y1="228.59" x2="159.50" y2="228.59" stroke="#cfe6c6" stroke-width="1.35" />
<text x="164.60" y="231.69" font-size="8.7" fill="#231f20" stroke="#231f20" stroke-width="0.15" stroke-linejoin="round">95 °C</text>
<line x1="144.00" y1="240.36" x2="159.50" y2="240.36" stroke="#b2d6a4" stroke-width="1.35" />
<text x="164.60" y="243.46" font-size="8.7" fill="#231f20" stroke="#231f20" stroke-width="0.15" stroke-linejoin="round">105 °C</text>
<line x1="144.00" y1="252.13" x2="159.50" y2="252.13" stroke="#8fc27c" stroke-width="1.35" />
<text x="164.60" y="255.23" font-size="8.7" fill="#231f20" stroke="#231f20" stroke-width="0.15" stroke-linejoin="round">115 °C</text>
<line x1="144.00" y1="263.90" x2="159.50" y2="263.90" stroke="#5f9a4a" stroke-width="1.5" />
<text x="164.60" y="267.00" font-size="8.7" fill="#231f20" stroke="#231f20" stroke-width="0.15" stroke-linejoin="round">125 °C</text>
<text x="213.00" y="141.60" font-size="15" fill="#111" font-weight="bold">c</text>
<path d="M232.40,278.32 L232.90,278.32 L233.40,278.32 L233.90,278.32 L234.40,278.31 L234.90,278.31 L235.40,278.30 L235.90,278.29 L236.40,278.28 L236.90,278.27 L237.40,278.26 L237.90,278.24 L238.40,278.23 L238.90,278.21 L239.40,278.19 L239.90,278.17 L240.40,278.14 L240.90,278.11 L241.40,278.08 L241.90,278.05 L242.40,278.01 L242.90,277.97 L243.40,277.92 L243.90,277.87 L244.40,277.82 L244.90,277.76 L245.40,277.70 L245.90,277.63 L246.40,277.55 L246.90,277.47 L247.40,277.38 L247.90,277.29 L248.40,277.18 L248.90,277.07 L249.40,276.95 L249.90,276.83 L250.40,276.69 L250.90,276.54 L251.40,276.39 L251.90,276.22 L252.40,276.04 L252.90,275.85 L253.40,275.64 L253.90,275.43 L254.40,275.20 L254.90,274.95 L255.40,274.69 L255.90,274.41 L256.40,274.12 L256.90,273.81 L257.40,273.45 L257.90,273.03 L258.40,272.58 L258.90,272.10 L259.40,271.59 L259.90,271.06 L260.40,270.49 L260.90,269.89 L261.40,269.27 L261.90,268.61 L262.40,267.92 L262.90,267.20 L263.40,266.44 L263.90,265.64 L264.40,264.78 L264.90,263.89 L265.40,262.97 L265.90,262.01 L266.40,261.01 L266.90,259.98 L267.40,258.92 L267.90,257.82 L268.40,256.46 L268.90,255.06 L269.40,253.62 L269.90,252.14 L270.40,250.64 L270.90,249.10 L271.40,247.54 L271.90,245.96 L272.40,244.24 L272.90,242.37 L273.40,240.47 L273.90,238.58 L274.40,236.68 L274.90,234.78 L275.40,232.88 L275.90,231.00 L276.40,229.29 L276.90,227.75 L277.40,226.21 L277.90,224.66 L278.40,223.13 L278.90,221.60 L279.40,220.09 L279.90,218.58 L280.40,217.09 L280.90,215.62 L281.40,214.10 L281.90,212.60 L282.40,211.12 L282.90,209.67 L283.40,208.25 L283.90,206.86 L284.40,205.50 L284.90,204.18 L285.40,202.90 L285.90,201.65 L286.40,200.43 L286.90,199.26 L287.40,198.11 L287.90,196.97 L288.40,195.88 L288.90,194.83 L289.40,193.83 L289.90,192.87 L290.40,191.96 L290.90,191.10 L291.40,190.28 L291.90,189.50 L292.40,188.77 L292.90,188.08 L293.40,187.45 L293.90,186.90 L294.40,186.38 L294.90,185.89 L295.40,185.42 L295.90,184.99 L296.40,184.59 L296.90,184.22 L297.40,183.89 L297.90,183.58 L298.40,183.31 L298.90,183.07 L299.40,182.86 L299.90,182.68 L300.40,182.54 L300.90,182.43 L301.40,182.35 L301.90,182.31 L302.40,182.30 L302.90,182.32 L303.40,182.38 L303.90,182.47 L304.40,182.59 L304.90,182.75 L305.40,182.94 L305.90,183.16 L306.40,183.41 L306.90,183.70 L307.40,184.02 L307.90,184.37 L308.40,184.75 L308.90,185.16 L309.40,185.61 L309.90,186.08 L310.40,186.58 L310.90,187.12 L311.40,187.69 L311.90,188.35 L312.40,189.06 L312.90,189.81 L313.40,190.60 L313.90,191.44 L314.40,192.32 L314.90,193.25 L315.40,194.22 L315.90,195.25 L316.40,196.31 L316.90,197.42 L317.40,198.57 L317.90,199.72 L318.40,200.91 L318.90,202.14 L319.40,203.41 L319.90,204.71 L320.40,206.04 L320.90,207.41 L321.40,208.81 L321.90,210.24 L322.40,211.71 L322.90,213.20 L323.40,214.71 L323.90,216.21 L324.40,217.69 L324.90,219.18 L325.40,220.69 L325.90,222.21 L326.40,223.74 L326.90,225.28 L327.40,226.83 L327.90,228.37 L328.40,229.92 L328.90,231.20 L329.40,232.43 L329.90,233.66 L330.40,234.87 L330.90,236.06 L331.40,237.25 L331.90,238.42 L332.40,239.57 L332.90,240.71 L333.40,241.83 L333.90,242.94 L334.40,243.97 L334.90,244.97 L335.40,245.95 L335.90,246.92 L336.40,247.87 L336.90,248.79 L337.40,249.70 L337.90,250.59 L338.40,251.47 L338.90,252.32 L339.40,253.16 L339.90,253.97 L340.40,254.77 L340.90,255.45 L341.40,256.12 L341.90,256.77 L342.40,257.40 L342.90,258.02 L343.40,258.63 L343.90,259.21 L344.40,259.79 L344.90,260.35 L345.40,260.89 L345.90,261.42 L346.40,261.94 L346.90,262.44 L347.40,262.93 L347.90,263.40 L348.40,263.87 L348.90,264.32 L349.40,264.61 L349.90,264.90 L350.40,265.17 L350.90,265.45 L351.40,265.71 L351.90,265.97 L352.40,266.22 L352.90,266.46 L353.40,266.70 L353.90,266.94 L354.40,267.16 L354.90,267.39 L355.40,267.70 L355.90,268.07 L356.40,268.42 L356.90,268.77 L357.40,269.11 L357.90,269.44 L358.40,269.75 L358.90,270.06 L359.40,270.36 L359.90,270.65 L360.40,270.93 L360.90,271.21 L361.40,271.47 L361.90,271.73 L362.40,271.97 L362.90,272.22 L363.40,272.45 L363.90,272.67 L364.40,272.89 L364.90,273.11 L365.40,273.31 L365.90,273.51 L366.40,273.70 L366.90,273.89 L367.40,274.07 L367.90,274.24 L368.40,274.41 L368.90,274.57 L369.40,274.73 L369.90,274.88 L370.40,275.03 L370.90,275.17 L371.40,275.31 L371.90,275.44 L372.40,275.57 L372.90,275.69 L373.40,275.81 L373.90,275.93 L374.40,276.04 L374.90,276.15 L375.40,276.25 L375.90,276.35 L376.40,276.45 L376.90,276.54 L377.40,276.63 L377.90,276.72 L378.40,276.81 L378.90,276.89 L379.40,276.97 L379.90,277.04 L380.40,277.11 L380.90,277.18 L381.40,277.25 L381.90,277.32 L382.40,277.38 L382.90,277.46 L383.40,277.53 L383.90,277.60 L384.40,277.66 L384.90,277.73 L385.40,277.79 L385.90,277.85 L386.40,277.90 L386.90,277.95 L387.40,278.01 L387.90,278.05 L388.40,278.10 L388.90,278.14 L389.40,278.19 L389.90,278.23 L390.40,278.26 L390.90,278.30 L391.40,278.34 L391.90,278.37 L392.40,278.40 L392.90,278.43 L393.40,278.46 L393.90,278.49 L394.40,278.51 L394.90,278.54 L395.40,278.56 L395.90,278.59 L396.40,278.61 L396.90,278.63 L397.40,278.65 L397.90,278.67 L398.40,278.68 L398.90,278.70 L399.40,278.72 L399.90,278.73 L400.40,278.75 L400.90,278.76 L401.40,278.77 L401.90,278.79 L402.40,278.80 L402.90,278.81 L403.40,278.82 L403.90,278.83 L404.40,278.84 L404.90,278.85 L405.40,278.86 L405.90,278.86 L406.40,278.87 L406.90,278.88 L407.40,278.89 L407.90,278.89 L408.40,278.90 L408.90,278.90 L409.40,278.91 L409.90,278.91 L410.40,278.92" fill="none" stroke="#dc2458" stroke-width="1.25" stroke-linejoin="round" />
<path d="M232.40,278.02 L232.90,278.02 L233.40,278.02 L233.90,278.02 L234.40,278.02 L234.90,278.02 L235.40,278.02 L235.90,278.01 L236.40,278.01 L236.90,278.00 L237.40,277.99 L237.90,277.98 L238.40,277.97 L238.90,277.95 L239.40,277.93 L239.90,277.91 L240.40,277.89 L240.90,277.87 L241.40,277.84 L241.90,277.81 L242.40,277.78 L242.90,277.74 L243.40,277.70 L243.90,277.65 L244.40,277.60 L244.90,277.54 L245.40,277.48 L245.90,277.42 L246.40,277.35 L246.90,277.27 L247.40,277.19 L247.90,277.10 L248.40,277.00 L248.90,276.89 L249.40,276.78 L249.90,276.65 L250.40,276.52 L250.90,276.38 L251.40,276.23 L251.90,276.07 L252.40,275.90 L252.90,275.71 L253.40,275.51 L253.90,275.30 L254.40,275.08 L254.90,274.84 L255.40,274.59 L255.90,274.32 L256.40,274.04 L256.90,273.74 L257.40,273.34 L257.90,272.93 L258.40,272.49 L258.90,272.02 L259.40,271.53 L259.90,271.01 L260.40,270.46 L260.90,269.88 L261.40,269.27 L261.90,268.63 L262.40,267.96 L262.90,267.26 L263.40,266.52 L263.90,265.73 L264.40,264.90 L264.90,264.04 L265.40,263.15 L265.90,262.22 L266.40,261.26 L266.90,260.26 L267.40,259.24 L267.90,258.05 L268.40,256.74 L268.90,255.39 L269.40,254.01 L269.90,252.59 L270.40,251.15 L270.90,249.68 L271.40,248.19 L271.90,246.67 L272.40,244.90 L272.90,243.11 L273.40,241.31 L273.90,239.51 L274.40,237.71 L274.90,235.92 L275.40,234.13 L275.90,232.38 L276.40,230.92 L276.90,229.46 L277.40,228.00 L277.90,226.54 L278.40,225.09 L278.90,223.65 L279.40,222.21 L279.90,220.79 L280.40,219.39 L280.90,217.97 L281.40,216.53 L281.90,215.12 L282.40,213.73 L282.90,212.37 L283.40,211.04 L283.90,209.74 L284.40,208.47 L284.90,207.24 L285.40,206.04 L285.90,204.87 L286.40,203.74 L286.90,202.65 L287.40,201.56 L287.90,200.50 L288.40,199.49 L288.90,198.52 L289.40,197.60 L289.90,196.71 L290.40,195.88 L290.90,195.08 L291.40,194.33 L291.90,193.62 L292.40,192.95 L292.90,192.32 L293.40,191.77 L293.90,191.27 L294.40,190.79 L294.90,190.34 L295.40,189.92 L295.90,189.52 L296.40,189.16 L296.90,188.83 L297.40,188.53 L297.90,188.26 L298.40,188.01 L298.90,187.80 L299.40,187.63 L299.90,187.48 L300.40,187.36 L300.90,187.28 L301.40,187.22 L301.90,187.20 L302.40,187.21 L302.90,187.25 L303.40,187.32 L303.90,187.43 L304.40,187.56 L304.90,187.73 L305.40,187.93 L305.90,188.16 L306.40,188.42 L306.90,188.71 L307.40,189.03 L307.90,189.38 L308.40,189.76 L308.90,190.17 L309.40,190.60 L309.90,191.07 L310.40,191.57 L310.90,192.09 L311.40,192.69 L311.90,193.34 L312.40,194.04 L312.90,194.77 L313.40,195.55 L313.90,196.37 L314.40,197.24 L314.90,198.15 L315.40,199.10 L315.90,200.09 L316.40,201.13 L316.90,202.21 L317.40,203.30 L317.90,204.41 L318.40,205.57 L318.90,206.75 L319.40,207.97 L319.90,209.23 L320.40,210.51 L320.90,211.83 L321.40,213.18 L321.90,214.56 L322.40,215.96 L322.90,217.39 L323.40,218.83 L323.90,220.23 L324.40,221.64 L324.90,223.07 L325.40,224.51 L325.90,225.96 L326.40,227.42 L326.90,228.88 L327.40,230.35 L327.90,231.82 L328.40,233.15 L328.90,234.33 L329.40,235.49 L329.90,236.64 L330.40,237.79 L330.90,238.92 L331.40,240.03 L331.90,241.13 L332.40,242.22 L332.90,243.29 L333.40,244.35 L333.90,245.36 L334.40,246.32 L334.90,247.26 L335.40,248.18 L335.90,249.09 L336.40,249.97 L336.90,250.84 L337.40,251.70 L337.90,252.53 L338.40,253.35 L338.90,254.15 L339.40,254.93 L339.90,255.70 L340.40,256.39 L340.90,257.03 L341.40,257.65 L341.90,258.26 L342.40,258.85 L342.90,259.43 L343.40,259.99 L343.90,260.54 L344.40,261.08 L344.90,261.60 L345.40,262.11 L345.90,262.61 L346.40,263.09 L346.90,263.56 L347.40,264.02 L347.90,264.46 L348.40,264.89 L348.90,265.23 L349.40,265.50 L349.90,265.77 L350.40,266.03 L350.90,266.28 L351.40,266.53 L351.90,266.77 L352.40,267.01 L352.90,267.24 L353.40,267.46 L353.90,267.68 L354.40,267.89 L354.90,268.13 L355.40,268.48 L355.90,268.83 L356.40,269.16 L356.90,269.48 L357.40,269.80 L357.90,270.10 L358.40,270.40 L358.90,270.69 L359.40,270.97 L359.90,271.24 L360.40,271.50 L360.90,271.75 L361.40,272.00 L361.90,272.24 L362.40,272.47 L362.90,272.69 L363.40,272.91 L363.90,273.12 L364.40,273.32 L364.90,273.52 L365.40,273.71 L365.90,273.90 L366.40,274.08 L366.90,274.25 L367.40,274.42 L367.90,274.58 L368.40,274.74 L368.90,274.89 L369.40,275.03 L369.90,275.17 L370.40,275.31 L370.90,275.44 L371.40,275.57 L371.90,275.70 L372.40,275.81 L372.90,275.93 L373.40,276.04 L373.90,276.15 L374.40,276.25 L374.90,276.35 L375.40,276.45 L375.90,276.54 L376.40,276.63 L376.90,276.72 L377.40,276.80 L377.90,276.89 L378.40,276.96 L378.90,277.04 L379.40,277.11 L379.90,277.18 L380.40,277.25 L380.90,277.31 L381.40,277.38 L381.90,277.44 L382.40,277.51 L382.90,277.58 L383.40,277.64 L383.90,277.71 L384.40,277.77 L384.90,277.83 L385.40,277.88 L385.90,277.94 L386.40,277.99 L386.90,278.04 L387.40,278.08 L387.90,278.13 L388.40,278.17 L388.90,278.21 L389.40,278.25 L389.90,278.29 L390.40,278.32 L390.90,278.36 L391.40,278.39 L391.90,278.42 L392.40,278.45 L392.90,278.48 L393.40,278.50 L393.90,278.53 L394.40,278.55 L394.90,278.58 L395.40,278.60 L395.90,278.62 L396.40,278.64 L396.90,278.66 L397.40,278.68 L397.90,278.69 L398.40,278.71 L398.90,278.73 L399.40,278.74 L399.90,278.75 L400.40,278.77 L400.90,278.78 L401.40,278.79 L401.90,278.80 L402.40,278.81 L402.90,278.82 L403.40,278.83 L403.90,278.84 L404.40,278.85 L404.90,278.86 L405.40,278.87 L405.90,278.88 L406.40,278.88 L406.90,278.89 L407.40,278.90 L407.90,278.90 L408.40,278.91 L408.90,278.91 L409.40,278.92 L409.90,278.92 L410.40,278.93" fill="none" stroke="#e0404e" stroke-width="1.25" stroke-linejoin="round" />
<path d="M232.40,277.82 L232.90,277.82 L233.40,277.83 L233.90,277.83 L234.40,277.83 L234.90,277.83 L235.40,277.83 L235.90,277.83 L236.40,277.82 L236.90,277.82 L237.40,277.81 L237.90,277.80 L238.40,277.79 L238.90,277.78 L239.40,277.76 L239.90,277.74 L240.40,277.72 L240.90,277.70 L241.40,277.68 L241.90,277.65 L242.40,277.61 L242.90,277.58 L243.40,277.54 L243.90,277.50 L244.40,277.45 L244.90,277.39 L245.40,277.34 L245.90,277.27 L246.40,277.20 L246.90,277.13 L247.40,277.05 L247.90,276.96 L248.40,276.86 L248.90,276.76 L249.40,276.65 L249.90,276.53 L250.40,276.40 L250.90,276.26 L251.40,276.12 L251.90,275.96 L252.40,275.79 L252.90,275.61 L253.40,275.41 L253.90,275.21 L254.40,274.99 L254.90,274.76 L255.40,274.51 L255.90,274.25 L256.40,273.97 L256.90,273.62 L257.40,273.24 L257.90,272.83 L258.40,272.40 L258.90,271.94 L259.40,271.46 L259.90,270.95 L260.40,270.41 L260.90,269.85 L261.40,269.26 L261.90,268.63 L262.40,267.98 L262.90,267.30 L263.40,266.56 L263.90,265.79 L264.40,264.99 L264.90,264.16 L265.40,263.29 L265.90,262.39 L266.40,261.47 L266.90,260.51 L267.40,259.44 L267.90,258.21 L268.40,256.95 L268.90,255.66 L269.40,254.33 L269.90,252.98 L270.40,251.61 L270.90,250.21 L271.40,248.78 L271.90,247.16 L272.40,245.48 L272.90,243.79 L273.40,242.10 L273.90,240.41 L274.40,238.72 L274.90,237.03 L275.40,235.36 L275.90,233.95 L276.40,232.58 L276.90,231.21 L277.40,229.85 L277.90,228.47 L278.40,227.11 L278.90,225.76 L279.40,224.42 L279.90,223.09 L280.40,221.77 L280.90,220.41 L281.40,219.07 L281.90,217.76 L282.40,216.47 L282.90,215.21 L283.40,213.98 L283.90,212.78 L284.40,211.61 L284.90,210.47 L285.40,209.37 L285.90,208.30 L286.40,207.26 L286.90,206.23 L287.40,205.23 L287.90,204.27 L288.40,203.35 L288.90,202.47 L289.40,201.63 L289.90,200.83 L290.40,200.07 L290.90,199.35 L291.40,198.68 L291.90,198.04 L292.40,197.44 L292.90,196.91 L293.40,196.42 L293.90,195.97 L294.40,195.54 L294.90,195.14 L295.40,194.76 L295.90,194.42 L296.40,194.10 L296.90,193.81 L297.40,193.54 L297.90,193.31 L298.40,193.11 L298.90,192.93 L299.40,192.79 L299.90,192.67 L300.40,192.59 L300.90,192.53 L301.40,192.50 L301.90,192.51 L302.40,192.54 L302.90,192.60 L303.40,192.69 L303.90,192.81 L304.40,192.96 L304.90,193.15 L305.40,193.36 L305.90,193.59 L306.40,193.86 L306.90,194.16 L307.40,194.48 L307.90,194.83 L308.40,195.22 L308.90,195.62 L309.40,196.06 L309.90,196.52 L310.40,197.01 L310.90,197.55 L311.40,198.16 L311.90,198.81 L312.40,199.49 L312.90,200.22 L313.40,200.99 L313.90,201.79 L314.40,202.64 L314.90,203.53 L315.40,204.46 L315.90,205.43 L316.40,206.44 L316.90,207.46 L317.40,208.51 L317.90,209.59 L318.40,210.70 L318.90,211.84 L319.40,213.02 L319.90,214.22 L320.40,215.46 L320.90,216.72 L321.40,218.02 L321.90,219.33 L322.40,220.68 L322.90,222.04 L323.40,223.36 L323.90,224.69 L324.40,226.03 L324.90,227.38 L325.40,228.75 L325.90,230.12 L326.40,231.50 L326.90,232.88 L327.40,234.27 L327.90,235.57 L328.40,236.68 L328.90,237.78 L329.40,238.87 L329.90,239.95 L330.40,241.02 L330.90,242.07 L331.40,243.11 L331.90,244.14 L332.40,245.15 L332.90,246.15 L333.40,247.12 L333.90,248.03 L334.40,248.91 L334.90,249.79 L335.40,250.64 L335.90,251.48 L336.40,252.31 L336.90,253.11 L337.40,253.90 L337.90,254.68 L338.40,255.44 L338.90,256.18 L339.40,256.90 L339.90,257.57 L340.40,258.18 L340.90,258.77 L341.40,259.34 L341.90,259.90 L342.40,260.45 L342.90,260.99 L343.40,261.51 L343.90,262.02 L344.40,262.51 L344.90,262.99 L345.40,263.46 L345.90,263.92 L346.40,264.36 L346.90,264.80 L347.40,265.22 L347.90,265.63 L348.40,265.97 L348.90,266.23 L349.40,266.48 L349.90,266.73 L350.40,266.97 L350.90,267.20 L351.40,267.43 L351.90,267.66 L352.40,267.87 L352.90,268.08 L353.40,268.29 L353.90,268.49 L354.40,268.69 L354.90,269.02 L355.40,269.35 L355.90,269.67 L356.40,269.97 L356.90,270.27 L357.40,270.56 L357.90,270.84 L358.40,271.11 L358.90,271.38 L359.40,271.63 L359.90,271.88 L360.40,272.12 L360.90,272.36 L361.40,272.58 L361.90,272.80 L362.40,273.02 L362.90,273.22 L363.40,273.42 L363.90,273.61 L364.40,273.80 L364.90,273.98 L365.40,274.16 L365.90,274.33 L366.40,274.49 L366.90,274.65 L367.40,274.80 L367.90,274.95 L368.40,275.10 L368.90,275.24 L369.40,275.37 L369.90,275.50 L370.40,275.62 L370.90,275.75 L371.40,275.86 L371.90,275.98 L372.40,276.09 L372.90,276.19 L373.40,276.29 L373.90,276.39 L374.40,276.49 L374.90,276.58 L375.40,276.67 L375.90,276.75 L376.40,276.84 L376.90,276.92 L377.40,276.99 L377.90,277.07 L378.40,277.14 L378.90,277.21 L379.40,277.27 L379.90,277.34 L380.40,277.40 L380.90,277.46 L381.40,277.52 L381.90,277.58 L382.40,277.65 L382.90,277.71 L383.40,277.77 L383.90,277.83 L384.40,277.88 L384.90,277.94 L385.40,277.99 L385.90,278.04 L386.40,278.08 L386.90,278.13 L387.40,278.17 L387.90,278.21 L388.40,278.25 L388.90,278.29 L389.40,278.32 L389.90,278.36 L390.40,278.39 L390.90,278.42 L391.40,278.45 L391.90,278.48 L392.40,278.50 L392.90,278.53 L393.40,278.55 L393.90,278.58 L394.40,278.60 L394.90,278.62 L395.40,278.64 L395.90,278.66 L396.40,278.67 L396.90,278.69 L397.40,278.71 L397.90,278.72 L398.40,278.74 L398.90,278.75 L399.40,278.77 L399.90,278.78 L400.40,278.79 L400.90,278.80 L401.40,278.81 L401.90,278.82 L402.40,278.83 L402.90,278.84 L403.40,278.85 L403.90,278.86 L404.40,278.87 L404.90,278.87 L405.40,278.88 L405.90,278.89 L406.40,278.89 L406.90,278.90 L407.40,278.91 L407.90,278.91 L408.40,278.92 L408.90,278.92 L409.40,278.93 L409.90,278.93 L410.40,278.93" fill="none" stroke="#e04652" stroke-width="1.25" stroke-linejoin="round" />
<path d="M232.40,277.61 L232.90,277.61 L233.40,277.62 L233.90,277.62 L234.40,277.62 L234.90,277.62 L235.40,277.62 L235.90,277.62 L236.40,277.61 L236.90,277.61 L237.40,277.60 L237.90,277.59 L238.40,277.58 L238.90,277.57 L239.40,277.55 L239.90,277.53 L240.40,277.51 L240.90,277.49 L241.40,277.46 L241.90,277.43 L242.40,277.40 L242.90,277.36 L243.40,277.32 L243.90,277.28 L244.40,277.23 L244.90,277.17 L245.40,277.11 L245.90,277.04 L246.40,276.97 L246.90,276.89 L247.40,276.81 L247.90,276.72 L248.40,276.62 L248.90,276.51 L249.40,276.40 L249.90,276.27 L250.40,276.14 L250.90,276.00 L251.40,275.85 L251.90,275.69 L252.40,275.51 L252.90,275.33 L253.40,275.13 L253.90,274.92 L254.40,274.70 L254.90,274.46 L255.40,274.21 L255.90,273.92 L256.40,273.57 L256.90,273.20 L257.40,272.81 L257.90,272.40 L258.40,271.96 L258.90,271.50 L259.40,271.01 L259.90,270.50 L260.40,269.96 L260.90,269.40 L261.40,268.81 L261.90,268.19 L262.40,267.53 L262.90,266.83 L263.40,266.11 L263.90,265.35 L264.40,264.56 L264.90,263.75 L265.40,262.90 L265.90,262.03 L266.40,261.13 L266.90,260.03 L267.40,258.88 L267.90,257.70 L268.40,256.49 L268.90,255.25 L269.40,253.99 L269.90,252.71 L270.40,251.40 L270.90,250.03 L271.40,248.49 L271.90,246.93 L272.40,245.36 L272.90,243.79 L273.40,242.22 L273.90,240.66 L274.40,239.10 L274.90,237.61 L275.40,236.34 L275.90,235.07 L276.40,233.80 L276.90,232.54 L277.40,231.28 L277.90,230.02 L278.40,228.77 L278.90,227.53 L279.40,226.30 L279.90,225.06 L280.40,223.80 L280.90,222.56 L281.40,221.35 L281.90,220.16 L282.40,218.99 L282.90,217.85 L283.40,216.74 L283.90,215.66 L284.40,214.61 L284.90,213.59 L285.40,212.60 L285.90,211.64 L286.40,210.69 L286.90,209.76 L287.40,208.87 L287.90,208.02 L288.40,207.20 L288.90,206.42 L289.40,205.68 L289.90,204.98 L290.40,204.32 L290.90,203.69 L291.40,203.10 L291.90,202.54 L292.40,202.04 L292.90,201.60 L293.40,201.17 L293.90,200.77 L294.40,200.40 L294.90,200.05 L295.40,199.72 L295.90,199.42 L296.40,199.15 L296.90,198.91 L297.40,198.69 L297.90,198.49 L298.40,198.33 L298.90,198.19 L299.40,198.08 L299.90,197.99 L300.40,197.93 L300.90,197.90 L301.40,197.90 L301.90,197.93 L302.40,197.98 L302.90,198.06 L303.40,198.16 L303.90,198.30 L304.40,198.46 L304.90,198.65 L305.40,198.86 L305.90,199.10 L306.40,199.37 L306.90,199.66 L307.40,199.98 L307.90,200.32 L308.40,200.69 L308.90,201.09 L309.40,201.51 L309.90,201.95 L310.40,202.43 L310.90,202.98 L311.40,203.57 L311.90,204.19 L312.40,204.85 L312.90,205.54 L313.40,206.27 L313.90,207.04 L314.40,207.85 L314.90,208.69 L315.40,209.58 L315.90,210.50 L316.40,211.45 L316.90,212.40 L317.40,213.39 L317.90,214.40 L318.40,215.45 L318.90,216.53 L319.40,217.63 L319.90,218.76 L320.40,219.92 L320.90,221.11 L321.40,222.32 L321.90,223.55 L322.40,224.80 L322.90,226.05 L323.40,227.28 L323.90,228.52 L324.40,229.77 L324.90,231.03 L325.40,232.30 L325.90,233.57 L326.40,234.85 L326.90,236.14 L327.40,237.43 L327.90,238.57 L328.40,239.60 L328.90,240.61 L329.40,241.62 L329.90,242.62 L330.40,243.61 L330.90,244.58 L331.40,245.55 L331.90,246.50 L332.40,247.44 L332.90,248.36 L333.40,249.25 L333.90,250.09 L334.40,250.91 L334.90,251.72 L335.40,252.51 L335.90,253.29 L336.40,254.05 L336.90,254.80 L337.40,255.53 L337.90,256.25 L338.40,256.95 L338.90,257.64 L339.40,258.31 L339.90,258.93 L340.40,259.49 L340.90,260.04 L341.40,260.57 L341.90,261.09 L342.40,261.60 L342.90,262.10 L343.40,262.58 L343.90,263.05 L344.40,263.51 L344.90,263.96 L345.40,264.40 L345.90,264.82 L346.40,265.24 L346.90,265.64 L347.40,266.03 L347.90,266.41 L348.40,266.75 L348.90,266.99 L349.40,267.23 L349.90,267.46 L350.40,267.68 L350.90,267.90 L351.40,268.11 L351.90,268.32 L352.40,268.52 L352.90,268.72 L353.40,268.91 L353.90,269.10 L354.40,269.29 L354.90,269.57 L355.40,269.87 L355.90,270.17 L356.40,270.45 L356.90,270.73 L357.40,271.00 L357.90,271.27 L358.40,271.52 L358.90,271.77 L359.40,272.01 L359.90,272.24 L360.40,272.47 L360.90,272.69 L361.40,272.90 L361.90,273.11 L362.40,273.31 L362.90,273.50 L363.40,273.69 L363.90,273.87 L364.40,274.05 L364.90,274.22 L365.40,274.38 L365.90,274.54 L366.40,274.70 L366.90,274.85 L367.40,274.99 L367.90,275.13 L368.40,275.27 L368.90,275.40 L369.40,275.53 L369.90,275.65 L370.40,275.77 L370.90,275.88 L371.40,275.99 L371.90,276.10 L372.40,276.21 L372.90,276.31 L373.40,276.40 L373.90,276.50 L374.40,276.59 L374.90,276.67 L375.40,276.76 L375.90,276.84 L376.40,276.92 L376.90,276.99 L377.40,277.07 L377.90,277.14 L378.40,277.21 L378.90,277.27 L379.40,277.34 L379.90,277.40 L380.40,277.46 L380.90,277.51 L381.40,277.57 L381.90,277.62 L382.40,277.68 L382.90,277.74 L383.40,277.80 L383.90,277.86 L384.40,277.91 L384.90,277.96 L385.40,278.01 L385.90,278.06 L386.40,278.10 L386.90,278.14 L387.40,278.19 L387.90,278.23 L388.40,278.26 L388.90,278.30 L389.40,278.33 L389.90,278.37 L390.40,278.40 L390.90,278.43 L391.40,278.46 L391.90,278.48 L392.40,278.51 L392.90,278.53 L393.40,278.56 L393.90,278.58 L394.40,278.60 L394.90,278.62 L395.40,278.64 L395.90,278.66 L396.40,278.68 L396.90,278.69 L397.40,278.71 L397.90,278.72 L398.40,278.74 L398.90,278.75 L399.40,278.77 L399.90,278.78 L400.40,278.79 L400.90,278.80 L401.40,278.81 L401.90,278.82 L402.40,278.83 L402.90,278.84 L403.40,278.85 L403.90,278.86 L404.40,278.87 L404.90,278.87 L405.40,278.88 L405.90,278.89 L406.40,278.89 L406.90,278.90 L407.40,278.90 L407.90,278.91 L408.40,278.91 L408.90,278.92 L409.40,278.92 L409.90,278.93 L410.40,278.93" fill="none" stroke="#dc4458" stroke-width="1.25" stroke-linejoin="round" />
<path d="M232.40,277.31 L232.90,277.32 L233.40,277.32 L233.90,277.33 L234.40,277.34 L234.90,277.34 L235.40,277.34 L235.90,277.35 L236.40,277.35 L236.90,277.35 L237.40,277.34 L237.90,277.34 L238.40,277.33 L238.90,277.32 L239.40,277.31 L239.90,277.30 L240.40,277.29 L240.90,277.27 L241.40,277.25 L241.90,277.23 L242.40,277.20 L242.90,277.17 L243.40,277.14 L243.90,277.10 L244.40,277.06 L244.90,277.01 L245.40,276.96 L245.90,276.91 L246.40,276.85 L246.90,276.78 L247.40,276.71 L247.90,276.63 L248.40,276.55 L248.90,276.46 L249.40,276.36 L249.90,276.25 L250.40,276.14 L250.90,276.02 L251.40,275.89 L251.90,275.75 L252.40,275.61 L252.90,275.45 L253.40,275.28 L253.90,275.10 L254.40,274.91 L254.90,274.70 L255.40,274.44 L255.90,274.16 L256.40,273.86 L256.90,273.54 L257.40,273.21 L257.90,272.85 L258.40,272.48 L258.90,272.09 L259.40,271.68 L259.90,271.24 L260.40,270.79 L260.90,270.31 L261.40,269.81 L261.90,269.27 L262.40,268.71 L262.90,268.13 L263.40,267.52 L263.90,266.89 L264.40,266.23 L264.90,265.56 L265.40,264.86 L265.90,264.08 L266.40,263.19 L266.90,262.27 L267.40,261.32 L267.90,260.36 L268.40,259.37 L268.90,258.37 L269.40,257.34 L269.90,256.31 L270.40,255.15 L270.90,253.93 L271.40,252.69 L271.90,251.45 L272.40,250.21 L272.90,248.97 L273.40,247.73 L273.90,246.51 L274.40,245.40 L274.90,244.40 L275.40,243.39 L275.90,242.39 L276.40,241.40 L276.90,240.41 L277.40,239.42 L277.90,238.43 L278.40,237.44 L278.90,236.47 L279.40,235.48 L279.90,234.48 L280.40,233.50 L280.90,232.54 L281.40,231.60 L281.90,230.67 L282.40,229.77 L282.90,228.89 L283.40,228.04 L283.90,227.21 L284.40,226.40 L284.90,225.61 L285.40,224.85 L285.90,224.09 L286.40,223.36 L286.90,222.65 L287.40,221.98 L287.90,221.33 L288.40,220.72 L288.90,220.13 L289.40,219.57 L289.90,219.04 L290.40,218.54 L290.90,218.07 L291.40,217.63 L291.90,217.24 L292.40,216.88 L292.90,216.54 L293.40,216.22 L293.90,215.92 L294.40,215.64 L294.90,215.38 L295.40,215.14 L295.90,214.93 L296.40,214.73 L296.90,214.55 L297.40,214.40 L297.90,214.26 L298.40,214.15 L298.90,214.05 L299.40,213.98 L299.90,213.93 L300.40,213.91 L300.90,213.90 L301.40,213.92 L301.90,213.95 L302.40,214.01 L302.90,214.09 L303.40,214.19 L303.90,214.31 L304.40,214.46 L304.90,214.62 L305.40,214.81 L305.90,215.01 L306.40,215.24 L306.90,215.49 L307.40,215.75 L307.90,216.04 L308.40,216.35 L308.90,216.67 L309.40,217.02 L309.90,217.38 L310.40,217.80 L310.90,218.26 L311.40,218.74 L311.90,219.25 L312.40,219.79 L312.90,220.36 L313.40,220.96 L313.90,221.59 L314.40,222.24 L314.90,222.93 L315.40,223.65 L315.90,224.40 L316.40,225.15 L316.90,225.92 L317.40,226.72 L317.90,227.54 L318.40,228.38 L318.90,229.24 L319.40,230.13 L319.90,231.04 L320.40,231.97 L320.90,232.92 L321.40,233.89 L321.90,234.87 L322.40,235.88 L322.90,236.86 L323.40,237.84 L323.90,238.82 L324.40,239.82 L324.90,240.83 L325.40,241.84 L325.90,242.85 L326.40,243.87 L326.90,244.89 L327.40,245.92 L327.90,246.77 L328.40,247.58 L328.90,248.39 L329.40,249.19 L329.90,249.98 L330.40,250.76 L330.90,251.54 L331.40,252.30 L331.90,253.06 L332.40,253.80 L332.90,254.53 L333.40,255.23 L333.90,255.89 L334.40,256.54 L334.90,257.18 L335.40,257.81 L335.90,258.43 L336.40,259.04 L336.90,259.63 L337.40,260.21 L337.90,260.78 L338.40,261.34 L338.90,261.88 L339.40,262.41 L339.90,262.90 L340.40,263.35 L340.90,263.78 L341.40,264.21 L341.90,264.62 L342.40,265.03 L342.90,265.42 L343.40,265.81 L343.90,266.18 L344.40,266.55 L344.90,266.91 L345.40,267.25 L345.90,267.59 L346.40,267.92 L346.90,268.24 L347.40,268.56 L347.90,268.86 L348.40,269.14 L348.90,269.34 L349.40,269.52 L349.90,269.71 L350.40,269.88 L350.90,270.06 L351.40,270.23 L351.90,270.39 L352.40,270.56 L352.90,270.71 L353.40,270.87 L353.90,271.02 L354.40,271.17 L354.90,271.36 L355.40,271.61 L355.90,271.84 L356.40,272.07 L356.90,272.30 L357.40,272.51 L357.90,272.72 L358.40,272.93 L358.90,273.13 L359.40,273.32 L359.90,273.51 L360.40,273.69 L360.90,273.87 L361.40,274.04 L361.90,274.21 L362.40,274.37 L362.90,274.52 L363.40,274.67 L363.90,274.82 L364.40,274.96 L364.90,275.10 L365.40,275.23 L365.90,275.36 L366.40,275.49 L366.90,275.61 L367.40,275.73 L367.90,275.84 L368.40,275.95 L368.90,276.05 L369.40,276.16 L369.90,276.26 L370.40,276.35 L370.90,276.45 L371.40,276.54 L371.90,276.62 L372.40,276.71 L372.90,276.79 L373.40,276.87 L373.90,276.94 L374.40,277.02 L374.90,277.09 L375.40,277.16 L375.90,277.22 L376.40,277.29 L376.90,277.35 L377.40,277.41 L377.90,277.46 L378.40,277.52 L378.90,277.57 L379.40,277.63 L379.90,277.68 L380.40,277.72 L380.90,277.77 L381.40,277.82 L381.90,277.86 L382.40,277.90 L382.90,277.95 L383.40,278.00 L383.90,278.05 L384.40,278.09 L384.90,278.13 L385.40,278.17 L385.90,278.21 L386.40,278.25 L386.90,278.28 L387.40,278.32 L387.90,278.35 L388.40,278.38 L388.90,278.41 L389.40,278.44 L389.90,278.47 L390.40,278.49 L390.90,278.52 L391.40,278.54 L391.90,278.56 L392.40,278.58 L392.90,278.61 L393.40,278.62 L393.90,278.64 L394.40,278.66 L394.90,278.68 L395.40,278.69 L395.90,278.71 L396.40,278.73 L396.90,278.74 L397.40,278.75 L397.90,278.77 L398.40,278.78 L398.90,278.79 L399.40,278.80 L399.90,278.81 L400.40,278.82 L400.90,278.83 L401.40,278.84 L401.90,278.85 L402.40,278.86 L402.90,278.86 L403.40,278.87 L403.90,278.88 L404.40,278.88 L404.90,278.89 L405.40,278.90 L405.90,278.90 L406.40,278.91 L406.90,278.91 L407.40,278.92 L407.90,278.92 L408.40,278.93 L408.90,278.93 L409.40,278.93 L409.90,278.94 L410.40,278.94" fill="none" stroke="#dc4a5a" stroke-width="1.25" stroke-linejoin="round" />
<path d="M232.40,277.10 L232.90,277.11 L233.40,277.12 L233.90,277.13 L234.40,277.14 L234.90,277.14 L235.40,277.15 L235.90,277.15 L236.40,277.15 L236.90,277.15 L237.40,277.15 L237.90,277.15 L238.40,277.15 L238.90,277.14 L239.40,277.13 L239.90,277.12 L240.40,277.11 L240.90,277.09 L241.40,277.07 L241.90,277.05 L242.40,277.03 L242.90,277.00 L243.40,276.97 L243.90,276.93 L244.40,276.89 L244.90,276.85 L245.40,276.80 L245.90,276.75 L246.40,276.70 L246.90,276.63 L247.40,276.57 L247.90,276.49 L248.40,276.41 L248.90,276.33 L249.40,276.23 L249.90,276.13 L250.40,276.03 L250.90,275.91 L251.40,275.79 L251.90,275.66 L252.40,275.52 L252.90,275.37 L253.40,275.21 L253.90,275.04 L254.40,274.84 L254.90,274.60 L255.40,274.35 L255.90,274.08 L256.40,273.80 L256.90,273.50 L257.40,273.18 L257.90,272.85 L258.40,272.50 L258.90,272.13 L259.40,271.75 L259.90,271.34 L260.40,270.92 L260.90,270.47 L261.40,269.99 L261.90,269.49 L262.40,268.97 L262.90,268.43 L263.40,267.87 L263.90,267.29 L264.40,266.69 L264.90,266.07 L265.40,265.34 L265.90,264.55 L266.40,263.74 L266.90,262.90 L267.40,262.05 L267.90,261.18 L268.40,260.29 L268.90,259.39 L269.40,258.47 L269.90,257.43 L270.40,256.34 L270.90,255.25 L271.40,254.16 L271.90,253.07 L272.40,251.98 L272.90,250.89 L273.40,249.81 L273.90,248.86 L274.40,247.98 L274.90,247.10 L275.40,246.22 L275.90,245.34 L276.40,244.47 L276.90,243.61 L277.40,242.75 L277.90,241.88 L278.40,241.02 L278.90,240.14 L279.40,239.26 L279.90,238.39 L280.40,237.54 L280.90,236.71 L281.40,235.89 L281.90,235.10 L282.40,234.32 L282.90,233.56 L283.40,232.82 L283.90,232.11 L284.40,231.41 L284.90,230.74 L285.40,230.07 L285.90,229.42 L286.40,228.79 L286.90,228.19 L287.40,227.62 L287.90,227.07 L288.40,226.54 L288.90,226.05 L289.40,225.58 L289.90,225.13 L290.40,224.71 L290.90,224.31 L291.40,223.95 L291.90,223.63 L292.40,223.33 L292.90,223.04 L293.40,222.77 L293.90,222.52 L294.40,222.29 L294.90,222.07 L295.40,221.87 L295.90,221.69 L296.40,221.53 L296.90,221.39 L297.40,221.26 L297.90,221.15 L298.40,221.07 L298.90,221.00 L299.40,220.95 L299.90,220.91 L300.40,220.90 L300.90,220.91 L301.40,220.93 L301.90,220.97 L302.40,221.04 L302.90,221.12 L303.40,221.22 L303.90,221.33 L304.40,221.47 L304.90,221.63 L305.40,221.80 L305.90,221.99 L306.40,222.20 L306.90,222.43 L307.40,222.67 L307.90,222.93 L308.40,223.21 L308.90,223.51 L309.40,223.82 L309.90,224.16 L310.40,224.55 L310.90,224.96 L311.40,225.39 L311.90,225.86 L312.40,226.34 L312.90,226.85 L313.40,227.39 L313.90,227.96 L314.40,228.55 L314.90,229.16 L315.40,229.80 L315.90,230.47 L316.40,231.14 L316.90,231.83 L317.40,232.54 L317.90,233.26 L318.40,234.01 L318.90,234.78 L319.40,235.57 L319.90,236.38 L320.40,237.21 L320.90,238.05 L321.40,238.91 L321.90,239.78 L322.40,240.67 L322.90,241.53 L323.40,242.40 L323.90,243.27 L324.40,244.16 L324.90,245.04 L325.40,245.94 L325.90,246.84 L326.40,247.74 L326.90,248.64 L327.40,249.55 L327.90,250.28 L328.40,251.00 L328.90,251.72 L329.40,252.42 L329.90,253.12 L330.40,253.81 L330.90,254.50 L331.40,255.17 L331.90,255.84 L332.40,256.50 L332.90,257.14 L333.40,257.76 L333.90,258.35 L334.40,258.93 L334.90,259.49 L335.40,260.05 L335.90,260.59 L336.40,261.13 L336.90,261.66 L337.40,262.17 L337.90,262.67 L338.40,263.17 L338.90,263.65 L339.40,264.12 L339.90,264.57 L340.40,264.96 L340.90,265.35 L341.40,265.73 L341.90,266.09 L342.40,266.45 L342.90,266.80 L343.40,267.15 L343.90,267.48 L344.40,267.81 L344.90,268.12 L345.40,268.43 L345.90,268.73 L346.40,269.03 L346.90,269.31 L347.40,269.59 L347.90,269.86 L348.40,270.13 L348.90,270.32 L349.40,270.48 L349.90,270.65 L350.40,270.81 L350.90,270.96 L351.40,271.11 L351.90,271.26 L352.40,271.41 L352.90,271.55 L353.40,271.68 L353.90,271.82 L354.40,271.95 L354.90,272.08 L355.40,272.30 L355.90,272.51 L356.40,272.72 L356.90,272.92 L357.40,273.11 L357.90,273.30 L358.40,273.49 L358.90,273.67 L359.40,273.84 L359.90,274.01 L360.40,274.17 L360.90,274.33 L361.40,274.48 L361.90,274.63 L362.40,274.78 L362.90,274.92 L363.40,275.06 L363.90,275.19 L364.40,275.32 L364.90,275.44 L365.40,275.56 L365.90,275.68 L366.40,275.79 L366.90,275.90 L367.40,276.00 L367.90,276.11 L368.40,276.21 L368.90,276.30 L369.40,276.40 L369.90,276.49 L370.40,276.57 L370.90,276.66 L371.40,276.74 L371.90,276.82 L372.40,276.89 L372.90,276.97 L373.40,277.04 L373.90,277.11 L374.40,277.18 L374.90,277.24 L375.40,277.30 L375.90,277.36 L376.40,277.42 L376.90,277.48 L377.40,277.53 L377.90,277.58 L378.40,277.63 L378.90,277.68 L379.40,277.73 L379.90,277.78 L380.40,277.82 L380.90,277.86 L381.40,277.90 L381.90,277.94 L382.40,277.98 L382.90,278.02 L383.40,278.06 L383.90,278.11 L384.40,278.15 L384.90,278.19 L385.40,278.22 L385.90,278.26 L386.40,278.29 L386.90,278.33 L387.40,278.36 L387.90,278.39 L388.40,278.42 L388.90,278.44 L389.40,278.47 L389.90,278.50 L390.40,278.52 L390.90,278.54 L391.40,278.57 L391.90,278.59 L392.40,278.61 L392.90,278.63 L393.40,278.64 L393.90,278.66 L394.40,278.68 L394.90,278.69 L395.40,278.71 L395.90,278.72 L396.40,278.74 L396.90,278.75 L397.40,278.76 L397.90,278.78 L398.40,278.79 L398.90,278.80 L399.40,278.81 L399.90,278.82 L400.40,278.83 L400.90,278.84 L401.40,278.85 L401.90,278.85 L402.40,278.86 L402.90,278.87 L403.40,278.88 L403.90,278.88 L404.40,278.89 L404.90,278.89 L405.40,278.90 L405.90,278.91 L406.40,278.91 L406.90,278.92 L407.40,278.92 L407.90,278.92 L408.40,278.93 L408.90,278.93 L409.40,278.94 L409.90,278.94 L410.40,278.94" fill="none" stroke="#de5462" stroke-width="1.25" stroke-linejoin="round" />
<path d="M232.40,276.71 L232.90,276.72 L233.40,276.74 L233.90,276.75 L234.40,276.76 L234.90,276.77 L235.40,276.79 L235.90,276.80 L236.40,276.80 L236.90,276.81 L237.40,276.82 L237.90,276.82 L238.40,276.82 L238.90,276.82 L239.40,276.82 L239.90,276.82 L240.40,276.82 L240.90,276.81 L241.40,276.80 L241.90,276.79 L242.40,276.77 L242.90,276.76 L243.40,276.74 L243.90,276.71 L244.40,276.69 L244.90,276.66 L245.40,276.62 L245.90,276.58 L246.40,276.54 L246.90,276.50 L247.40,276.45 L247.90,276.39 L248.40,276.33 L248.90,276.27 L249.40,276.19 L249.90,276.12 L250.40,276.03 L250.90,275.95 L251.40,275.85 L251.90,275.75 L252.40,275.64 L252.90,275.52 L253.40,275.38 L253.90,275.21 L254.40,275.03 L254.90,274.84 L255.40,274.64 L255.90,274.43 L256.40,274.20 L256.90,273.96 L257.40,273.71 L257.90,273.44 L258.40,273.16 L258.90,272.87 L259.40,272.56 L259.90,272.24 L260.40,271.89 L260.90,271.53 L261.40,271.15 L261.90,270.76 L262.40,270.35 L262.90,269.92 L263.40,269.49 L263.90,269.03 L264.40,268.53 L264.90,267.95 L265.40,267.35 L265.90,266.73 L266.40,266.11 L266.90,265.46 L267.40,264.81 L267.90,264.14 L268.40,263.47 L268.90,262.74 L269.40,261.93 L269.90,261.12 L270.40,260.31 L270.90,259.50 L271.40,258.68 L271.90,257.87 L272.40,257.06 L272.90,256.29 L273.40,255.63 L273.90,254.98 L274.40,254.32 L274.90,253.67 L275.40,253.02 L275.90,252.38 L276.40,251.74 L276.90,251.10 L277.40,250.47 L277.90,249.83 L278.40,249.16 L278.90,248.50 L279.40,247.85 L279.90,247.21 L280.40,246.59 L280.90,245.98 L281.40,245.39 L281.90,244.81 L282.40,244.24 L282.90,243.69 L283.40,243.16 L283.90,242.64 L284.40,242.13 L284.90,241.63 L285.40,241.14 L285.90,240.68 L286.40,240.23 L286.90,239.80 L287.40,239.39 L287.90,239.00 L288.40,238.63 L288.90,238.28 L289.40,237.95 L289.90,237.64 L290.40,237.34 L290.90,237.08 L291.40,236.84 L291.90,236.61 L292.40,236.40 L292.90,236.20 L293.40,236.01 L293.90,235.84 L294.40,235.67 L294.90,235.53 L295.40,235.39 L295.90,235.27 L296.40,235.16 L296.90,235.07 L297.40,234.99 L297.90,234.92 L298.40,234.87 L298.90,234.83 L299.40,234.81 L299.90,234.80 L300.40,234.80 L300.90,234.82 L301.40,234.85 L301.90,234.90 L302.40,234.96 L302.90,235.04 L303.40,235.12 L303.90,235.23 L304.40,235.34 L304.90,235.47 L305.40,235.61 L305.90,235.77 L306.40,235.94 L306.90,236.12 L307.40,236.32 L307.90,236.53 L308.40,236.75 L308.90,236.98 L309.40,237.23 L309.90,237.52 L310.40,237.82 L310.90,238.15 L311.40,238.49 L311.90,238.85 L312.40,239.24 L312.90,239.64 L313.40,240.06 L313.90,240.50 L314.40,240.95 L314.90,241.43 L315.40,241.93 L315.90,242.43 L316.40,242.95 L316.90,243.47 L317.40,244.02 L317.90,244.58 L318.40,245.15 L318.90,245.74 L319.40,246.35 L319.90,246.96 L320.40,247.59 L320.90,248.24 L321.40,248.89 L321.90,249.56 L322.40,250.22 L322.90,250.86 L323.40,251.52 L323.90,252.18 L324.40,252.85 L324.90,253.52 L325.40,254.20 L325.90,254.87 L326.40,255.55 L326.90,256.24 L327.40,256.86 L327.90,257.41 L328.40,257.95 L328.90,258.48 L329.40,259.01 L329.90,259.54 L330.40,260.06 L330.90,260.57 L331.40,261.07 L331.90,261.57 L332.40,262.07 L332.90,262.55 L333.40,263.00 L333.90,263.44 L334.40,263.87 L334.90,264.30 L335.40,264.72 L335.90,265.13 L336.40,265.53 L336.90,265.92 L337.40,266.31 L337.90,266.68 L338.40,267.05 L338.90,267.41 L339.40,267.77 L339.90,268.09 L340.40,268.39 L340.90,268.68 L341.40,268.96 L341.90,269.24 L342.40,269.51 L342.90,269.77 L343.40,270.03 L343.90,270.28 L344.40,270.52 L344.90,270.76 L345.40,270.99 L345.90,271.22 L346.40,271.44 L346.90,271.65 L347.40,271.86 L347.90,272.07 L348.40,272.26 L348.90,272.40 L349.40,272.53 L349.90,272.65 L350.40,272.77 L350.90,272.89 L351.40,273.00 L351.90,273.11 L352.40,273.22 L352.90,273.33 L353.40,273.43 L353.90,273.53 L354.40,273.63 L354.90,273.73 L355.40,273.89 L355.90,274.05 L356.40,274.21 L356.90,274.36 L357.40,274.51 L357.90,274.65 L358.40,274.79 L358.90,274.92 L359.40,275.06 L359.90,275.18 L360.40,275.31 L360.90,275.43 L361.40,275.54 L361.90,275.66 L362.40,275.77 L362.90,275.87 L363.40,275.98 L363.90,276.08 L364.40,276.17 L364.90,276.27 L365.40,276.36 L365.90,276.45 L366.40,276.53 L366.90,276.62 L367.40,276.70 L367.90,276.78 L368.40,276.85 L368.90,276.92 L369.40,277.00 L369.90,277.06 L370.40,277.13 L370.90,277.19 L371.40,277.26 L371.90,277.32 L372.40,277.38 L372.90,277.43 L373.40,277.49 L373.90,277.54 L374.40,277.59 L374.90,277.64 L375.40,277.69 L375.90,277.73 L376.40,277.78 L376.90,277.82 L377.40,277.86 L377.90,277.90 L378.40,277.94 L378.90,277.98 L379.40,278.02 L379.90,278.05 L380.40,278.08 L380.90,278.12 L381.40,278.15 L381.90,278.18 L382.40,278.21 L382.90,278.24 L383.40,278.27 L383.90,278.30 L384.40,278.33 L384.90,278.36 L385.40,278.39 L385.90,278.42 L386.40,278.45 L386.90,278.47 L387.40,278.49 L387.90,278.52 L388.40,278.54 L388.90,278.56 L389.40,278.58 L389.90,278.60 L390.40,278.62 L390.90,278.64 L391.40,278.66 L391.90,278.67 L392.40,278.69 L392.90,278.70 L393.40,278.72 L393.90,278.73 L394.40,278.74 L394.90,278.76 L395.40,278.77 L395.90,278.78 L396.40,278.79 L396.90,278.80 L397.40,278.81 L397.90,278.82 L398.40,278.83 L398.90,278.84 L399.40,278.85 L399.90,278.85 L400.40,278.86 L400.90,278.87 L401.40,278.88 L401.90,278.88 L402.40,278.89 L402.90,278.89 L403.40,278.90 L403.90,278.91 L404.40,278.91 L404.90,278.91 L405.40,278.92 L405.90,278.92 L406.40,278.93 L406.90,278.93 L407.40,278.94 L407.90,278.94 L408.40,278.94 L408.90,278.95 L409.40,278.95 L409.90,278.95 L410.40,278.95" fill="none" stroke="#e27a84" stroke-width="1.1" stroke-linejoin="round" />
<path d="M232.40,276.39 L232.90,276.41 L233.40,276.43 L233.90,276.45 L234.40,276.46 L234.90,276.48 L235.40,276.49 L235.90,276.50 L236.40,276.51 L236.90,276.52 L237.40,276.53 L237.90,276.53 L238.40,276.54 L238.90,276.54 L239.40,276.54 L239.90,276.54 L240.40,276.54 L240.90,276.53 L241.40,276.52 L241.90,276.51 L242.40,276.50 L242.90,276.49 L243.40,276.47 L243.90,276.44 L244.40,276.42 L244.90,276.39 L245.40,276.36 L245.90,276.32 L246.40,276.28 L246.90,276.24 L247.40,276.19 L247.90,276.13 L248.40,276.07 L248.90,276.01 L249.40,275.94 L249.90,275.86 L250.40,275.78 L250.90,275.70 L251.40,275.60 L251.90,275.50 L252.40,275.39 L252.90,275.24 L253.40,275.08 L253.90,274.92 L254.40,274.74 L254.90,274.55 L255.40,274.35 L255.90,274.14 L256.40,273.92 L256.90,273.69 L257.40,273.44 L257.90,273.18 L258.40,272.91 L258.90,272.62 L259.40,272.31 L259.90,271.99 L260.40,271.65 L260.90,271.30 L261.40,270.94 L261.90,270.56 L262.40,270.17 L262.90,269.76 L263.40,269.35 L263.90,268.84 L264.40,268.30 L264.90,267.75 L265.40,267.18 L265.90,266.60 L266.40,266.01 L266.90,265.41 L267.40,264.79 L267.90,264.17 L268.40,263.46 L268.90,262.72 L269.40,261.98 L269.90,261.24 L270.40,260.49 L270.90,259.75 L271.40,259.01 L271.90,258.27 L272.40,257.61 L272.90,257.01 L273.40,256.41 L273.90,255.81 L274.40,255.22 L274.90,254.63 L275.40,254.04 L275.90,253.46 L276.40,252.88 L276.90,252.31 L277.40,251.73 L277.90,251.12 L278.40,250.51 L278.90,249.92 L279.40,249.34 L279.90,248.76 L280.40,248.21 L280.90,247.66 L281.40,247.13 L281.90,246.61 L282.40,246.10 L282.90,245.61 L283.40,245.14 L283.90,244.67 L284.40,244.21 L284.90,243.76 L285.40,243.33 L285.90,242.92 L286.40,242.53 L286.90,242.16 L287.40,241.80 L287.90,241.46 L288.40,241.13 L288.90,240.83 L289.40,240.54 L289.90,240.27 L290.40,240.02 L290.90,239.80 L291.40,239.59 L291.90,239.40 L292.40,239.21 L292.90,239.04 L293.40,238.88 L293.90,238.73 L294.40,238.59 L294.90,238.46 L295.40,238.35 L295.90,238.25 L296.40,238.16 L296.90,238.09 L297.40,238.02 L297.90,237.97 L298.40,237.94 L298.90,237.91 L299.40,237.90 L299.90,237.90 L300.40,237.92 L300.90,237.94 L301.40,237.98 L301.90,238.04 L302.40,238.10 L302.90,238.18 L303.40,238.27 L303.90,238.37 L304.40,238.49 L304.90,238.61 L305.40,238.76 L305.90,238.91 L306.40,239.07 L306.90,239.25 L307.40,239.44 L307.90,239.64 L308.40,239.85 L308.90,240.07 L309.40,240.32 L309.90,240.60 L310.40,240.89 L310.90,241.20 L311.40,241.52 L311.90,241.87 L312.40,242.23 L312.90,242.61 L313.40,243.00 L313.90,243.42 L314.40,243.85 L314.90,244.30 L315.40,244.77 L315.90,245.23 L316.40,245.71 L316.90,246.20 L317.40,246.71 L317.90,247.23 L318.40,247.77 L318.90,248.32 L319.40,248.88 L319.90,249.45 L320.40,250.04 L320.90,250.63 L321.40,251.24 L321.90,251.86 L322.40,252.45 L322.90,253.05 L323.40,253.66 L323.90,254.27 L324.40,254.89 L324.90,255.51 L325.40,256.13 L325.90,256.76 L326.40,257.38 L326.90,258.01 L327.40,258.55 L327.90,259.05 L328.40,259.55 L328.90,260.04 L329.40,260.53 L329.90,261.01 L330.40,261.49 L330.90,261.96 L331.40,262.42 L331.90,262.88 L332.40,263.33 L332.90,263.78 L333.40,264.19 L333.90,264.59 L334.40,264.99 L334.90,265.38 L335.40,265.76 L335.90,266.14 L336.40,266.51 L336.90,266.87 L337.40,267.22 L337.90,267.57 L338.40,267.91 L338.90,268.24 L339.40,268.57 L339.90,268.87 L340.40,269.14 L340.90,269.40 L341.40,269.67 L341.90,269.92 L342.40,270.17 L342.90,270.41 L343.40,270.65 L343.90,270.88 L344.40,271.10 L344.90,271.32 L345.40,271.54 L345.90,271.75 L346.40,271.95 L346.90,272.15 L347.40,272.34 L347.90,272.53 L348.40,272.71 L348.90,272.85 L349.40,272.96 L349.90,273.08 L350.40,273.19 L350.90,273.30 L351.40,273.40 L351.90,273.51 L352.40,273.61 L352.90,273.71 L353.40,273.80 L353.90,273.89 L354.40,273.99 L354.90,274.08 L355.40,274.21 L355.90,274.36 L356.40,274.50 L356.90,274.64 L357.40,274.78 L357.90,274.91 L358.40,275.04 L358.90,275.17 L359.40,275.29 L359.90,275.41 L360.40,275.52 L360.90,275.64 L361.40,275.75 L361.90,275.85 L362.40,275.95 L362.90,276.05 L363.40,276.15 L363.90,276.24 L364.40,276.33 L364.90,276.42 L365.40,276.51 L365.90,276.59 L366.40,276.67 L366.90,276.75 L367.40,276.82 L367.90,276.90 L368.40,276.97 L368.90,277.03 L369.40,277.10 L369.90,277.17 L370.40,277.23 L370.90,277.29 L371.40,277.35 L371.90,277.40 L372.40,277.46 L372.90,277.51 L373.40,277.56 L373.90,277.61 L374.40,277.66 L374.90,277.71 L375.40,277.75 L375.90,277.79 L376.40,277.84 L376.90,277.88 L377.40,277.92 L377.90,277.95 L378.40,277.99 L378.90,278.03 L379.40,278.06 L379.90,278.09 L380.40,278.13 L380.90,278.16 L381.40,278.19 L381.90,278.22 L382.40,278.24 L382.90,278.27 L383.40,278.30 L383.90,278.32 L384.40,278.35 L384.90,278.38 L385.40,278.41 L385.90,278.44 L386.40,278.46 L386.90,278.49 L387.40,278.51 L387.90,278.53 L388.40,278.55 L388.90,278.57 L389.40,278.59 L389.90,278.61 L390.40,278.63 L390.90,278.65 L391.40,278.67 L391.90,278.68 L392.40,278.70 L392.90,278.71 L393.40,278.72 L393.90,278.74 L394.40,278.75 L394.90,278.76 L395.40,278.77 L395.90,278.79 L396.40,278.80 L396.90,278.81 L397.40,278.82 L397.90,278.82 L398.40,278.83 L398.90,278.84 L399.40,278.85 L399.90,278.86 L400.40,278.86 L400.90,278.87 L401.40,278.88 L401.90,278.88 L402.40,278.89 L402.90,278.90 L403.40,278.90 L403.90,278.91 L404.40,278.91 L404.90,278.92 L405.40,278.92 L405.90,278.92 L406.40,278.93 L406.90,278.93 L407.40,278.94 L407.90,278.94 L408.40,278.94 L408.90,278.95 L409.40,278.95 L409.90,278.95 L410.40,278.95" fill="none" stroke="#e6868e" stroke-width="1.1" stroke-linejoin="round" />
<path d="M232.40,276.09 L232.90,276.11 L233.40,276.13 L233.90,276.15 L234.40,276.16 L234.90,276.18 L235.40,276.20 L235.90,276.21 L236.40,276.22 L236.90,276.24 L237.40,276.25 L237.90,276.26 L238.40,276.26 L238.90,276.27 L239.40,276.27 L239.90,276.27 L240.40,276.27 L240.90,276.27 L241.40,276.27 L241.90,276.26 L242.40,276.25 L242.90,276.23 L243.40,276.22 L243.90,276.20 L244.40,276.18 L244.90,276.15 L245.40,276.12 L245.90,276.09 L246.40,276.05 L246.90,276.01 L247.40,275.97 L247.90,275.92 L248.40,275.86 L248.90,275.80 L249.40,275.74 L249.90,275.67 L250.40,275.59 L250.90,275.51 L251.40,275.42 L251.90,275.30 L252.40,275.17 L252.90,275.03 L253.40,274.89 L253.90,274.73 L254.40,274.56 L254.90,274.38 L255.40,274.19 L255.90,274.00 L256.40,273.79 L256.90,273.57 L257.40,273.33 L257.90,273.09 L258.40,272.83 L258.90,272.56 L259.40,272.27 L259.90,271.97 L260.40,271.65 L260.90,271.33 L261.40,270.99 L261.90,270.64 L262.40,270.28 L262.90,269.88 L263.40,269.41 L263.90,268.93 L264.40,268.44 L264.90,267.94 L265.40,267.42 L265.90,266.90 L266.40,266.36 L266.90,265.82 L267.40,265.25 L267.90,264.60 L268.40,263.95 L268.90,263.29 L269.40,262.63 L269.90,261.98 L270.40,261.32 L270.90,260.67 L271.40,260.02 L271.90,259.47 L272.40,258.94 L272.90,258.42 L273.40,257.89 L273.90,257.37 L274.40,256.85 L274.90,256.33 L275.40,255.82 L275.90,255.31 L276.40,254.81 L276.90,254.30 L277.40,253.78 L277.90,253.25 L278.40,252.72 L278.90,252.20 L279.40,251.69 L279.90,251.20 L280.40,250.71 L280.90,250.24 L281.40,249.78 L281.90,249.33 L282.40,248.89 L282.90,248.47 L283.40,248.06 L283.90,247.64 L284.40,247.25 L284.90,246.87 L285.40,246.50 L285.90,246.15 L286.40,245.82 L286.90,245.50 L287.40,245.20 L287.90,244.91 L288.40,244.64 L288.90,244.38 L289.40,244.13 L289.90,243.92 L290.40,243.72 L290.90,243.53 L291.40,243.36 L291.90,243.19 L292.40,243.04 L292.90,242.89 L293.40,242.76 L293.90,242.63 L294.40,242.52 L294.90,242.42 L295.40,242.33 L295.90,242.25 L296.40,242.18 L296.90,242.12 L297.40,242.07 L297.90,242.04 L298.40,242.01 L298.90,242.00 L299.40,242.00 L299.90,242.01 L300.40,242.03 L300.90,242.07 L301.40,242.11 L301.90,242.16 L302.40,242.23 L302.90,242.31 L303.40,242.40 L303.90,242.50 L304.40,242.61 L304.90,242.73 L305.40,242.86 L305.90,243.01 L306.40,243.16 L306.90,243.32 L307.40,243.50 L307.90,243.68 L308.40,243.88 L308.90,244.09 L309.40,244.33 L309.90,244.58 L310.40,244.85 L310.90,245.14 L311.40,245.44 L311.90,245.75 L312.40,246.08 L312.90,246.43 L313.40,246.79 L313.90,247.17 L314.40,247.56 L314.90,247.97 L315.40,248.39 L315.90,248.81 L316.40,249.24 L316.90,249.69 L317.40,250.14 L317.90,250.62 L318.40,251.10 L318.90,251.59 L319.40,252.10 L319.90,252.61 L320.40,253.14 L320.90,253.67 L321.40,254.22 L321.90,254.77 L322.40,255.30 L322.90,255.83 L323.40,256.38 L323.90,256.92 L324.40,257.47 L324.90,258.03 L325.40,258.58 L325.90,259.14 L326.40,259.70 L326.90,260.26 L327.40,260.71 L327.90,261.16 L328.40,261.60 L328.90,262.04 L329.40,262.47 L329.90,262.90 L330.40,263.32 L330.90,263.74 L331.40,264.16 L331.90,264.56 L332.40,264.97 L332.90,265.36 L333.40,265.72 L333.90,266.08 L334.40,266.44 L334.90,266.78 L335.40,267.12 L335.90,267.46 L336.40,267.79 L336.90,268.11 L337.40,268.42 L337.90,268.73 L338.40,269.04 L338.90,269.33 L339.40,269.62 L339.90,269.88 L340.40,270.13 L340.90,270.37 L341.40,270.60 L341.90,270.82 L342.40,271.05 L342.90,271.26 L343.40,271.47 L343.90,271.68 L344.40,271.88 L344.90,272.08 L345.40,272.27 L345.90,272.45 L346.40,272.64 L346.90,272.81 L347.40,272.99 L347.90,273.16 L348.40,273.32 L348.90,273.45 L349.40,273.55 L349.90,273.65 L350.40,273.75 L350.90,273.85 L351.40,273.94 L351.90,274.04 L352.40,274.13 L352.90,274.21 L353.40,274.30 L353.90,274.38 L354.40,274.47 L354.90,274.55 L355.40,274.65 L355.90,274.79 L356.40,274.92 L356.90,275.04 L357.40,275.17 L357.90,275.29 L358.40,275.40 L358.90,275.51 L359.40,275.62 L359.90,275.73 L360.40,275.84 L360.90,275.94 L361.40,276.03 L361.90,276.13 L362.40,276.22 L362.90,276.31 L363.40,276.40 L363.90,276.48 L364.40,276.56 L364.90,276.64 L365.40,276.72 L365.90,276.80 L366.40,276.87 L366.90,276.94 L367.40,277.01 L367.90,277.07 L368.40,277.14 L368.90,277.20 L369.40,277.26 L369.90,277.32 L370.40,277.37 L370.90,277.43 L371.40,277.48 L371.90,277.53 L372.40,277.58 L372.90,277.63 L373.40,277.68 L373.90,277.72 L374.40,277.77 L374.90,277.81 L375.40,277.85 L375.90,277.89 L376.40,277.93 L376.90,277.96 L377.40,278.00 L377.90,278.04 L378.40,278.07 L378.90,278.10 L379.40,278.13 L379.90,278.16 L380.40,278.19 L380.90,278.22 L381.40,278.25 L381.90,278.27 L382.40,278.30 L382.90,278.32 L383.40,278.35 L383.90,278.37 L384.40,278.40 L384.90,278.42 L385.40,278.45 L385.90,278.47 L386.40,278.50 L386.90,278.52 L387.40,278.54 L387.90,278.56 L388.40,278.58 L388.90,278.60 L389.40,278.62 L389.90,278.64 L390.40,278.65 L390.90,278.67 L391.40,278.68 L391.90,278.70 L392.40,278.71 L392.90,278.73 L393.40,278.74 L393.90,278.75 L394.40,278.76 L394.90,278.78 L395.40,278.79 L395.90,278.80 L396.40,278.81 L396.90,278.82 L397.40,278.82 L397.90,278.83 L398.40,278.84 L398.90,278.85 L399.40,278.86 L399.90,278.86 L400.40,278.87 L400.90,278.88 L401.40,278.88 L401.90,278.89 L402.40,278.89 L402.90,278.90 L403.40,278.91 L403.90,278.91 L404.40,278.91 L404.90,278.92 L405.40,278.92 L405.90,278.93 L406.40,278.93 L406.90,278.93 L407.40,278.94 L407.90,278.94 L408.40,278.94 L408.90,278.95 L409.40,278.95 L409.90,278.95 L410.40,278.96" fill="none" stroke="#ea9ca2" stroke-width="1.1" stroke-linejoin="round" />
<path d="M232.40,275.79 L232.90,275.81 L233.40,275.83 L233.90,275.86 L234.40,275.88 L234.90,275.90 L235.40,275.92 L235.90,275.94 L236.40,275.95 L236.90,275.97 L237.40,275.99 L237.90,276.00 L238.40,276.01 L238.90,276.02 L239.40,276.03 L239.90,276.04 L240.40,276.04 L240.90,276.04 L241.40,276.04 L241.90,276.04 L242.40,276.04 L242.90,276.03 L243.40,276.02 L243.90,276.01 L244.40,275.99 L244.90,275.98 L245.40,275.95 L245.90,275.93 L246.40,275.90 L246.90,275.87 L247.40,275.83 L247.90,275.79 L248.40,275.75 L248.90,275.70 L249.40,275.65 L249.90,275.59 L250.40,275.53 L250.90,275.45 L251.40,275.35 L251.90,275.24 L252.40,275.13 L252.90,275.01 L253.40,274.89 L253.90,274.75 L254.40,274.60 L254.90,274.45 L255.40,274.29 L255.90,274.12 L256.40,273.94 L256.90,273.75 L257.40,273.55 L257.90,273.34 L258.40,273.11 L258.90,272.87 L259.40,272.63 L259.90,272.37 L260.40,272.10 L260.90,271.83 L261.40,271.54 L261.90,271.24 L262.40,270.88 L262.90,270.50 L263.40,270.10 L263.90,269.70 L264.40,269.29 L264.90,268.86 L265.40,268.43 L265.90,267.99 L266.40,267.55 L266.90,267.05 L267.40,266.52 L267.90,265.99 L268.40,265.45 L268.90,264.91 L269.40,264.38 L269.90,263.84 L270.40,263.31 L270.90,262.79 L271.40,262.36 L271.90,261.93 L272.40,261.51 L272.90,261.08 L273.40,260.65 L273.90,260.23 L274.40,259.81 L274.90,259.40 L275.40,258.99 L275.90,258.58 L276.40,258.16 L276.90,257.74 L277.40,257.33 L277.90,256.90 L278.40,256.47 L278.90,256.05 L279.40,255.64 L279.90,255.24 L280.40,254.85 L280.90,254.46 L281.40,254.09 L281.90,253.73 L282.40,253.38 L282.90,253.04 L283.40,252.70 L283.90,252.37 L284.40,252.06 L284.90,251.75 L285.40,251.46 L285.90,251.19 L286.40,250.92 L286.90,250.67 L287.40,250.43 L287.90,250.21 L288.40,249.99 L288.90,249.79 L289.40,249.61 L289.90,249.45 L290.40,249.29 L290.90,249.14 L291.40,249.01 L291.90,248.88 L292.40,248.76 L292.90,248.64 L293.40,248.54 L293.90,248.44 L294.40,248.36 L294.90,248.28 L295.40,248.21 L295.90,248.16 L296.40,248.11 L296.90,248.07 L297.40,248.04 L297.90,248.02 L298.40,248.00 L298.90,248.00 L299.40,248.01 L299.90,248.02 L300.40,248.05 L300.90,248.08 L301.40,248.13 L301.90,248.18 L302.40,248.24 L302.90,248.31 L303.40,248.39 L303.90,248.48 L304.40,248.58 L304.90,248.69 L305.40,248.80 L305.90,248.93 L306.40,249.06 L306.90,249.20 L307.40,249.35 L307.90,249.51 L308.40,249.68 L308.90,249.87 L309.40,250.08 L309.90,250.30 L310.40,250.53 L310.90,250.77 L311.40,251.03 L311.90,251.30 L312.40,251.58 L312.90,251.87 L313.40,252.18 L313.90,252.50 L314.40,252.83 L314.90,253.18 L315.40,253.52 L315.90,253.88 L316.40,254.24 L316.90,254.62 L317.40,255.00 L317.90,255.40 L318.40,255.80 L318.90,256.22 L319.40,256.64 L319.90,257.07 L320.40,257.51 L320.90,257.96 L321.40,258.41 L321.90,258.86 L322.40,259.30 L322.90,259.75 L323.40,260.20 L323.90,260.66 L324.40,261.11 L324.90,261.57 L325.40,262.04 L325.90,262.50 L326.40,262.96 L326.90,263.41 L327.40,263.78 L327.90,264.15 L328.40,264.51 L328.90,264.88 L329.40,265.23 L329.90,265.59 L330.40,265.94 L330.90,266.29 L331.40,266.63 L331.90,266.97 L332.40,267.30 L332.90,267.62 L333.40,267.92 L333.90,268.22 L334.40,268.51 L334.90,268.80 L335.40,269.08 L335.90,269.36 L336.40,269.63 L336.90,269.90 L337.40,270.16 L337.90,270.42 L338.40,270.67 L338.90,270.91 L339.40,271.15 L339.90,271.37 L340.40,271.57 L340.90,271.77 L341.40,271.96 L341.90,272.15 L342.40,272.33 L342.90,272.51 L343.40,272.69 L343.90,272.86 L344.40,273.03 L344.90,273.19 L345.40,273.35 L345.90,273.50 L346.40,273.65 L346.90,273.80 L347.40,273.95 L347.90,274.09 L348.40,274.22 L348.90,274.34 L349.40,274.42 L349.90,274.51 L350.40,274.59 L350.90,274.67 L351.40,274.75 L351.90,274.83 L352.40,274.90 L352.90,274.98 L353.40,275.05 L353.90,275.12 L354.40,275.19 L354.90,275.25 L355.40,275.33 L355.90,275.44 L356.40,275.55 L356.90,275.65 L357.40,275.76 L357.90,275.86 L358.40,275.95 L358.90,276.05 L359.40,276.14 L359.90,276.23 L360.40,276.32 L360.90,276.40 L361.40,276.48 L361.90,276.56 L362.40,276.64 L362.90,276.72 L363.40,276.79 L363.90,276.86 L364.40,276.93 L364.90,277.00 L365.40,277.06 L365.90,277.13 L366.40,277.19 L366.90,277.25 L367.40,277.30 L367.90,277.36 L368.40,277.41 L368.90,277.46 L369.40,277.52 L369.90,277.56 L370.40,277.61 L370.90,277.66 L371.40,277.70 L371.90,277.75 L372.40,277.79 L372.90,277.83 L373.40,277.87 L373.90,277.91 L374.40,277.94 L374.90,277.98 L375.40,278.01 L375.90,278.05 L376.40,278.08 L376.90,278.11 L377.40,278.14 L377.90,278.17 L378.40,278.20 L378.90,278.23 L379.40,278.25 L379.90,278.28 L380.40,278.31 L380.90,278.33 L381.40,278.35 L381.90,278.37 L382.40,278.40 L382.90,278.42 L383.40,278.44 L383.90,278.46 L384.40,278.48 L384.90,278.50 L385.40,278.52 L385.90,278.54 L386.40,278.56 L386.90,278.58 L387.40,278.60 L387.90,278.62 L388.40,278.64 L388.90,278.65 L389.40,278.67 L389.90,278.68 L390.40,278.70 L390.90,278.71 L391.40,278.72 L391.90,278.74 L392.40,278.75 L392.90,278.76 L393.40,278.77 L393.90,278.78 L394.40,278.79 L394.90,278.80 L395.40,278.81 L395.90,278.82 L396.40,278.83 L396.90,278.84 L397.40,278.85 L397.90,278.85 L398.40,278.86 L398.90,278.87 L399.40,278.87 L399.90,278.88 L400.40,278.89 L400.90,278.89 L401.40,278.90 L401.90,278.90 L402.40,278.91 L402.90,278.91 L403.40,278.92 L403.90,278.92 L404.40,278.92 L404.90,278.93 L405.40,278.93 L405.90,278.93 L406.40,278.94 L406.90,278.94 L407.40,278.94 L407.90,278.95 L408.40,278.95 L408.90,278.95 L409.40,278.96 L409.90,278.96 L410.40,278.96" fill="none" stroke="#eeb2b6" stroke-width="1.1" stroke-linejoin="round" />
<path d="M232.40,275.38 L232.90,275.41 L233.40,275.44 L233.90,275.46 L234.40,275.49 L234.90,275.51 L235.40,275.54 L235.90,275.56 L236.40,275.58 L236.90,275.60 L237.40,275.62 L237.90,275.64 L238.40,275.66 L238.90,275.67 L239.40,275.68 L239.90,275.70 L240.40,275.70 L240.90,275.71 L241.40,275.72 L241.90,275.72 L242.40,275.72 L242.90,275.72 L243.40,275.72 L243.90,275.71 L244.40,275.70 L244.90,275.69 L245.40,275.67 L245.90,275.65 L246.40,275.63 L246.90,275.61 L247.40,275.58 L247.90,275.55 L248.40,275.51 L248.90,275.47 L249.40,275.42 L249.90,275.37 L250.40,275.29 L250.90,275.21 L251.40,275.13 L251.90,275.03 L252.40,274.93 L252.90,274.82 L253.40,274.71 L253.90,274.59 L254.40,274.46 L254.90,274.32 L255.40,274.17 L255.90,274.02 L256.40,273.86 L256.90,273.68 L257.40,273.50 L257.90,273.30 L258.40,273.10 L258.90,272.89 L259.40,272.67 L259.90,272.44 L260.40,272.20 L260.90,271.95 L261.40,271.68 L261.90,271.36 L262.40,271.03 L262.90,270.69 L263.40,270.34 L263.90,269.98 L264.40,269.61 L264.90,269.24 L265.40,268.87 L265.90,268.48 L266.40,268.03 L266.90,267.57 L267.40,267.11 L267.90,266.65 L268.40,266.19 L268.90,265.73 L269.40,265.27 L269.90,264.81 L270.40,264.40 L270.90,264.03 L271.40,263.66 L271.90,263.30 L272.40,262.93 L272.90,262.57 L273.40,262.21 L273.90,261.85 L274.40,261.50 L274.90,261.15 L275.40,260.80 L275.90,260.44 L276.40,260.08 L276.90,259.73 L277.40,259.39 L277.90,259.02 L278.40,258.65 L278.90,258.29 L279.40,257.94 L279.90,257.60 L280.40,257.27 L280.90,256.95 L281.40,256.63 L281.90,256.33 L282.40,256.02 L282.90,255.73 L283.40,255.44 L283.90,255.17 L284.40,254.90 L284.90,254.65 L285.40,254.41 L285.90,254.18 L286.40,253.96 L286.90,253.75 L287.40,253.55 L287.90,253.36 L288.40,253.19 L288.90,253.03 L289.40,252.88 L289.90,252.75 L290.40,252.62 L290.90,252.50 L291.40,252.38 L291.90,252.28 L292.40,252.18 L292.90,252.09 L293.40,252.00 L293.90,251.93 L294.40,251.86 L294.90,251.80 L295.40,251.74 L295.90,251.70 L296.40,251.66 L296.90,251.64 L297.40,251.62 L297.90,251.60 L298.40,251.60 L298.90,251.60 L299.40,251.62 L299.90,251.64 L300.40,251.66 L300.90,251.70 L301.40,251.74 L301.90,251.80 L302.40,251.86 L302.90,251.93 L303.40,252.00 L303.90,252.09 L304.40,252.18 L304.90,252.28 L305.40,252.38 L305.90,252.50 L306.40,252.62 L306.90,252.75 L307.40,252.88 L307.90,253.03 L308.40,253.19 L308.90,253.36 L309.40,253.55 L309.90,253.75 L310.40,253.96 L310.90,254.18 L311.40,254.41 L311.90,254.65 L312.40,254.90 L312.90,255.17 L313.40,255.44 L313.90,255.73 L314.40,256.02 L314.90,256.33 L315.40,256.63 L315.90,256.95 L316.40,257.27 L316.90,257.60 L317.40,257.94 L317.90,258.29 L318.40,258.65 L318.90,259.02 L319.40,259.39 L319.90,259.77 L320.40,260.16 L320.90,260.55 L321.40,260.95 L321.90,261.34 L322.40,261.73 L322.90,262.12 L323.40,262.52 L323.90,262.92 L324.40,263.32 L324.90,263.72 L325.40,264.13 L325.90,264.53 L326.40,264.94 L326.90,265.31 L327.40,265.63 L327.90,265.95 L328.40,266.27 L328.90,266.59 L329.40,266.90 L329.90,267.21 L330.40,267.52 L330.90,267.82 L331.40,268.12 L331.90,268.42 L332.40,268.71 L332.90,268.99 L333.40,269.25 L333.90,269.51 L334.40,269.76 L334.90,270.02 L335.40,270.26 L335.90,270.50 L336.40,270.74 L336.90,270.98 L337.40,271.20 L337.90,271.43 L338.40,271.65 L338.90,271.86 L339.40,272.07 L339.90,272.26 L340.40,272.44 L340.90,272.61 L341.40,272.78 L341.90,272.94 L342.40,273.10 L342.90,273.26 L343.40,273.42 L343.90,273.57 L344.40,273.71 L344.90,273.85 L345.40,273.99 L345.90,274.13 L346.40,274.26 L346.90,274.39 L347.40,274.52 L347.90,274.64 L348.40,274.76 L348.90,274.87 L349.40,274.94 L349.90,275.02 L350.40,275.09 L350.90,275.16 L351.40,275.23 L351.90,275.30 L352.40,275.36 L352.90,275.43 L353.40,275.49 L353.90,275.55 L354.40,275.61 L354.90,275.67 L355.40,275.73 L355.90,275.83 L356.40,275.92 L356.90,276.02 L357.40,276.11 L357.90,276.20 L358.40,276.28 L358.90,276.37 L359.40,276.45 L359.90,276.53 L360.40,276.60 L360.90,276.68 L361.40,276.75 L361.90,276.82 L362.40,276.89 L362.90,276.96 L363.40,277.02 L363.90,277.08 L364.40,277.15 L364.90,277.20 L365.40,277.26 L365.90,277.32 L366.40,277.37 L366.90,277.42 L367.40,277.48 L367.90,277.53 L368.40,277.57 L368.90,277.62 L369.40,277.67 L369.90,277.71 L370.40,277.75 L370.90,277.79 L371.40,277.83 L371.90,277.87 L372.40,277.91 L372.90,277.94 L373.40,277.98 L373.90,278.01 L374.40,278.05 L374.90,278.08 L375.40,278.11 L375.90,278.14 L376.40,278.17 L376.90,278.20 L377.40,278.22 L377.90,278.25 L378.40,278.28 L378.90,278.30 L379.40,278.32 L379.90,278.35 L380.40,278.37 L380.90,278.39 L381.40,278.41 L381.90,278.43 L382.40,278.45 L382.90,278.47 L383.40,278.49 L383.90,278.51 L384.40,278.52 L384.90,278.54 L385.40,278.56 L385.90,278.58 L386.40,278.60 L386.90,278.62 L387.40,278.63 L387.90,278.65 L388.40,278.66 L388.90,278.68 L389.40,278.69 L389.90,278.71 L390.40,278.72 L390.90,278.73 L391.40,278.75 L391.90,278.76 L392.40,278.77 L392.90,278.78 L393.40,278.79 L393.90,278.80 L394.40,278.81 L394.90,278.82 L395.40,278.83 L395.90,278.83 L396.40,278.84 L396.90,278.85 L397.40,278.86 L397.90,278.86 L398.40,278.87 L398.90,278.88 L399.40,278.88 L399.90,278.89 L400.40,278.89 L400.90,278.90 L401.40,278.90 L401.90,278.91 L402.40,278.91 L402.90,278.92 L403.40,278.92 L403.90,278.92 L404.40,278.93 L404.90,278.93 L405.40,278.94 L405.90,278.94 L406.40,278.94 L406.90,278.94 L407.40,278.95 L407.90,278.95 L408.40,278.95 L408.90,278.96 L409.40,278.96 L409.90,278.96 L410.40,278.96" fill="none" stroke="#f2c8ca" stroke-width="1.1" stroke-linejoin="round" />
<rect x="232.40" y="137.60" width="178.20" height="142.20" fill="none" stroke="#303030" stroke-width="1.2"/>
<line x1="232.40" y1="279.80" x2="232.40" y2="283.20" stroke="#303030" stroke-width="1.1" />
<text x="232.40" y="295.00" font-size="10" fill="#231f20" text-anchor="middle" stroke="#231f20" stroke-width="0.15" stroke-linejoin="round">530</text>
<line x1="268.04" y1="279.80" x2="268.04" y2="283.20" stroke="#303030" stroke-width="1.1" />
<text x="268.04" y="295.00" font-size="10" fill="#231f20" text-anchor="middle" stroke="#231f20" stroke-width="0.15" stroke-linejoin="round">590</text>
<line x1="303.68" y1="279.80" x2="303.68" y2="283.20" stroke="#303030" stroke-width="1.1" />
<text x="303.68" y="295.00" font-size="10" fill="#231f20" text-anchor="middle" stroke="#231f20" stroke-width="0.15" stroke-linejoin="round">650</text>
<line x1="339.32" y1="279.80" x2="339.32" y2="283.20" stroke="#303030" stroke-width="1.1" />
<text x="339.32" y="295.00" font-size="10" fill="#231f20" text-anchor="middle" stroke="#231f20" stroke-width="0.15" stroke-linejoin="round">710</text>
<line x1="374.96" y1="279.80" x2="374.96" y2="283.20" stroke="#303030" stroke-width="1.1" />
<text x="374.96" y="295.00" font-size="10" fill="#231f20" text-anchor="middle" stroke="#231f20" stroke-width="0.15" stroke-linejoin="round">770</text>
<line x1="410.60" y1="279.80" x2="410.60" y2="283.20" stroke="#303030" stroke-width="1.1" />
<text x="410.60" y="295.00" font-size="10" fill="#231f20" text-anchor="middle" stroke="#231f20" stroke-width="0.15" stroke-linejoin="round">830</text>
<text x="321.50" y="310.10" font-size="10.2" fill="#231f20" text-anchor="middle" stroke="#231f20" stroke-width="0.15" stroke-linejoin="round">Wavelength (nm)</text>
<text x="0" y="0" transform="translate(221.90,208.75) rotate(-90)" font-size="10.7" fill="#231f20" text-anchor="middle" stroke="#231f20" stroke-width="0.15" stroke-linejoin="round">PL Intensity (a.u.)</text>
<text x="237.20" y="150.80" font-size="8.9" fill="#231f20" stroke="#231f20" stroke-width="0.15" stroke-linejoin="round"><tspan letter-spacing="-0.12">C</tspan><tspan font-size="6.3" dy="2.40" letter-spacing="-0.12">5</tspan><tspan dy="-2.40" letter-spacing="-0.12">H</tspan><tspan font-size="6.3" dy="2.40" letter-spacing="-0.12">11</tspan><tspan dy="-2.40" letter-spacing="-0.12">N</tspan><tspan font-size="6.3" dy="2.40" letter-spacing="-0.12">3</tspan><tspan dy="-2.40" letter-spacing="-0.12">(MnCl</tspan><tspan font-size="6.3" dy="2.40" letter-spacing="-0.12">3</tspan><tspan dy="-2.40" letter-spacing="-0.12">·H</tspan><tspan font-size="6.3" dy="2.40" letter-spacing="-0.12">2</tspan><tspan dy="-2.40" letter-spacing="-0.12">O)Cl</tspan></text>
<line x1="358.00" y1="146.20" x2="374.30" y2="146.20" stroke="#dc2458" stroke-width="1.4" />
<text x="378.80" y="149.30" font-size="8.7" fill="#231f20" stroke="#231f20" stroke-width="0.15" stroke-linejoin="round">25 °C</text>
<line x1="358.00" y1="157.97" x2="374.30" y2="157.97" stroke="#e0404e" stroke-width="1.4" />
<text x="378.80" y="161.07" font-size="8.7" fill="#231f20" stroke="#231f20" stroke-width="0.15" stroke-linejoin="round">35 °C</text>
<line x1="358.00" y1="169.74" x2="374.30" y2="169.74" stroke="#e04652" stroke-width="1.4" />
<text x="378.80" y="172.84" font-size="8.7" fill="#231f20" stroke="#231f20" stroke-width="0.15" stroke-linejoin="round">45 °C</text>
<line x1="358.00" y1="181.51" x2="374.30" y2="181.51" stroke="#dc4458" stroke-width="1.4" />
<text x="378.80" y="184.61" font-size="8.7" fill="#231f20" stroke="#231f20" stroke-width="0.15" stroke-linejoin="round">55 °C</text>
<line x1="358.00" y1="193.28" x2="374.30" y2="193.28" stroke="#dc4a5a" stroke-width="1.4" />
<text x="378.80" y="196.38" font-size="8.7" fill="#231f20" stroke="#231f20" stroke-width="0.15" stroke-linejoin="round">65 °C</text>
<line x1="358.00" y1="205.05" x2="374.30" y2="205.05" stroke="#de5462" stroke-width="1.4" />
<text x="378.80" y="208.15" font-size="8.7" fill="#231f20" stroke="#231f20" stroke-width="0.15" stroke-linejoin="round">75 °C</text>
<line x1="358.00" y1="216.82" x2="374.30" y2="216.82" stroke="#e27a84" stroke-width="1.4" />
<text x="378.80" y="219.92" font-size="8.7" fill="#231f20" stroke="#231f20" stroke-width="0.15" stroke-linejoin="round">85 °C</text>
<line x1="358.00" y1="228.59" x2="374.30" y2="228.59" stroke="#e6868e" stroke-width="1.4" />
<text x="378.80" y="231.69" font-size="8.7" fill="#231f20" stroke="#231f20" stroke-width="0.15" stroke-linejoin="round">95 °C</text>
<line x1="358.00" y1="240.36" x2="374.30" y2="240.36" stroke="#ea9ca2" stroke-width="1.4" />
<text x="378.80" y="243.46" font-size="8.7" fill="#231f20" stroke="#231f20" stroke-width="0.15" stroke-linejoin="round">105 <tspan letter-spacing="-0.9">°</tspan>C</text>
<line x1="358.00" y1="252.13" x2="374.30" y2="252.13" stroke="#eeb2b6" stroke-width="1.4" />
<text x="378.80" y="255.23" font-size="8.7" fill="#231f20" stroke="#231f20" stroke-width="0.15" stroke-linejoin="round">115 <tspan letter-spacing="-0.9">°</tspan>C</text>
<line x1="358.00" y1="263.90" x2="374.30" y2="263.90" stroke="#f2c8ca" stroke-width="1.4" />
<text x="378.80" y="267.00" font-size="8.7" fill="#231f20" stroke="#231f20" stroke-width="0.15" stroke-linejoin="round">125 <tspan letter-spacing="-0.9">°</tspan>C</text>
<text x="425.20" y="141.70" font-size="15" fill="#111" font-weight="bold">d</text>
<rect x="486.89" y="166.28" width="13.4" height="113.12" fill="#e5a08b"/>
<rect x="529.03" y="164.92" width="13.4" height="114.48" fill="#e5a08b"/>
<rect x="571.17" y="167.41" width="13.4" height="111.99" fill="#e5a08b"/>
<rect x="613.31" y="173.07" width="13.4" height="106.33" fill="#e5a08b"/>
<rect x="468.30" y="138.00" width="177.00" height="141.40" fill="none" stroke="#303030" stroke-width="1.2"/>
<line x1="464.90" y1="279.40" x2="468.30" y2="279.40" stroke="#303030" stroke-width="1.1" />
<text x="460.40" y="283.00" font-size="10" fill="#231f20" text-anchor="end" stroke="#231f20" stroke-width="0.15" stroke-linejoin="round">0</text>
<line x1="464.90" y1="251.12" x2="468.30" y2="251.12" stroke="#303030" stroke-width="1.1" />
<text x="460.40" y="254.72" font-size="10" fill="#231f20" text-anchor="end" stroke="#231f20" stroke-width="0.15" stroke-linejoin="round">25</text>
<line x1="464.90" y1="222.84" x2="468.30" y2="222.84" stroke="#303030" stroke-width="1.1" />
<text x="460.40" y="226.44" font-size="10" fill="#231f20" text-anchor="end" stroke="#231f20" stroke-width="0.15" stroke-linejoin="round">50</text>
<line x1="464.90" y1="194.56" x2="468.30" y2="194.56" stroke="#303030" stroke-width="1.1" />
<text x="460.40" y="198.16" font-size="10" fill="#231f20" text-anchor="end" stroke="#231f20" stroke-width="0.15" stroke-linejoin="round">75</text>
<line x1="464.90" y1="166.28" x2="468.30" y2="166.28" stroke="#303030" stroke-width="1.1" />
<text x="460.40" y="169.88" font-size="10" fill="#231f20" text-anchor="end" stroke="#231f20" stroke-width="0.15" stroke-linejoin="round">100</text>
<line x1="464.90" y1="138.00" x2="468.30" y2="138.00" stroke="#303030" stroke-width="1.1" />
<text x="460.40" y="141.60" font-size="10" fill="#231f20" text-anchor="end" stroke="#231f20" stroke-width="0.15" stroke-linejoin="round">125</text>
<line x1="493.59" y1="279.40" x2="493.59" y2="282.80" stroke="#303030" stroke-width="1.1" />
<text x="493.59" y="295.00" font-size="10" fill="#231f20" text-anchor="middle" stroke="#231f20" stroke-width="0.15" stroke-linejoin="round">0</text>
<line x1="535.73" y1="279.40" x2="535.73" y2="282.80" stroke="#303030" stroke-width="1.1" />
<text x="535.73" y="295.00" font-size="10" fill="#231f20" text-anchor="middle" stroke="#231f20" stroke-width="0.15" stroke-linejoin="round">5</text>
<line x1="577.87" y1="279.40" x2="577.87" y2="282.80" stroke="#303030" stroke-width="1.1" />
<text x="577.87" y="295.00" font-size="10" fill="#231f20" text-anchor="middle" stroke="#231f20" stroke-width="0.15" stroke-linejoin="round">10</text>
<line x1="620.01" y1="279.40" x2="620.01" y2="282.80" stroke="#303030" stroke-width="1.1" />
<text x="620.01" y="295.00" font-size="10" fill="#231f20" text-anchor="middle" stroke="#231f20" stroke-width="0.15" stroke-linejoin="round">15</text>
<text x="556.80" y="310.10" font-size="10.2" fill="#231f20" text-anchor="middle" stroke="#231f20" stroke-width="0.15" stroke-linejoin="round">Cycle</text>
<text x="0" y="0" transform="translate(433.90,208.60) rotate(-90)" font-size="10.3" fill="#231f20" text-anchor="middle" stroke="#231f20" stroke-width="0.15" stroke-linejoin="round">Relative Intensity (%)</text>
<text x="474.50" y="150.80" font-size="8.9" fill="#231f20" stroke="#231f20" stroke-width="0.15" stroke-linejoin="round"><tspan letter-spacing="-0.12">C</tspan><tspan font-size="6.3" dy="2.40" letter-spacing="-0.12">5</tspan><tspan dy="-2.40" letter-spacing="-0.12">H</tspan><tspan font-size="6.3" dy="2.40" letter-spacing="-0.12">11</tspan><tspan dy="-2.40" letter-spacing="-0.12">N</tspan><tspan font-size="6.3" dy="2.40" letter-spacing="-0.12">3</tspan><tspan dy="-2.40" letter-spacing="-0.12">(MnCl</tspan><tspan font-size="6.3" dy="2.40" letter-spacing="-0.12">3</tspan><tspan dy="-2.40" letter-spacing="-0.12">·H</tspan><tspan font-size="6.3" dy="2.40" letter-spacing="-0.12">2</tspan><tspan dy="-2.40" letter-spacing="-0.12">O)Br</tspan></text>
<text x="1.20" y="339.30" font-size="15" fill="#111" font-weight="bold">e</text>
<path d="M18.30,454.27 L18.54,454.88 L18.84,454.75 L19.19,454.24 L19.58,454.40 L20.01,454.29 L20.46,454.40 L20.93,454.45 L21.41,453.75 L21.88,453.62 L22.35,454.27 L22.80,453.84 L23.20,454.09 L23.62,453.37 L24.03,453.76 L24.46,454.00 L24.88,453.55 L25.31,454.18 L25.74,454.10 L26.18,453.27 L26.61,453.18 L27.04,453.52 L27.47,453.71 L27.90,452.99 L28.33,452.56 L28.76,452.40 L29.19,451.65 L29.63,451.39 L30.07,451.11 L30.50,450.68 L30.93,449.95 L31.36,449.45 L31.78,448.97 L32.20,448.74 L32.60,448.17 L33.00,447.57 L33.47,447.90 L33.93,447.25 L34.39,446.95 L34.84,446.17 L35.29,446.56 L35.72,446.13 L36.14,445.21 L36.54,445.19 L36.93,445.39 L37.30,445.29 L37.79,445.52 L38.23,445.25 L38.64,445.92 L39.02,446.15 L39.40,446.21 L39.79,446.81 L40.20,447.34 L40.61,447.45 L41.01,447.17 L41.41,447.24 L41.82,446.76 L42.25,447.05 L42.70,447.80 L43.20,447.92 L43.58,448.20 L43.98,449.18 L44.39,450.06 L44.82,450.85 L45.26,451.44 L45.71,452.37 L46.16,453.27 L46.61,454.30 L47.06,454.75 L47.50,455.20 L47.94,455.74 L48.38,455.70 L48.82,456.03 L49.26,456.89 L49.70,457.37 L50.14,457.21 L50.58,457.20 L51.02,457.16 L51.46,457.63 L51.90,458.23 L52.34,458.23 L52.79,458.20 L53.24,458.66 L53.69,458.26 L54.14,458.66 L54.59,459.18 L55.02,458.95 L55.43,458.92 L55.83,458.79 L56.20,459.04 L56.69,459.36 L57.13,458.41 L57.54,458.95 L57.93,458.78 L58.31,458.57 L58.70,458.11 L59.10,457.78 L59.50,456.94 L59.88,456.19 L60.26,455.17 L60.65,453.97 L61.06,453.97 L61.51,453.24 L62.00,452.83 L62.34,453.31 L62.69,453.68 L63.05,454.10 L63.43,454.75 L63.82,455.66 L64.22,456.51 L64.63,457.28 L65.06,457.90 L65.49,458.21 L65.94,458.99 L66.40,459.41 L66.77,460.06 L67.16,460.54 L67.57,460.69 L67.98,460.86 L68.41,461.02 L68.84,460.63 L69.28,461.26 L69.71,461.20 L70.14,460.75 L70.57,460.77 L71.00,460.85 L71.41,461.61 L71.81,461.26 L72.20,461.25 L72.67,461.87 L73.13,461.77 L73.57,461.68 L74.00,461.91 L74.42,462.38 L74.84,462.21 L75.26,462.45 L75.68,463.00 L76.11,462.92 L76.55,462.97 L77.00,463.28 L77.39,463.03 L77.77,463.52 L78.15,463.73 L78.53,463.71 L78.92,463.83 L79.30,464.73 L79.70,464.57 L80.10,464.48 L80.51,465.01 L80.94,465.37 L81.37,464.81 L81.83,464.94 L82.30,465.18 L82.65,465.78 L83.01,465.35 L83.37,465.92 L83.74,465.97 L84.12,465.92 L84.50,465.70 L84.89,466.44 L85.29,466.34 L85.69,466.14 L86.09,465.92 L86.50,466.34 L86.92,466.14 L87.34,466.33 L87.76,466.11 L88.19,466.39 L88.62,465.86 L89.06,466.05 L89.50,466.62 L89.88,466.49 L90.28,465.92 L90.69,466.33 L91.10,465.74 L91.53,466.20 L91.96,465.91 L92.39,465.49 L92.83,465.21 L93.27,464.85 L93.71,465.49 L94.15,464.59 L94.59,465.16 L95.02,465.15 L95.45,464.67 L95.87,464.18 L96.29,464.70 L96.70,464.69 L97.09,464.36 L97.47,464.10 L97.84,463.93 L98.20,463.86 L98.70,463.71 L99.17,464.14 L99.60,463.97 L100.01,463.82 L100.40,463.83 L100.78,464.43 L101.15,464.21 L101.52,464.51 L101.90,464.47 L102.29,465.06 L102.70,465.19 L103.13,464.47 L103.60,464.70 L104.10,464.84 L104.46,465.45 L104.83,465.26 L105.22,464.85 L105.62,464.72 L106.04,465.11 L106.47,465.23 L106.90,465.28 L107.34,464.71 L107.78,465.16 L108.23,464.94 L108.68,464.72 L109.13,465.13 L109.57,464.41 L110.01,464.81 L110.44,464.20 L110.87,464.25 L111.28,464.89 L111.68,464.25 L112.07,464.73 L112.45,464.58 L112.80,464.81 L113.28,464.41 L113.69,464.42 L114.04,464.42 L114.36,464.99 L114.65,464.82 L114.93,465.20 L115.22,465.22 L115.52,464.62 L115.87,465.08 L116.25,464.77 L116.71,464.80 L117.24,464.93 L117.87,465.74 L118.60,465.76 L118.88,465.83 L119.17,465.42 L119.47,465.71 L119.78,465.89 L120.11,465.57 L120.44,465.78 L120.79,465.51 L121.14,465.42 L121.51,465.63 L121.88,466.24 L122.26,465.99 L122.65,466.36 L123.05,465.98 L123.45,465.86 L123.86,466.37 L124.27,466.45 L124.69,465.76 L125.12,466.40 L125.54,465.93 L125.98,465.99 L126.41,466.73 L126.85,466.02 L127.29,466.24 L127.73,466.96 L128.17,466.49 L128.62,466.26 L129.06,466.35 L129.50,466.46 L129.94,466.95 L130.39,466.41 L130.82,467.18 L131.26,466.73 L131.69,467.30 L132.12,467.28 L132.55,466.76 L132.97,466.75 L133.39,466.98 L133.80,466.67 L134.21,467.19 L134.61,466.67 L135.00,466.66 L135.42,467.55 L135.83,466.95 L136.24,467.24 L136.65,467.12 L137.05,467.02 L137.45,466.80 L137.85,467.58 L138.24,467.64 L138.63,467.64 L139.02,466.88 L139.41,466.98 L139.80,467.34 L140.19,467.67 L140.58,467.28 L140.96,467.41 L141.35,467.38 L141.74,467.02 L142.12,467.27 L142.51,467.06 L142.90,467.00 L143.29,466.85 L143.69,467.02 L144.08,467.65 L144.48,467.16 L144.88,467.34 L145.29,467.32 L145.70,467.58 L146.11,467.08 L146.52,466.99 L146.94,467.01 L147.37,466.99 L147.80,467.46 L148.23,467.49 L148.67,466.95 L149.12,466.97 L149.57,467.15 L150.03,467.18 L150.50,467.19 L150.86,466.87 L151.23,466.66 L151.60,466.85 L151.98,466.69 L152.37,467.12 L152.76,466.68 L153.16,466.68 L153.56,467.18 L153.97,466.86 L154.38,467.31 L154.79,467.03 L155.21,467.36 L155.63,466.72 L156.06,467.02 L156.49,467.28 L156.92,466.63 L157.35,467.41 L157.78,466.70 L158.22,467.24 L158.65,467.42 L159.09,467.26 L159.53,466.80 L159.97,466.60 L160.41,466.96 L160.84,467.31 L161.28,466.74 L161.72,467.27 L162.15,466.59 L162.58,467.27 L163.01,466.47 L163.44,466.71 L163.87,467.23 L164.29,467.13 L164.71,467.21 L165.12,467.14 L165.54,467.04 L165.94,466.98 L166.35,466.50 L166.74,466.72 L167.14,466.46 L167.52,466.94 L167.90,466.89 L168.28,466.50 L168.65,466.31 L169.01,467.11 L169.36,466.95 L169.71,466.70 L170.05,466.67 L170.38,466.93 L170.70,466.56 L171.24,466.47 L171.78,466.38 L172.30,466.26 L172.82,465.99 L173.32,466.50 L173.82,466.23 L174.30,466.30 L174.78,465.78 L175.24,465.98 L175.70,465.71 L176.14,465.63 L176.58,465.68 L177.00,466.12 L177.42,465.66 L177.82,465.60 L178.21,465.72 L178.59,465.31 L178.96,465.05 L179.32,465.46 L179.67,465.38 L180.01,465.47 L180.34,465.24 L180.65,465.43 L180.95,465.44 L181.25,464.97 L181.53,465.19 L181.80,465.17 L182.05,464.94 L182.30,465.12 L183.21,465.52 L183.45,466.34 L183.47,466.96 L183.71,466.97 L184.60,467.73 L184.86,467.25 L185.16,467.31 L185.49,467.75 L185.85,468.13 L186.24,467.52 L186.65,468.10 L187.08,468.24 L187.53,467.75 L187.99,468.12 L188.47,468.29 L188.95,467.88 L189.45,468.20 L189.94,468.25 L190.44,468.14 L190.94,468.39 L191.43,468.44 L191.92,468.51 L192.40,468.17 L192.86,467.82 L193.31,467.90 L193.74,467.88 L194.15,468.21 L194.53,468.38 L194.89,467.76 L195.22,468.33 L195.52,468.38 L195.78,468.05 L196.00,468.21" fill="none" stroke="#d9604e" stroke-width="1.05" stroke-linejoin="round" />
<path d="M18.30,431.71 L18.54,431.63 L18.83,430.72 L19.17,430.63 L19.55,431.17 L19.97,430.93 L20.41,430.72 L20.88,430.24 L21.36,430.36 L21.84,430.23 L22.33,430.08 L22.80,429.59 L23.18,429.78 L23.59,429.71 L24.01,430.00 L24.45,430.25 L24.89,430.22 L25.35,429.86 L25.80,429.78 L26.25,429.62 L26.69,429.39 L27.12,429.33 L27.53,429.65 L27.91,429.40 L28.27,429.30 L28.60,429.55 L29.17,428.63 L29.64,427.87 L30.05,426.66 L30.41,425.49 L30.76,424.79 L31.11,423.72 L31.50,423.31 L31.90,423.09 L32.28,422.15 L32.66,421.11 L33.05,421.22 L33.46,420.70 L33.91,420.35 L34.40,420.37 L34.78,420.26 L35.18,420.41 L35.61,420.23 L36.05,421.07 L36.51,421.37 L36.97,421.00 L37.43,421.89 L37.90,422.20 L38.35,422.29 L38.80,422.63 L39.20,422.78 L39.60,423.31 L40.00,423.03 L40.40,423.42 L40.81,423.09 L41.21,423.68 L41.61,423.85 L42.01,423.66 L42.41,424.03 L42.80,424.71 L43.20,425.00 L43.63,425.46 L44.06,426.07 L44.49,427.13 L44.92,428.52 L45.35,429.14 L45.78,430.91 L46.21,431.40 L46.64,432.97 L47.07,433.31 L47.50,434.61 L47.93,434.97 L48.35,435.29 L48.77,435.73 L49.19,436.22 L49.61,436.47 L50.03,436.48 L50.47,436.61 L50.93,437.07 L51.40,437.63 L51.90,437.51 L52.27,437.12 L52.67,437.88 L53.08,437.87 L53.50,438.08 L53.93,437.48 L54.37,438.00 L54.81,437.38 L55.25,437.91 L55.68,437.54 L56.11,437.46 L56.53,437.99 L56.94,437.23 L57.33,437.52 L57.70,437.72 L58.19,436.97 L58.65,436.63 L59.10,436.87 L59.52,436.04 L59.94,435.89 L60.34,434.87 L60.75,434.82 L61.16,434.38 L61.57,434.68 L62.00,434.12 L62.39,435.02 L62.77,434.39 L63.15,435.31 L63.53,435.03 L63.91,435.65 L64.30,436.60 L64.69,436.48 L65.10,436.99 L65.51,437.91 L65.95,438.09 L66.40,438.19 L66.77,439.35 L67.16,438.92 L67.57,439.15 L67.98,439.76 L68.41,440.35 L68.84,440.80 L69.28,440.58 L69.71,441.11 L70.14,441.16 L70.57,441.86 L71.00,442.44 L71.41,442.71 L71.81,443.12 L72.20,443.23 L72.67,443.61 L73.13,443.71 L73.57,443.73 L74.00,443.71 L74.42,444.29 L74.84,444.15 L75.26,444.12 L75.68,444.59 L76.11,445.12 L76.55,444.61 L77.00,445.18 L77.39,445.14 L77.77,445.38 L78.15,445.18 L78.53,446.04 L78.92,445.53 L79.30,445.96 L79.70,445.90 L80.10,445.65 L80.51,446.25 L80.94,445.98 L81.37,446.00 L81.83,446.08 L82.30,446.30 L82.65,446.31 L83.02,446.86 L83.39,446.82 L83.77,447.32 L84.16,447.34 L84.56,447.46 L84.96,446.84 L85.36,447.10 L85.78,446.99 L86.19,447.35 L86.60,447.44 L87.02,447.65 L87.44,447.62 L87.86,447.26 L88.27,447.45 L88.69,447.57 L89.09,447.13 L89.50,447.18 L89.90,447.53 L90.31,447.27 L90.71,447.82 L91.12,447.38 L91.52,447.24 L91.93,447.30 L92.33,447.32 L92.74,447.28 L93.14,447.53 L93.55,447.45 L93.96,447.28 L94.36,447.55 L94.77,447.14 L95.18,447.74 L95.58,447.76 L95.99,447.53 L96.39,447.25 L96.80,447.31 L97.21,447.37 L97.61,446.89 L98.02,447.22 L98.42,447.31 L98.83,447.01 L99.24,446.93 L99.64,447.58 L100.05,447.19 L100.46,447.34 L100.86,447.70 L101.27,447.43 L101.67,447.14 L102.08,447.77 L102.48,447.22 L102.89,446.90 L103.29,447.49 L103.70,446.96 L104.10,447.13 L104.50,447.59 L104.91,447.42 L105.32,446.80 L105.73,447.17 L106.15,447.10 L106.56,447.14 L106.97,446.86 L107.38,447.17 L107.79,446.67 L108.20,446.82 L108.61,446.86 L109.01,447.33 L109.40,446.52 L109.80,447.09 L110.18,446.54 L110.56,446.84 L110.93,446.64 L111.30,446.67 L111.76,446.87 L112.20,446.48 L112.63,446.16 L113.06,446.08 L113.47,445.96 L113.88,446.57 L114.28,446.30 L114.68,446.51 L115.08,446.20 L115.48,445.55 L115.88,446.07 L116.28,446.15 L116.69,446.09 L117.10,445.90 L117.50,445.80 L117.88,445.95 L118.25,446.33 L118.60,445.94 L118.95,446.27 L119.30,446.34 L119.66,446.88 L120.04,446.87 L120.44,447.11 L120.87,447.15 L121.33,446.79 L121.84,446.85 L122.39,447.19 L123.00,447.08 L123.30,447.28 L123.62,447.55 L123.94,447.81 L124.27,447.55 L124.61,447.80 L124.95,447.20 L125.31,447.47 L125.67,448.09 L126.04,447.37 L126.42,447.65 L126.80,447.38 L127.19,447.44 L127.59,448.21 L127.99,448.34 L128.40,448.07 L128.81,447.64 L129.23,447.84 L129.66,447.82 L130.08,448.25 L130.51,448.30 L130.95,448.12 L131.39,448.24 L131.83,447.90 L132.28,448.33 L132.73,448.73 L133.18,448.59 L133.63,448.03 L134.09,448.45 L134.54,448.66 L135.00,448.28 L135.36,448.88 L135.73,448.52 L136.10,448.76 L136.48,448.52 L136.85,449.08 L137.23,448.92 L137.62,448.76 L138.01,448.40 L138.40,448.70 L138.79,448.36 L139.18,448.89 L139.58,449.18 L139.98,448.58 L140.38,448.90 L140.79,448.90 L141.20,448.86 L141.61,449.16 L142.02,449.39 L142.43,449.21 L142.85,449.02 L143.26,449.49 L143.68,448.94 L144.10,449.34 L144.52,449.28 L144.94,449.40 L145.37,449.50 L145.79,448.95 L146.22,449.32 L146.64,449.14 L147.07,449.39 L147.50,449.69 L147.93,449.39 L148.35,448.84 L148.78,449.25 L149.21,449.48 L149.64,449.64 L150.07,449.43 L150.50,449.58 L150.89,448.86 L151.28,449.70 L151.68,449.50 L152.08,449.38 L152.48,449.65 L152.88,449.62 L153.29,448.90 L153.69,449.54 L154.10,449.48 L154.51,448.96 L154.93,449.43 L155.34,449.27 L155.75,448.90 L156.17,449.44 L156.59,448.82 L157.01,449.23 L157.42,449.05 L157.84,448.86 L158.26,449.12 L158.68,449.01 L159.10,448.75 L159.52,449.42 L159.94,448.59 L160.36,448.50 L160.77,448.91 L161.19,449.20 L161.60,449.02 L162.02,449.08 L162.43,448.81 L162.84,448.95 L163.25,448.62 L163.66,448.54 L164.07,448.72 L164.47,448.27 L164.87,448.29 L165.27,448.87 L165.67,448.33 L166.06,448.82 L166.45,448.83 L166.84,448.46 L167.22,448.68 L167.60,448.76 L168.04,448.80 L168.49,448.11 L168.95,448.10 L169.41,448.27 L169.87,448.30 L170.33,448.11 L170.80,447.81 L171.27,448.26 L171.73,448.59 L172.20,448.00 L172.67,448.11 L173.14,447.93 L173.60,447.94 L174.06,448.27 L174.52,447.72 L174.98,447.98 L175.43,447.79 L175.88,447.80 L176.32,448.09 L176.75,447.30 L177.18,447.93 L177.59,447.43 L178.01,447.70 L178.41,447.80 L178.80,447.64 L179.18,447.38 L179.55,447.76 L179.91,447.06 L180.26,447.53 L180.60,447.30 L180.92,447.41 L181.22,447.69 L181.52,447.65 L181.79,447.50 L182.06,447.21 L182.30,447.16 L183.41,447.63 L183.68,447.91 L183.62,448.52 L183.76,449.66 L184.60,449.25 L184.86,449.92 L185.16,449.56 L185.49,449.57 L185.85,449.55 L186.24,449.35 L186.65,449.71 L187.08,449.45 L187.53,449.71 L187.99,449.58 L188.47,450.12 L188.95,450.14 L189.45,449.70 L189.94,449.87 L190.44,450.12 L190.94,449.57 L191.43,449.36 L191.92,449.47 L192.40,449.41 L192.86,449.84 L193.31,449.55 L193.74,449.52 L194.15,449.91 L194.53,449.39 L194.89,449.90 L195.22,449.73 L195.52,449.52 L195.78,449.89 L196.00,449.46" fill="none" stroke="#ea9c88" stroke-width="1.05" stroke-linejoin="round" />
<path d="M18.30,405.26 L18.57,404.92 L18.92,403.87 L19.35,403.01 L19.82,401.92 L20.34,400.38 L20.87,399.49 L21.40,399.70 L21.79,399.03 L22.21,399.01 L22.65,399.80 L23.10,399.53 L23.56,400.11 L24.02,400.06 L24.48,400.47 L24.91,400.26 L25.32,400.86 L25.70,401.13 L26.19,400.91 L26.63,401.29 L27.04,401.39 L27.43,400.87 L27.81,401.28 L28.20,400.55 L28.60,399.22 L29.02,397.08 L29.44,395.10 L29.87,391.55 L30.29,388.51 L30.71,385.71 L31.11,383.33 L31.50,382.38 L32.03,382.42 L32.55,385.02 L33.04,387.78 L33.50,391.27 L33.90,393.34 L34.33,394.06 L34.64,394.60 L35.20,395.45 L35.54,396.67 L35.94,396.85 L36.38,397.74 L36.86,398.20 L37.35,399.11 L37.85,399.68 L38.33,400.22 L38.80,400.88 L39.20,401.10 L39.60,401.45 L40.00,401.20 L40.39,401.32 L40.79,401.15 L41.19,401.22 L41.59,400.99 L42.00,400.76 L42.40,401.82 L42.81,402.60 L43.22,403.43 L43.63,404.16 L44.04,405.43 L44.46,406.19 L44.87,407.97 L45.28,408.93 L45.69,409.80 L46.10,410.61 L46.50,412.28 L46.91,413.39 L47.31,413.58 L47.71,415.19 L48.11,415.75 L48.50,416.34 L48.90,417.17 L49.30,418.16 L49.70,418.64 L50.15,418.07 L50.62,418.53 L51.08,417.77 L51.54,418.01 L52.00,417.21 L52.45,417.24 L52.88,416.89 L53.30,416.10 L53.74,416.16 L54.14,415.08 L54.51,414.39 L54.89,414.40 L55.28,413.51 L55.71,413.40 L56.20,413.52 L56.58,413.78 L56.98,413.57 L57.41,413.74 L57.85,414.83 L58.31,414.71 L58.77,415.68 L59.23,416.01 L59.70,415.89 L60.15,416.26 L60.60,416.52 L61.05,416.76 L61.50,416.79 L61.97,416.80 L62.43,416.86 L62.89,417.13 L63.35,416.72 L63.79,416.64 L64.22,416.90 L64.62,416.50 L65.00,416.62 L65.49,417.34 L65.92,417.03 L66.31,417.18 L66.69,416.85 L67.06,417.45 L67.46,417.92 L67.90,417.87 L68.30,418.95 L68.71,419.65 L69.12,419.93 L69.54,421.28 L69.98,421.98 L70.45,422.97 L70.95,423.39 L71.50,424.29 L71.86,424.60 L72.24,424.21 L72.64,424.46 L73.06,425.21 L73.49,425.64 L73.92,425.15 L74.37,425.47 L74.81,425.72 L75.26,425.59 L75.71,425.74 L76.15,425.80 L76.58,425.96 L77.00,426.29 L77.41,426.14 L77.81,426.31 L78.20,426.76 L78.58,426.18 L78.97,426.74 L79.35,426.97 L79.74,426.66 L80.13,426.65 L80.54,427.25 L80.95,426.81 L81.38,426.84 L81.83,427.15 L82.30,427.48 L82.65,427.01 L83.02,427.28 L83.39,427.37 L83.77,427.90 L84.16,427.63 L84.56,428.08 L84.96,427.55 L85.36,427.78 L85.78,428.15 L86.19,428.44 L86.60,428.13 L87.02,428.01 L87.44,428.00 L87.86,428.44 L88.27,428.21 L88.69,428.84 L89.09,428.94 L89.50,428.42 L89.90,428.57 L90.31,429.11 L90.71,429.02 L91.12,429.24 L91.52,428.89 L91.93,428.76 L92.33,428.96 L92.74,429.48 L93.14,429.06 L93.55,429.19 L93.96,429.30 L94.36,429.35 L94.77,429.38 L95.18,429.88 L95.58,429.23 L95.99,429.12 L96.39,429.98 L96.80,429.94 L97.21,430.05 L97.61,429.55 L98.02,430.01 L98.42,429.98 L98.83,429.34 L99.24,429.79 L99.64,429.85 L100.05,429.67 L100.46,429.51 L100.86,429.27 L101.27,429.28 L101.67,429.14 L102.08,428.95 L102.48,429.38 L102.89,429.06 L103.29,429.48 L103.70,428.74 L104.10,429.46 L104.50,429.22 L104.91,429.37 L105.32,429.29 L105.73,429.24 L106.15,428.89 L106.56,428.32 L106.97,428.91 L107.38,428.33 L107.79,428.37 L108.20,428.62 L108.61,428.42 L109.01,428.23 L109.40,428.62 L109.80,428.23 L110.18,427.89 L110.56,427.70 L110.93,428.14 L111.30,427.68 L111.76,427.78 L112.21,427.17 L112.66,426.78 L113.10,426.81 L113.53,426.78 L113.96,425.91 L114.38,426.18 L114.79,426.03 L115.19,425.67 L115.59,425.47 L115.97,424.56 L116.36,424.99 L116.73,425.13 L117.10,424.39 L117.55,424.70 L117.97,424.92 L118.36,425.46 L118.74,425.75 L119.12,426.22 L119.48,426.96 L119.86,426.72 L120.24,427.22 L120.63,427.71 L121.05,428.07 L121.50,428.31 L121.87,429.31 L122.24,429.37 L122.62,428.84 L123.00,429.36 L123.39,429.32 L123.79,429.44 L124.19,429.58 L124.61,429.94 L125.03,429.97 L125.46,429.85 L125.91,429.76 L126.36,429.95 L126.82,429.82 L127.30,430.25 L127.67,430.42 L128.05,430.15 L128.45,429.90 L128.86,430.01 L129.29,430.20 L129.72,430.41 L130.16,430.58 L130.60,430.22 L131.05,430.59 L131.49,430.42 L131.93,430.23 L132.36,430.15 L132.78,430.23 L133.20,430.38 L133.60,430.08 L133.98,430.28 L134.34,430.01 L134.68,429.75 L135.00,429.93 L135.60,429.85 L136.12,428.96 L136.58,428.90 L136.99,428.48 L137.38,428.48 L137.74,428.15 L138.11,427.34 L138.49,427.62 L138.90,427.46 L139.27,427.08 L139.54,427.50 L139.77,427.52 L140.00,428.54 L140.27,428.85 L140.64,429.51 L141.15,429.86 L141.86,430.14 L142.80,430.51 L143.06,430.42 L143.34,430.07 L143.64,430.57 L143.95,430.11 L144.28,430.30 L144.62,430.93 L144.98,430.34 L145.34,430.44 L145.72,430.52 L146.11,431.28 L146.51,430.71 L146.92,430.64 L147.34,431.44 L147.76,430.85 L148.19,431.56 L148.63,431.46 L149.07,431.66 L149.52,431.82 L149.98,431.54 L150.43,431.79 L150.89,431.15 L151.35,431.85 L151.81,431.67 L152.27,431.89 L152.73,431.38 L153.19,432.00 L153.64,432.19 L154.10,431.44 L154.55,431.70 L154.99,431.94 L155.43,432.19 L155.87,431.68 L156.29,431.63 L156.71,431.70 L157.12,432.03 L157.53,432.15 L157.92,431.82 L158.30,431.78 L158.75,431.78 L159.20,431.70 L159.65,431.71 L160.10,431.35 L160.56,431.65 L161.01,432.00 L161.47,431.41 L161.92,431.61 L162.37,430.98 L162.83,431.35 L163.28,431.30 L163.72,431.10 L164.17,430.84 L164.61,430.69 L165.04,430.71 L165.48,430.81 L165.90,430.02 L166.32,429.85 L166.74,430.31 L167.15,430.34 L167.55,429.87 L167.95,429.69 L168.34,429.84 L168.72,429.26 L169.09,429.24 L169.45,429.10 L169.80,429.38 L170.14,429.07 L170.47,428.94 L170.79,429.32 L171.10,429.52 L171.40,428.92 L172.05,429.30 L172.60,429.11 L173.05,429.64 L173.43,429.57 L173.75,429.49 L174.05,429.67 L174.34,429.74 L174.63,430.40 L174.95,430.55 L175.32,430.59 L175.75,430.97 L176.27,431.11 L176.90,431.65 L177.20,431.12 L177.52,431.93 L177.85,431.51 L178.20,431.66 L178.57,431.59 L178.95,431.96 L179.35,431.98 L179.75,431.78 L180.17,431.75 L180.59,432.00 L181.02,432.15 L181.46,431.77 L181.90,432.10 L182.35,432.33 L182.80,431.91 L183.25,431.72 L183.70,431.74 L184.15,432.19 L184.60,432.17 L185.04,432.43 L185.48,432.34 L185.91,431.80 L186.33,431.75 L186.75,431.81 L187.15,431.74 L187.55,432.19 L187.93,432.32 L188.30,432.34 L188.65,431.74 L188.98,432.26 L189.30,431.73 L189.89,431.75 L190.46,431.92 L191.00,431.21 L191.53,431.06 L192.04,431.56 L192.52,430.88 L192.99,430.75 L193.43,430.75 L193.84,430.64 L194.23,429.84 L194.59,429.95 L194.93,429.86 L195.24,429.74 L195.52,429.35 L195.78,429.57 L196.00,429.81" fill="none" stroke="#1f9e8c" stroke-width="1.05" stroke-linejoin="round" />
<path d="M18.20,380.26 L18.50,379.52 L18.93,378.88 L19.43,377.64 L19.96,376.58 L20.50,376.11 L20.88,376.16 L21.28,375.69 L21.70,375.33 L22.13,374.58 L22.55,374.66 L22.98,374.28 L23.40,374.11 L23.82,374.14 L24.25,374.54 L24.67,375.58 L25.10,375.88 L25.52,376.13 L25.92,376.17 L26.30,375.32 L26.79,374.45 L27.25,373.28 L27.69,371.60 L28.13,369.74 L28.60,367.74 L29.02,365.05 L29.46,363.12 L29.91,360.69 L30.36,358.26 L30.79,356.22 L31.20,355.58 L31.65,355.40 L32.07,357.34 L32.47,359.10 L32.88,360.89 L33.30,362.62 L33.75,365.17 L34.21,367.18 L34.67,369.81 L35.14,371.93 L35.60,373.31 L36.04,374.36 L36.46,375.28 L36.89,375.64 L37.36,375.79 L37.90,376.32 L38.29,377.03 L38.72,376.54 L39.18,376.70 L39.65,377.35 L40.12,377.17 L40.58,377.54 L41.01,377.65 L41.40,377.76 L41.92,378.69 L42.35,378.27 L42.75,378.86 L43.18,379.28 L43.70,380.62 L44.08,381.15 L44.49,382.27 L44.92,383.81 L45.38,384.69 L45.83,386.20 L46.30,387.75 L46.75,388.17 L47.20,389.11 L47.63,390.12 L48.05,391.45 L48.46,392.11 L48.88,392.49 L49.30,393.21 L49.74,393.57 L50.21,394.18 L50.70,393.99 L51.09,394.56 L51.51,394.57 L51.96,394.35 L52.42,393.78 L52.89,393.55 L53.36,392.25 L53.82,392.03 L54.26,392.20 L54.68,391.64 L55.06,391.01 L55.40,391.30 L55.99,390.84 L56.44,391.04 L56.81,390.75 L57.20,390.96 L57.70,391.55 L58.08,391.58 L58.49,392.21 L58.92,393.20 L59.38,393.13 L59.83,393.33 L60.30,393.80 L60.75,394.27 L61.20,395.06 L61.64,394.76 L62.08,394.63 L62.51,394.31 L62.95,394.91 L63.39,394.22 L63.83,393.89 L64.26,393.71 L64.70,393.80 L65.13,394.13 L65.55,394.91 L65.96,394.82 L66.38,395.17 L66.81,396.07 L67.25,396.38 L67.71,397.60 L68.20,397.36 L68.58,398.15 L68.97,398.84 L69.39,399.02 L69.81,400.07 L70.24,400.15 L70.67,400.48 L71.11,401.15 L71.54,401.31 L71.97,402.10 L72.39,402.34 L72.80,403.25 L73.23,403.48 L73.65,403.40 L74.05,403.14 L74.46,403.45 L74.86,403.52 L75.26,403.56 L75.67,403.63 L76.10,404.26 L76.54,403.68 L77.00,403.70 L77.37,404.57 L77.74,404.33 L78.11,404.79 L78.49,404.34 L78.87,404.86 L79.26,404.72 L79.66,404.92 L80.07,404.96 L80.49,404.82 L80.92,404.54 L81.37,404.74 L81.83,405.43 L82.30,405.56 L82.65,405.66 L83.02,405.22 L83.39,405.60 L83.77,405.83 L84.16,405.79 L84.56,406.05 L84.96,405.90 L85.36,406.12 L85.78,406.26 L86.19,405.99 L86.60,406.69 L87.02,406.82 L87.44,406.12 L87.86,407.02 L88.27,407.10 L88.69,406.92 L89.09,406.43 L89.50,407.26 L89.90,406.62 L90.31,407.43 L90.71,407.20 L91.12,406.70 L91.52,406.83 L91.93,407.28 L92.33,407.25 L92.74,407.43 L93.14,407.62 L93.55,407.00 L93.96,406.82 L94.36,407.65 L94.77,406.84 L95.18,407.63 L95.58,406.95 L95.99,407.58 L96.39,407.55 L96.80,407.64 L97.21,407.34 L97.61,407.64 L98.02,407.02 L98.42,407.44 L98.83,407.12 L99.24,407.62 L99.64,407.49 L100.05,407.21 L100.46,407.24 L100.86,406.76 L101.27,406.75 L101.67,407.22 L102.08,407.10 L102.48,407.40 L102.89,407.13 L103.29,406.67 L103.70,406.82 L104.10,407.14 L104.51,406.87 L104.92,406.36 L105.34,407.05 L105.76,406.98 L106.19,406.25 L106.61,406.60 L107.04,406.39 L107.46,406.69 L107.88,406.19 L108.30,406.04 L108.71,406.19 L109.11,406.53 L109.51,405.66 L109.89,405.58 L110.26,405.94 L110.62,406.07 L110.97,405.63 L111.30,405.44 L111.81,405.59 L112.27,405.23 L112.70,404.26 L113.11,404.64 L113.49,403.66 L113.86,403.41 L114.23,403.56 L114.58,402.91 L114.94,403.04 L115.31,402.34 L115.70,402.94 L116.13,402.39 L116.54,402.57 L116.95,403.16 L117.36,403.38 L117.76,403.97 L118.18,404.73 L118.60,404.99 L119.05,404.77 L119.51,405.42 L120.00,405.94 L120.36,406.09 L120.72,406.49 L121.08,406.48 L121.45,406.31 L121.82,406.66 L122.20,407.38 L122.59,407.12 L123.00,407.66 L123.42,408.01 L123.85,407.83 L124.31,408.00 L124.78,408.05 L125.28,407.87 L125.80,408.47 L126.14,408.10 L126.50,408.52 L126.87,407.99 L127.26,408.50 L127.67,408.42 L128.09,408.26 L128.52,408.09 L128.96,407.79 L129.40,408.34 L129.85,407.94 L130.29,408.17 L130.74,407.66 L131.19,407.57 L131.63,407.58 L132.06,408.12 L132.48,407.50 L132.89,408.10 L133.29,407.57 L133.67,407.70 L134.04,407.44 L134.38,407.62 L134.70,407.09 L135.00,407.31 L135.67,407.61 L136.22,406.67 L136.69,406.81 L137.10,406.21 L137.46,405.89 L137.80,405.38 L138.14,405.18 L138.50,405.90 L138.90,405.80 L139.31,405.91 L139.69,406.17 L140.06,406.65 L140.42,406.34 L140.81,407.16 L141.22,407.53 L141.68,408.02 L142.20,408.71 L142.80,408.83 L143.11,409.13 L143.43,408.46 L143.75,409.03 L144.09,409.14 L144.43,409.28 L144.79,409.24 L145.16,409.50 L145.53,409.08 L145.92,409.70 L146.32,409.28 L146.73,409.51 L147.15,409.82 L147.59,409.69 L148.04,409.37 L148.50,409.33 L148.98,409.45 L149.47,409.75 L149.98,410.12 L150.50,410.06 L150.83,409.63 L151.17,409.65 L151.53,410.04 L151.90,409.58 L152.28,409.71 L152.66,409.37 L153.06,409.54 L153.46,409.87 L153.87,410.02 L154.29,409.97 L154.71,409.75 L155.14,410.29 L155.57,410.01 L156.00,409.59 L156.43,409.52 L156.87,410.34 L157.30,410.36 L157.74,410.30 L158.17,410.01 L158.60,409.75 L159.02,409.54 L159.44,409.68 L159.86,409.64 L160.27,410.26 L160.67,410.21 L161.07,410.09 L161.46,409.50 L161.83,409.56 L162.20,409.59 L162.56,410.14 L162.90,409.40 L163.39,409.90 L163.87,409.71 L164.35,409.49 L164.81,409.75 L165.26,409.00 L165.70,409.10 L166.13,408.63 L166.56,408.42 L166.97,408.21 L167.38,408.32 L167.78,407.99 L168.17,407.79 L168.56,408.49 L168.93,407.72 L169.30,408.14 L169.67,407.86 L170.03,407.79 L170.38,407.65 L170.72,407.86 L171.06,407.75 L171.40,407.60 L171.90,407.49 L172.34,407.70 L172.73,407.87 L173.09,407.89 L173.42,408.06 L173.74,407.97 L174.07,408.84 L174.42,408.76 L174.80,408.62 L175.22,408.93 L175.70,409.76 L176.26,409.37 L176.90,409.60 L177.20,409.90 L177.52,410.09 L177.85,409.65 L178.20,409.73 L178.57,409.79 L178.95,409.45 L179.35,410.24 L179.75,409.49 L180.17,410.35 L180.59,409.64 L181.02,409.65 L181.46,410.29 L181.90,410.27 L182.35,409.74 L182.80,410.04 L183.25,409.97 L183.70,410.18 L184.15,409.70 L184.60,410.27 L185.04,410.41 L185.48,410.14 L185.91,410.32 L186.33,410.31 L186.75,409.79 L187.15,410.19 L187.55,410.16 L187.93,409.91 L188.30,409.45 L188.65,409.88 L188.98,410.11 L189.30,409.52 L189.89,409.75 L190.46,409.86 L191.00,409.47 L191.53,408.82 L192.04,409.19 L192.52,408.68 L192.99,409.05 L193.43,408.70 L193.84,408.20 L194.23,408.55 L194.59,408.14 L194.93,407.72 L195.24,408.02 L195.52,407.95 L195.78,407.84 L196.00,407.74" fill="none" stroke="#4e66a2" stroke-width="1.05" stroke-linejoin="round" />
<line x1="56.70" y1="384.00" x2="56.70" y2="426.00" stroke="#4a3a3a" stroke-width="1.3" stroke-dasharray="2.4 2.6"/>
<line x1="138.90" y1="395.90" x2="138.90" y2="436.60" stroke="#4a3a3a" stroke-width="1.3" stroke-dasharray="2.4 2.6"/>
<line x1="182.60" y1="441.60" x2="182.60" y2="468.00" stroke="#4a3a3a" stroke-width="1.3" stroke-dasharray="2.4 2.6"/>
<rect x="17.90" y="338.50" width="178.50" height="142.60" fill="none" stroke="#303030" stroke-width="1.2"/>
<line x1="17.90" y1="481.10" x2="17.90" y2="484.40" stroke="#303030" stroke-width="1.1" />
<text x="17.90" y="495.80" font-size="10" fill="#231f20" text-anchor="middle" stroke="#231f20" stroke-width="0.15" stroke-linejoin="round">60</text>
<line x1="59.90" y1="481.10" x2="59.90" y2="484.40" stroke="#303030" stroke-width="1.1" />
<text x="59.90" y="495.80" font-size="10" fill="#231f20" text-anchor="middle" stroke="#231f20" stroke-width="0.15" stroke-linejoin="round">140</text>
<line x1="101.90" y1="481.10" x2="101.90" y2="484.40" stroke="#303030" stroke-width="1.1" />
<text x="101.90" y="495.80" font-size="10" fill="#231f20" text-anchor="middle" stroke="#231f20" stroke-width="0.15" stroke-linejoin="round">220</text>
<line x1="143.90" y1="481.10" x2="143.90" y2="484.40" stroke="#303030" stroke-width="1.1" />
<text x="143.90" y="495.80" font-size="10" fill="#231f20" text-anchor="middle" stroke="#231f20" stroke-width="0.15" stroke-linejoin="round">300</text>
<line x1="185.90" y1="481.10" x2="185.90" y2="484.40" stroke="#303030" stroke-width="1.1" />
<text x="185.90" y="495.80" font-size="10" fill="#231f20" text-anchor="middle" stroke="#231f20" stroke-width="0.15" stroke-linejoin="round">380</text>
<text x="105.40" y="512.90" font-size="10.4" fill="#231f20" text-anchor="middle" stroke="#231f20" stroke-width="0.15" stroke-linejoin="round">Raman shift (cm<tspan font-size="6.656" dy="-3.74">-1</tspan><tspan dy="3.74">)</tspan></text>
<text x="0" y="0" transform="translate(7.80,409.10) rotate(-90)" font-size="10.3" fill="#231f20" text-anchor="middle" stroke="#231f20" stroke-width="0.15" stroke-linejoin="round">Intensity (a.u.)</text>
<text x="25.60" y="349.50" font-size="8.9" fill="#231f20" stroke="#231f20" stroke-width="0.15" stroke-linejoin="round"><tspan letter-spacing="-0.12">C</tspan><tspan font-size="6.3" dy="2.40" letter-spacing="-0.12">5</tspan><tspan dy="-2.40" letter-spacing="-0.12">H</tspan><tspan font-size="6.3" dy="2.40" letter-spacing="-0.12">11</tspan><tspan dy="-2.40" letter-spacing="-0.12">N</tspan><tspan font-size="6.3" dy="2.40" letter-spacing="-0.12">3</tspan><tspan dy="-2.40" letter-spacing="-0.12">(MnCl</tspan><tspan font-size="6.3" dy="2.40" letter-spacing="-0.12">3</tspan><tspan dy="-2.40" letter-spacing="-0.12">·H</tspan><tspan font-size="6.3" dy="2.40" letter-spacing="-0.12">2</tspan><tspan dy="-2.40" letter-spacing="-0.12">O)Br</tspan></text>
<text x="49.60" y="381.20" font-size="8.7" fill="#231f20" stroke="#231f20" stroke-width="0.15" stroke-linejoin="round">Mn-Br 133 cm<tspan font-size="5.568" dy="-3.13">-1</tspan></text>
<text x="126.40" y="393.40" font-size="8.7" fill="#231f20" stroke="#231f20" stroke-width="0.15" stroke-linejoin="round">Mn-Br 290 cm<tspan font-size="5.568" dy="-3.13">-1</tspan></text>
<text x="131.40" y="478.80" font-size="8.7" fill="#231f20" stroke="#231f20" stroke-width="0.15" stroke-linejoin="round">Mn-O 353 cm<tspan font-size="5.568" dy="-3.13">-1</tspan></text>
<text x="147.00" y="406.10" font-size="8.7" fill="#231f20" stroke="#231f20" stroke-width="0.15" stroke-linejoin="round">125 °C</text>
<text x="149.60" y="426.90" font-size="8.7" fill="#231f20" stroke="#231f20" stroke-width="0.15" stroke-linejoin="round">85 °C</text>
<text x="149.60" y="444.50" font-size="8.7" fill="#231f20" stroke="#231f20" stroke-width="0.15" stroke-linejoin="round">55 °C</text>
<text x="149.60" y="463.60" font-size="8.7" fill="#231f20" stroke="#231f20" stroke-width="0.15" stroke-linejoin="round">25 °C</text>
<text x="213.00" y="338.80" font-size="15" fill="#111" font-weight="bold">f</text>
<path d="M232.90,461.64 L233.25,461.66 L233.72,461.71 L234.29,461.76 L234.90,461.63 L235.52,461.46 L236.10,460.76 L236.67,460.11 L237.27,459.15 L237.88,457.81 L238.46,456.65 L239.01,455.37 L239.50,454.79 L240.05,454.65 L240.46,455.34 L240.89,455.86 L241.50,455.35 L241.92,454.67 L242.41,453.58 L242.95,452.42 L243.51,450.92 L244.07,449.31 L244.62,448.23 L245.14,447.05 L245.60,446.64 L246.23,446.43 L246.78,447.01 L247.29,448.33 L247.78,449.39 L248.30,450.61 L248.80,452.18 L249.25,453.76 L249.73,455.24 L250.29,456.90 L251.00,457.81 L251.44,458.14 L251.93,458.13 L252.46,458.37 L253.03,458.23 L253.61,458.20 L254.20,458.07 L254.79,457.81 L255.36,457.82 L255.90,457.86 L256.40,458.09 L256.97,458.59 L257.52,459.38 L258.03,460.32 L258.53,461.06 L259.02,462.18 L259.51,462.94 L260.00,463.68 L260.50,464.40 L261.00,464.67 L261.49,464.88 L261.98,465.08 L262.47,465.24 L262.97,465.09 L263.48,465.40 L264.03,465.16 L264.60,465.47 L265.09,465.61 L265.61,465.49 L266.14,465.85 L266.70,465.86 L267.26,466.05 L267.82,465.99 L268.38,466.09 L268.94,466.19 L269.48,466.45 L270.00,466.21 L270.56,466.29 L271.12,466.17 L271.67,465.95 L272.22,465.52 L272.75,465.26 L273.28,465.06 L273.80,464.92 L274.31,464.56 L274.80,464.67 L275.33,464.71 L275.84,464.84 L276.32,464.77 L276.80,465.25 L277.28,465.20 L277.76,465.47 L278.27,465.68 L278.80,465.83 L279.29,465.64 L279.80,465.78 L280.32,465.61 L280.85,465.45 L281.38,465.33 L281.93,465.14 L282.48,464.93 L283.04,464.74 L283.60,464.66 L284.12,464.46 L284.67,463.84 L285.23,463.39 L285.80,463.21 L286.37,462.60 L286.93,462.11 L287.49,461.64 L288.02,461.38 L288.53,461.17 L289.00,460.89 L289.60,460.79 L290.13,460.73 L290.62,461.15 L291.08,461.14 L291.57,461.59 L292.10,462.04 L292.70,462.19 L293.16,462.65 L293.63,463.04 L294.11,463.31 L294.60,463.75 L295.12,463.96 L295.66,464.46 L296.22,464.78 L296.81,465.36 L297.44,465.54 L298.10,465.89 L298.53,466.21 L298.97,466.32 L299.43,466.50 L299.89,466.48 L300.37,466.62 L300.86,466.82 L301.35,466.85 L301.86,466.91 L302.38,467.04 L302.91,467.06 L303.45,467.23 L304.00,467.50 L304.56,467.58 L305.13,467.57 L305.71,467.62 L306.30,467.65 L306.76,467.64 L307.24,467.76 L307.74,467.98 L308.25,468.06 L308.78,467.97 L309.31,468.16 L309.86,468.22 L310.40,468.25 L310.96,468.29 L311.51,468.37 L312.06,468.30 L312.61,468.45 L313.16,468.36 L313.70,468.46 L314.23,468.58 L314.75,468.59 L315.25,468.49 L315.74,468.71 L316.22,468.63 L316.67,468.62 L317.10,468.45 L317.76,468.61 L318.38,468.50 L318.97,468.60 L319.53,468.50 L320.07,468.56 L320.58,468.45 L321.08,468.43 L321.56,468.21 L322.03,468.21 L322.50,468.14 L322.97,468.05 L323.43,467.79 L323.90,467.80 L324.45,467.61 L325.00,467.30 L325.53,467.08 L326.06,466.74 L326.57,466.27 L327.07,465.95 L327.57,465.53 L328.04,465.47 L328.51,465.29 L328.96,465.03 L329.40,465.06 L329.94,465.19 L330.41,465.49 L330.83,465.74 L331.23,466.41 L331.66,466.87 L332.14,467.39 L332.71,467.75 L333.40,468.14 L333.80,468.30 L334.22,468.36 L334.67,468.48 L335.15,468.36 L335.65,468.47 L336.16,468.62 L336.69,468.74 L337.23,468.66 L337.77,468.84 L338.33,468.86 L338.88,468.72 L339.44,468.88 L339.99,468.84 L340.54,468.81 L341.07,468.86 L341.60,468.95 L342.12,468.93 L342.65,468.95 L343.19,468.92 L343.73,469.06 L344.27,469.04 L344.82,469.11 L345.36,469.10 L345.91,468.99 L346.45,469.18 L346.98,468.90 L347.51,469.02 L348.03,468.97 L348.54,469.00 L349.04,468.90 L349.53,469.11 L350.00,468.96 L350.57,468.85 L351.13,469.02 L351.67,468.87 L352.21,469.00 L352.74,468.93 L353.25,469.00 L353.76,469.11 L354.25,469.05 L354.72,468.92 L355.19,469.01 L355.64,468.93 L356.08,468.81 L356.50,468.69 L357.15,468.70 L357.77,468.51 L358.34,468.42 L358.89,468.20 L359.40,467.89 L359.89,467.65 L360.35,467.72 L360.80,467.45 L361.38,467.70 L361.81,468.26 L362.22,468.78 L362.74,469.13 L363.50,469.64 L363.84,469.81 L364.18,469.74 L364.51,469.83 L364.84,469.83 L365.20,469.90 L365.59,470.15 L366.01,470.01 L366.49,470.21 L367.03,470.23 L367.64,470.16 L368.33,470.08 L369.11,470.32 L370.00,470.20 L370.35,470.18 L370.73,470.16 L371.14,470.37 L371.57,470.23 L372.02,470.18 L372.49,470.24 L372.98,470.14 L373.48,470.30 L374.00,470.26 L374.53,470.22 L375.08,470.37 L375.64,470.39 L376.20,470.15 L376.77,470.31 L377.35,470.24 L377.94,470.44 L378.52,470.40 L379.11,470.24 L379.69,470.25 L380.27,470.22 L380.85,470.47 L381.43,470.26 L381.99,470.35 L382.55,470.31 L383.10,470.36 L383.64,470.34 L384.16,470.38 L384.67,470.18 L385.16,470.37 L385.63,470.22 L386.08,470.28 L386.52,470.21 L386.93,470.19 L387.31,470.24 L387.67,470.21 L388.00,470.16 L389.12,470.17 L389.98,469.98 L390.64,469.63 L391.13,469.49 L391.50,469.36 L391.81,469.31 L392.09,469.16 L392.41,468.95 L392.80,468.75 L393.30,469.06 L393.57,469.17 L393.81,469.49 L394.17,469.83 L394.84,470.07 L396.00,470.19 L396.34,470.35 L396.71,470.21 L397.13,470.22 L397.59,470.37 L398.07,470.19 L398.59,470.22 L399.13,470.39 L399.69,470.16 L400.28,470.40 L400.87,470.35 L401.48,470.27 L402.10,470.23 L402.73,470.37 L403.35,470.40 L403.97,470.17 L404.59,470.26 L405.20,470.28 L405.79,470.25 L406.37,470.19 L406.93,470.13 L407.47,470.26 L407.98,470.32 L408.46,470.09 L408.91,470.13 L409.32,470.30 L409.69,470.29 L410.02,470.25 L410.30,470.06" fill="none" stroke="#d9604e" stroke-width="1.15" stroke-linejoin="round" />
<path d="M232.90,434.29 L233.21,434.28 L233.64,434.24 L234.16,434.13 L234.76,433.73 L235.40,433.15 L235.85,432.22 L236.35,431.11 L236.88,429.58 L237.44,428.19 L237.99,426.57 L238.54,425.40 L239.04,424.33 L239.50,423.57 L240.12,423.57 L240.65,424.46 L241.14,425.44 L241.64,426.38 L242.20,426.39 L242.72,425.16 L243.26,423.52 L243.82,421.35 L244.40,419.28 L244.99,417.41 L245.60,416.38 L246.08,416.47 L246.59,416.72 L247.11,417.14 L247.64,417.75 L248.16,418.61 L248.67,419.58 L249.15,420.24 L249.60,421.04 L250.23,421.64 L250.78,422.15 L251.29,422.89 L251.82,423.47 L252.40,424.43 L252.95,425.25 L253.54,426.08 L254.15,427.13 L254.75,428.14 L255.31,429.07 L255.80,429.84 L256.38,430.23 L256.84,430.70 L257.28,431.11 L257.80,431.64 L258.27,432.56 L258.76,433.44 L259.29,434.78 L259.86,435.70 L260.50,436.39 L260.94,436.91 L261.40,437.10 L261.88,437.30 L262.38,437.58 L262.91,437.64 L263.45,437.81 L264.02,438.15 L264.60,438.26 L265.10,438.19 L265.64,438.57 L266.21,438.48 L266.80,438.72 L267.39,439.02 L267.97,439.04 L268.54,439.04 L269.07,439.13 L269.56,439.17 L270.00,439.09 L270.72,439.22 L271.28,438.67 L271.76,438.44 L272.22,438.19 L272.70,437.77 L273.20,437.61 L273.66,437.00 L274.13,436.87 L274.63,436.62 L275.20,436.55 L275.65,436.82 L276.11,437.04 L276.60,437.62 L277.12,438.11 L277.65,438.51 L278.21,438.91 L278.80,439.26 L279.27,439.30 L279.76,439.28 L280.25,439.53 L280.76,439.39 L281.29,439.44 L281.84,439.49 L282.40,439.25 L282.99,439.13 L283.60,439.09 L284.09,439.15 L284.62,438.99 L285.17,438.83 L285.75,438.76 L286.34,438.75 L286.93,438.40 L287.51,438.30 L288.08,438.30 L288.62,438.09 L289.13,437.88 L289.59,437.85 L290.00,437.79 L290.73,437.60 L291.22,437.62 L291.60,437.63 L292.05,437.95 L292.70,438.15 L293.12,438.52 L293.56,438.97 L294.03,439.38 L294.53,439.69 L295.06,440.24 L295.61,440.65 L296.19,441.15 L296.80,441.62 L297.43,442.09 L298.10,442.43 L298.53,442.39 L298.97,442.43 L299.43,442.68 L299.89,442.66 L300.37,442.73 L300.86,443.03 L301.35,442.89 L301.86,443.12 L302.38,443.06 L302.91,443.27 L303.45,443.27 L304.00,443.06 L304.56,443.13 L305.13,443.38 L305.71,443.30 L306.30,443.28 L306.76,443.41 L307.24,443.44 L307.74,443.36 L308.25,443.37 L308.78,443.28 L309.31,443.37 L309.86,443.32 L310.40,443.47 L310.96,443.48 L311.51,443.34 L312.06,443.49 L312.61,443.33 L313.16,443.33 L313.70,443.48 L314.23,443.42 L314.75,443.54 L315.25,443.44 L315.74,443.44 L316.22,443.25 L316.67,443.43 L317.10,443.18 L317.76,443.27 L318.38,443.29 L318.97,443.19 L319.53,443.09 L320.07,442.85 L320.58,442.81 L321.08,442.71 L321.56,442.39 L322.03,442.51 L322.50,442.37 L322.97,442.11 L323.43,442.10 L323.90,441.88 L324.45,441.69 L325.00,441.66 L325.53,441.29 L326.06,441.33 L326.57,441.21 L327.07,440.84 L327.57,440.88 L328.04,440.50 L328.51,440.65 L328.96,440.43 L329.40,440.64 L329.94,440.58 L330.41,440.92 L330.83,440.93 L331.23,441.26 L331.66,441.81 L332.14,442.09 L332.71,442.36 L333.40,442.46 L333.80,442.61 L334.22,442.77 L334.67,442.77 L335.15,443.15 L335.65,443.18 L336.16,443.33 L336.69,443.34 L337.23,443.32 L337.77,443.32 L338.33,443.60 L338.88,443.49 L339.44,443.69 L339.99,443.72 L340.54,443.79 L341.07,443.72 L341.60,443.77 L342.12,443.95 L342.63,443.85 L343.13,444.04 L343.64,443.97 L344.14,444.04 L344.64,444.03 L345.15,444.19 L345.66,444.15 L346.17,444.12 L346.69,444.13 L347.21,444.23 L347.75,444.33 L348.29,444.17 L348.85,444.07 L349.42,444.09 L350.00,444.02 L350.46,444.08 L350.94,444.08 L351.43,443.95 L351.94,443.75 L352.46,443.70 L352.98,443.62 L353.52,443.53 L354.06,443.41 L354.60,443.48 L355.14,443.23 L355.68,443.15 L356.22,443.06 L356.75,442.93 L357.27,442.88 L357.78,442.65 L358.28,442.66 L358.76,442.68 L359.23,442.38 L359.67,442.47 L360.10,442.37 L360.50,442.27 L361.13,442.30 L361.56,442.61 L361.87,442.56 L362.10,442.92 L362.30,442.95 L362.55,443.24 L362.89,443.36 L363.37,443.72 L364.07,443.96 L365.02,443.93 L366.30,444.12 L366.62,444.24 L366.95,444.06 L367.30,444.12 L367.67,444.20 L368.05,444.24 L368.45,444.03 L368.86,444.18 L369.29,444.01 L369.73,444.01 L370.18,444.26 L370.65,443.97 L371.13,444.23 L371.61,444.16 L372.11,444.13 L372.62,444.13 L373.13,444.10 L373.66,443.97 L374.19,444.01 L374.73,443.92 L375.27,444.10 L375.83,444.06 L376.38,444.04 L376.94,443.85 L377.51,443.95 L378.08,443.83 L378.65,443.97 L379.22,443.94 L379.80,443.99 L380.38,443.89 L380.95,443.86 L381.53,443.87 L382.11,443.65 L382.68,443.78 L383.25,443.59 L383.82,443.68 L384.39,443.59 L384.95,443.82 L385.51,443.53 L386.06,443.78 L386.61,443.78 L387.15,443.61 L387.68,443.72 L388.21,443.48 L388.73,443.50 L389.24,443.45 L389.74,443.46 L390.23,443.44 L390.70,443.69 L391.17,443.47 L391.63,443.62 L392.07,443.53 L392.50,443.49 L393.13,443.59 L393.76,443.53 L394.39,443.79 L395.01,443.63 L395.64,443.72 L396.26,443.74 L396.88,443.79 L397.50,443.78 L398.11,443.75 L398.72,443.74 L399.32,444.01 L399.91,443.84 L400.50,443.96 L401.08,444.11 L401.65,444.08 L402.21,444.24 L402.77,444.24 L403.31,444.20 L403.84,444.12 L404.36,444.31 L404.86,444.32 L405.36,444.48 L405.84,444.42 L406.31,444.51 L406.76,444.59 L407.19,444.53 L407.61,444.68 L408.01,444.73 L408.40,444.54 L408.76,444.80 L409.11,444.82 L409.44,444.84 L409.75,444.71 L410.03,444.71 L410.30,444.69" fill="none" stroke="#ea9c88" stroke-width="1.15" stroke-linejoin="round" />
<path d="M232.90,400.45 L233.25,399.67 L233.72,398.84 L234.29,397.50 L234.90,396.31 L235.52,394.84 L236.10,393.27 L236.66,391.64 L237.24,389.38 L237.83,387.28 L238.41,385.10 L238.97,383.46 L239.50,382.58 L240.08,382.74 L240.61,383.58 L241.12,385.05 L241.65,386.38 L242.20,386.83 L242.68,386.08 L243.16,384.76 L243.65,383.36 L244.16,381.53 L244.71,380.56 L245.30,379.84 L245.78,379.87 L246.30,380.21 L246.83,380.86 L247.39,381.76 L247.95,382.45 L248.51,383.50 L249.06,384.45 L249.60,385.26 L250.12,386.19 L250.64,386.97 L251.15,387.95 L251.66,389.01 L252.17,390.20 L252.68,391.19 L253.19,392.25 L253.70,393.43 L254.22,394.54 L254.76,395.74 L255.30,397.19 L255.84,398.46 L256.37,399.59 L256.87,400.89 L257.35,401.97 L257.80,403.01 L258.41,404.16 L258.91,404.93 L259.39,405.86 L259.89,406.24 L260.50,406.98 L260.95,407.49 L261.43,407.69 L261.93,408.16 L262.46,408.36 L263.00,408.87 L263.54,409.21 L264.08,409.44 L264.60,409.81 L265.11,409.93 L265.63,410.33 L266.14,410.59 L266.66,410.85 L267.17,411.04 L267.68,411.34 L268.19,411.49 L268.70,411.39 L269.22,411.40 L269.75,411.09 L270.29,411.09 L270.82,410.83 L271.34,410.66 L271.84,410.32 L272.29,409.89 L272.70,409.67 L273.31,409.18 L273.75,408.33 L274.19,407.91 L274.80,407.60 L275.20,407.67 L275.65,407.87 L276.13,408.40 L276.63,408.56 L277.16,408.96 L277.70,409.33 L278.25,409.71 L278.80,409.57 L279.29,409.68 L279.80,409.67 L280.32,409.68 L280.85,409.53 L281.38,409.36 L281.93,408.97 L282.48,408.74 L283.04,408.41 L283.60,408.22 L284.12,407.83 L284.67,407.08 L285.23,406.50 L285.80,405.88 L286.37,405.23 L286.93,404.67 L287.49,404.12 L288.02,403.50 L288.53,403.02 L289.00,402.88 L289.61,402.66 L290.17,402.66 L290.68,402.85 L291.18,402.98 L291.66,403.27 L292.17,403.76 L292.70,404.35 L293.18,404.84 L293.67,405.95 L294.15,406.90 L294.64,408.00 L295.15,409.07 L295.67,410.00 L296.22,410.96 L296.80,411.68 L297.29,412.40 L297.80,412.75 L298.32,413.23 L298.87,413.72 L299.42,414.12 L299.98,414.56 L300.54,414.82 L301.10,415.12 L301.65,415.44 L302.20,415.68 L302.73,415.96 L303.24,416.01 L303.73,416.36 L304.23,416.35 L304.73,416.25 L305.24,416.30 L305.77,416.35 L306.34,416.37 L306.95,416.33 L307.60,416.60 L308.04,416.70 L308.50,416.60 L308.98,416.66 L309.49,416.61 L310.00,416.69 L310.53,416.83 L311.07,416.88 L311.61,417.12 L312.16,416.98 L312.70,416.99 L313.25,417.32 L313.78,417.22 L314.31,417.13 L314.82,417.25 L315.32,417.09 L315.80,417.21 L316.37,417.28 L316.92,417.16 L317.46,417.00 L318.00,416.74 L318.52,416.63 L319.03,416.42 L319.54,416.43 L320.05,416.17 L320.55,416.06 L321.06,415.73 L321.57,415.51 L322.08,415.49 L322.60,415.35 L323.13,415.09 L323.66,414.81 L324.20,414.52 L324.74,414.18 L325.28,413.70 L325.82,413.47 L326.36,413.11 L326.89,412.73 L327.41,412.48 L327.93,412.35 L328.43,412.20 L328.92,412.25 L329.40,412.34 L329.99,412.33 L330.55,412.77 L331.08,413.19 L331.59,413.67 L332.10,414.03 L332.61,414.55 L333.12,415.11 L333.65,415.62 L334.21,416.07 L334.80,416.54 L335.27,416.83 L335.75,416.99 L336.24,417.04 L336.74,417.23 L337.24,417.39 L337.75,417.28 L338.27,417.54 L338.80,417.70 L339.34,417.73 L339.89,417.79 L340.45,417.77 L341.02,417.74 L341.60,417.99 L342.08,417.90 L342.58,418.08 L343.10,418.17 L343.62,418.03 L344.15,418.06 L344.69,418.24 L345.24,418.20 L345.79,418.04 L346.34,418.04 L346.88,418.06 L347.42,418.29 L347.96,418.27 L348.49,418.08 L349.01,418.29 L349.51,418.34 L350.00,418.25 L350.55,418.16 L351.10,418.23 L351.65,418.12 L352.19,418.09 L352.73,418.38 L353.26,418.29 L353.77,418.26 L354.28,418.38 L354.78,418.22 L355.26,418.34 L355.72,418.31 L356.17,418.09 L356.60,418.07 L357.00,418.04 L357.65,417.90 L358.23,417.82 L358.76,417.51 L359.25,417.33 L359.71,417.02 L360.14,417.08 L360.57,416.79 L361.00,416.79 L361.50,416.93 L361.89,417.26 L362.25,417.43 L362.67,417.91 L363.22,418.09 L364.00,418.31 L364.35,418.36 L364.71,418.25 L365.08,418.41 L365.46,418.36 L365.86,418.33 L366.28,418.59 L366.72,418.41 L367.19,418.51 L367.68,418.59 L368.19,418.55 L368.74,418.49 L369.32,418.55 L369.93,418.57 L370.58,418.65 L371.27,418.46 L372.00,418.62 L372.39,418.54 L372.80,418.56 L373.24,418.72 L373.70,418.66 L374.17,418.70 L374.67,418.77 L375.18,418.84 L375.71,418.72 L376.25,418.79 L376.80,418.78 L377.36,418.81 L377.92,418.88 L378.50,418.83 L379.07,418.88 L379.65,418.89 L380.22,419.04 L380.80,418.99 L381.37,419.06 L381.94,419.10 L382.50,418.91 L383.05,419.02 L383.59,419.14 L384.12,419.12 L384.63,418.92 L385.12,418.92 L385.60,419.02 L386.06,418.91 L386.50,418.96 L386.91,418.91 L387.30,419.08 L387.67,419.10 L388.00,419.12 L389.11,418.78 L389.95,418.75 L390.56,418.49 L391.01,418.07 L391.35,418.03 L391.66,417.84 L391.99,417.47 L392.40,417.64 L392.86,417.57 L393.10,417.85 L393.30,418.34 L393.65,418.66 L394.32,418.78 L395.50,419.08 L395.83,419.13 L396.20,419.11 L396.62,419.09 L397.06,419.15 L397.54,419.29 L398.05,419.09 L398.59,419.27 L399.14,419.24 L399.72,419.13 L400.31,419.23 L400.92,419.32 L401.54,419.30 L402.16,419.17 L402.78,419.44 L403.41,419.39 L404.03,419.44 L404.64,419.18 L405.25,419.23 L405.84,419.16 L406.41,419.38 L406.97,419.23 L407.50,419.19 L408.00,419.27 L408.48,419.42 L408.92,419.39 L409.33,419.22 L409.70,419.19 L410.02,419.42 L410.30,419.32" fill="none" stroke="#1f9e8c" stroke-width="1.15" stroke-linejoin="round" />
<path d="M232.90,367.52 L233.23,367.62 L233.68,367.25 L234.22,367.22 L234.80,366.71 L235.40,366.22 L235.92,365.68 L236.49,364.34 L237.09,363.27 L237.69,362.11 L238.26,361.33 L238.80,361.10 L239.38,361.65 L239.93,363.26 L240.45,364.76 L240.97,366.37 L241.50,367.26 L242.02,367.56 L242.51,367.41 L243.02,367.11 L243.57,366.42 L244.20,365.88 L244.65,365.64 L245.13,365.48 L245.63,364.78 L246.16,364.52 L246.70,364.08 L247.24,363.90 L247.78,363.68 L248.30,363.86 L248.82,364.10 L249.34,364.62 L249.87,365.33 L250.39,365.96 L250.91,366.62 L251.42,367.40 L251.92,368.43 L252.40,369.00 L253.01,369.79 L253.59,370.93 L254.15,371.72 L254.70,372.65 L255.25,373.54 L255.80,374.14 L256.35,374.88 L256.88,375.73 L257.41,376.15 L257.94,376.93 L258.50,377.25 L259.10,377.86 L259.56,378.10 L260.04,378.35 L260.52,378.43 L261.01,378.41 L261.52,378.38 L262.06,378.44 L262.62,378.66 L263.20,378.80 L263.65,378.82 L264.14,379.25 L264.64,379.33 L265.16,379.60 L265.69,379.67 L266.22,379.89 L266.75,380.02 L267.27,380.31 L267.77,380.44 L268.25,380.60 L268.70,380.66 L269.27,380.83 L269.80,380.82 L270.31,380.53 L270.79,380.48 L271.26,380.26 L271.73,380.25 L272.21,380.19 L272.70,379.81 L273.19,379.84 L273.65,379.54 L274.11,379.28 L274.57,379.33 L275.06,379.02 L275.58,378.78 L276.16,378.67 L276.80,378.42 L277.24,378.36 L277.71,378.27 L278.21,378.16 L278.74,378.12 L279.28,377.94 L279.84,377.78 L280.40,377.67 L280.96,377.57 L281.52,377.57 L282.07,377.38 L282.60,377.36 L283.12,377.10 L283.60,376.96 L284.20,376.73 L284.80,376.07 L285.38,375.62 L285.94,375.19 L286.49,374.78 L287.03,374.38 L287.55,374.01 L288.05,373.52 L288.54,373.42 L289.00,372.95 L289.62,373.08 L290.19,372.87 L290.72,373.16 L291.22,373.10 L291.71,373.67 L292.20,374.00 L292.70,374.55 L293.27,375.20 L293.80,376.09 L294.33,377.47 L294.87,378.49 L295.46,379.47 L296.10,380.53 L296.56,380.99 L297.04,381.43 L297.53,381.74 L298.03,382.10 L298.56,382.57 L299.11,382.85 L299.68,383.04 L300.28,383.41 L300.90,383.77 L301.35,383.94 L301.80,384.04 L302.26,384.17 L302.73,384.31 L303.21,384.41 L303.70,384.53 L304.21,384.72 L304.73,384.73 L305.27,385.02 L305.82,385.11 L306.40,385.17 L306.99,385.08 L307.60,385.26 L308.04,385.33 L308.50,385.27 L308.99,385.57 L309.49,385.55 L310.00,385.51 L310.53,385.60 L311.07,385.47 L311.61,385.50 L312.15,385.61 L312.70,385.69 L313.24,385.68 L313.77,385.49 L314.30,385.68 L314.81,385.77 L315.31,385.72 L315.79,385.77 L316.25,385.77 L316.69,385.53 L317.10,385.54 L317.75,385.58 L318.33,385.65 L318.86,385.41 L319.35,385.51 L319.81,385.39 L320.26,385.20 L320.69,385.13 L321.14,385.12 L321.59,384.95 L322.08,384.67 L322.60,384.70 L323.07,384.38 L323.57,384.26 L324.08,384.25 L324.60,384.02 L325.13,383.65 L325.66,383.43 L326.19,383.32 L326.71,383.20 L327.23,382.98 L327.73,382.91 L328.21,382.74 L328.67,382.71 L329.10,382.63 L329.73,382.65 L330.30,382.89 L330.82,383.22 L331.31,383.60 L331.80,384.08 L332.29,384.30 L332.82,384.59 L333.40,385.07 L333.83,385.10 L334.25,385.30 L334.66,385.37 L335.08,385.72 L335.50,385.69 L335.95,385.83 L336.44,386.10 L336.96,386.12 L337.54,386.15 L338.19,386.43 L338.90,386.37 L339.29,386.40 L339.71,386.62 L340.16,386.61 L340.63,386.63 L341.12,386.52 L341.63,386.72 L342.16,386.69 L342.70,386.79 L343.24,386.68 L343.80,386.83 L344.36,386.86 L344.92,386.76 L345.48,386.85 L346.03,386.91 L346.58,386.98 L347.12,386.97 L347.64,386.93 L348.16,386.74 L348.65,386.87 L349.12,386.89 L349.57,386.69 L350.00,386.79 L350.63,386.87 L351.25,386.83 L351.83,386.77 L352.40,386.44 L352.95,386.51 L353.47,386.50 L353.98,386.33 L354.46,386.13 L354.93,385.93 L355.37,386.08 L355.81,385.95 L356.22,385.77 L356.62,385.57 L357.00,385.60 L357.67,385.32 L358.22,384.95 L358.69,384.54 L359.11,384.11 L359.52,383.82 L359.97,383.67 L360.50,383.65 L360.88,383.84 L361.16,383.96 L361.39,384.48 L361.64,384.76 L361.96,385.12 L362.41,385.58 L363.04,386.03 L363.92,386.40 L365.10,386.78 L365.43,386.63 L365.78,386.72 L366.16,386.80 L366.56,386.81 L366.98,387.04 L367.43,386.90 L367.89,386.93 L368.37,387.13 L368.88,387.23 L369.39,387.30 L369.92,387.27 L370.46,387.25 L371.02,387.46 L371.58,387.45 L372.16,387.42 L372.74,387.48 L373.32,387.63 L373.91,387.69 L374.50,387.71 L375.10,387.50 L375.69,387.59 L376.28,387.65 L376.87,387.60 L377.46,387.81 L378.04,387.63 L378.61,387.90 L379.18,387.83 L379.74,387.86 L380.28,387.82 L380.81,387.99 L381.33,387.90 L381.83,388.00 L382.32,388.02 L382.78,387.96 L383.23,388.05 L383.66,387.90 L384.06,387.87 L384.44,388.01 L384.80,387.91 L385.70,387.80 L386.49,387.83 L387.18,387.66 L387.80,387.41 L388.34,387.47 L388.81,387.20 L389.24,387.16 L389.63,386.85 L390.00,386.81 L390.35,386.46 L390.69,386.31 L391.04,386.30 L391.40,386.30 L391.80,386.30 L392.37,386.29 L392.80,386.27 L393.17,386.55 L393.50,386.68 L393.85,387.04 L394.27,387.47 L394.80,387.53 L395.49,387.83 L396.40,387.94 L396.76,387.82 L397.17,388.01 L397.61,387.85 L398.09,387.90 L398.60,388.03 L399.13,387.90 L399.69,388.16 L400.27,388.00 L400.86,388.07 L401.47,388.16 L402.08,387.90 L402.70,388.17 L403.33,387.87 L403.95,388.03 L404.57,388.04 L405.17,388.13 L405.77,387.93 L406.35,388.10 L406.91,388.00 L407.45,387.94 L407.97,387.83 L408.45,387.84 L408.90,387.88 L409.31,387.86 L409.69,387.87 L410.02,387.99 L410.30,387.86" fill="none" stroke="#4e66a2" stroke-width="1.15" stroke-linejoin="round" />
<rect x="232.40" y="338.50" width="178.40" height="143.60" fill="none" stroke="#303030" stroke-width="1.2"/>
<line x1="232.40" y1="482.10" x2="232.40" y2="485.40" stroke="#303030" stroke-width="1.1" />
<text x="232.40" y="496.80" font-size="10" fill="#231f20" text-anchor="middle" stroke="#231f20" stroke-width="0.15" stroke-linejoin="round">60</text>
<line x1="274.38" y1="482.10" x2="274.38" y2="485.40" stroke="#303030" stroke-width="1.1" />
<text x="274.38" y="496.80" font-size="10" fill="#231f20" text-anchor="middle" stroke="#231f20" stroke-width="0.15" stroke-linejoin="round">140</text>
<line x1="316.35" y1="482.10" x2="316.35" y2="485.40" stroke="#303030" stroke-width="1.1" />
<text x="316.35" y="496.80" font-size="10" fill="#231f20" text-anchor="middle" stroke="#231f20" stroke-width="0.15" stroke-linejoin="round">220</text>
<line x1="358.33" y1="482.10" x2="358.33" y2="485.40" stroke="#303030" stroke-width="1.1" />
<text x="358.33" y="496.80" font-size="10" fill="#231f20" text-anchor="middle" stroke="#231f20" stroke-width="0.15" stroke-linejoin="round">300</text>
<line x1="400.31" y1="482.10" x2="400.31" y2="485.40" stroke="#303030" stroke-width="1.1" />
<text x="400.31" y="496.80" font-size="10" fill="#231f20" text-anchor="middle" stroke="#231f20" stroke-width="0.15" stroke-linejoin="round">380</text>
<text x="321.50" y="513.40" font-size="10.4" fill="#231f20" text-anchor="middle" stroke="#231f20" stroke-width="0.15" stroke-linejoin="round">Raman shift (cm<tspan font-size="6.656" dy="-3.74">-1</tspan><tspan dy="3.74">)</tspan></text>
<text x="0" y="0" transform="translate(221.90,410.40) rotate(-90)" font-size="10.3" fill="#231f20" text-anchor="middle" stroke="#231f20" stroke-width="0.15" stroke-linejoin="round">Intensity (a.u.)</text>
<text x="237.20" y="349.30" font-size="8.9" fill="#231f20" stroke="#231f20" stroke-width="0.15" stroke-linejoin="round"><tspan letter-spacing="-0.12">C</tspan><tspan font-size="6.3" dy="2.40" letter-spacing="-0.12">5</tspan><tspan dy="-2.40" letter-spacing="-0.12">H</tspan><tspan font-size="6.3" dy="2.40" letter-spacing="-0.12">11</tspan><tspan dy="-2.40" letter-spacing="-0.12">N</tspan><tspan font-size="6.3" dy="2.40" letter-spacing="-0.12">3</tspan><tspan dy="-2.40" letter-spacing="-0.12">(MnCl</tspan><tspan font-size="6.3" dy="2.40" letter-spacing="-0.12">3</tspan><tspan dy="-2.40" letter-spacing="-0.12">·H</tspan><tspan font-size="6.3" dy="2.40" letter-spacing="-0.12">2</tspan><tspan dy="-2.40" letter-spacing="-0.12">O)Cl</tspan></text>
<text x="377.30" y="381.60" font-size="8.7" fill="#231f20" stroke="#231f20" stroke-width="0.15" stroke-linejoin="round">125 °C</text>
<text x="378.90" y="413.40" font-size="8.7" fill="#231f20" stroke="#231f20" stroke-width="0.15" stroke-linejoin="round">85 °C</text>
<text x="378.90" y="439.00" font-size="8.7" fill="#231f20" stroke="#231f20" stroke-width="0.15" stroke-linejoin="round">55 °C</text>
<text x="378.90" y="462.90" font-size="8.7" fill="#231f20" stroke="#231f20" stroke-width="0.15" stroke-linejoin="round">25 °C</text>
<text x="425.40" y="338.90" font-size="15" fill="#111" font-weight="bold">g</text>
<path d="M477.69,369.10 L480.89,372.30 L477.69,375.50 L474.49,372.30 Z" fill="#dc6656"/>
<circle cx="477.69" cy="409.1" r="2.6" fill="#000"/>
<path d="M488.08,369.10 L491.28,372.30 L488.08,375.50 L484.88,372.30 Z" fill="#dc6656"/>
<circle cx="488.08" cy="409.1" r="2.6" fill="#000"/>
<path d="M498.46,369.60 L501.66,372.80 L498.46,376.00 L495.26,372.80 Z" fill="#dc6656"/>
<circle cx="498.46" cy="409.1" r="2.6" fill="#000"/>
<path d="M508.85,368.60 L512.05,371.80 L508.85,375.00 L505.65,371.80 Z" fill="#dc6656"/>
<circle cx="508.85" cy="409.1" r="2.6" fill="#000"/>
<path d="M519.24,369.10 L522.44,372.30 L519.24,375.50 L516.04,372.30 Z" fill="#dc6656"/>
<circle cx="519.24" cy="409.1" r="2.6" fill="#000"/>
<path d="M529.63,368.90 L532.83,372.10 L529.63,375.30 L526.43,372.10 Z" fill="#dc6656"/>
<circle cx="529.63" cy="409.1" r="2.6" fill="#000"/>
<path d="M540.02,368.90 L543.22,372.10 L540.02,375.30 L536.82,372.10 Z" fill="#dc6656"/>
<circle cx="540.02" cy="409.1" r="2.6" fill="#000"/>
<path d="M550.41,368.60 L553.61,371.80 L550.41,375.00 L547.21,371.80 Z" fill="#dc6656"/>
<circle cx="550.41" cy="409.1" r="2.6" fill="#000"/>
<path d="M560.79,368.90 L563.99,372.10 L560.79,375.30 L557.59,372.10 Z" fill="#dc6656"/>
<circle cx="560.79" cy="409.1" r="2.6" fill="#000"/>
<path d="M571.18,368.90 L574.38,372.10 L571.18,375.30 L567.98,372.10 Z" fill="#dc6656"/>
<circle cx="571.18" cy="409.1" r="2.6" fill="#000"/>
<path d="M581.57,368.90 L584.77,372.10 L581.57,375.30 L578.37,372.10 Z" fill="#dc6656"/>
<circle cx="581.57" cy="409.1" r="2.6" fill="#000"/>
<path d="M591.96,368.60 L595.16,371.80 L591.96,375.00 L588.76,371.80 Z" fill="#dc6656"/>
<circle cx="591.96" cy="409.1" r="2.6" fill="#000"/>
<path d="M602.35,368.90 L605.55,372.10 L602.35,375.30 L599.15,372.10 Z" fill="#dc6656"/>
<circle cx="602.35" cy="409.1" r="2.6" fill="#000"/>
<path d="M612.74,367.80 L615.94,371.00 L612.74,374.20 L609.54,371.00 Z" fill="#dc6656"/>
<circle cx="612.74" cy="409.1" r="2.6" fill="#000"/>
<path d="M623.12,368.90 L626.32,372.10 L623.12,375.30 L619.92,372.10 Z" fill="#dc6656"/>
<circle cx="623.12" cy="409.1" r="2.6" fill="#000"/>
<path d="M633.51,367.50 L636.71,370.70 L633.51,373.90 L630.31,370.70 Z" fill="#dc6656"/>
<circle cx="633.51" cy="409.1" r="2.6" fill="#000"/>
<line x1="467.30" y1="339.90" x2="643.90" y2="339.90" stroke="#303030" stroke-width="1.15" />
<line x1="467.30" y1="339.35" x2="467.30" y2="481.65" stroke="#303030" stroke-width="1.15" />
<line x1="467.30" y1="481.10" x2="643.90" y2="481.10" stroke="#303030" stroke-width="1.15" />
<line x1="643.90" y1="339.90" x2="643.90" y2="481.65" stroke="#e07464" stroke-width="1.15" />
<line x1="463.50" y1="481.10" x2="467.30" y2="481.10" stroke="#303030" stroke-width="1.1" />
<text x="459.00" y="485.00" font-size="10" fill="#231f20" text-anchor="end" stroke="#231f20" stroke-width="0.15" stroke-linejoin="round">430</text>
<line x1="465.30" y1="466.98" x2="467.30" y2="466.98" stroke="#303030" stroke-width="1.1" />
<line x1="463.50" y1="452.86" x2="467.30" y2="452.86" stroke="#303030" stroke-width="1.1" />
<text x="459.00" y="456.76" font-size="10" fill="#231f20" text-anchor="end" stroke="#231f20" stroke-width="0.15" stroke-linejoin="round">510</text>
<line x1="465.30" y1="438.74" x2="467.30" y2="438.74" stroke="#303030" stroke-width="1.1" />
<line x1="463.50" y1="424.62" x2="467.30" y2="424.62" stroke="#303030" stroke-width="1.1" />
<text x="459.00" y="428.52" font-size="10" fill="#231f20" text-anchor="end" stroke="#231f20" stroke-width="0.15" stroke-linejoin="round">590</text>
<line x1="465.30" y1="410.50" x2="467.30" y2="410.50" stroke="#303030" stroke-width="1.1" />
<line x1="463.50" y1="396.38" x2="467.30" y2="396.38" stroke="#303030" stroke-width="1.1" />
<text x="459.00" y="400.28" font-size="10" fill="#231f20" text-anchor="end" stroke="#231f20" stroke-width="0.15" stroke-linejoin="round">670</text>
<line x1="465.30" y1="382.26" x2="467.30" y2="382.26" stroke="#303030" stroke-width="1.1" />
<line x1="463.50" y1="368.14" x2="467.30" y2="368.14" stroke="#303030" stroke-width="1.1" />
<text x="459.00" y="372.04" font-size="10" fill="#231f20" text-anchor="end" stroke="#231f20" stroke-width="0.15" stroke-linejoin="round">750</text>
<line x1="465.30" y1="354.02" x2="467.30" y2="354.02" stroke="#303030" stroke-width="1.1" />
<line x1="463.50" y1="339.90" x2="467.30" y2="339.90" stroke="#303030" stroke-width="1.1" />
<text x="459.00" y="343.80" font-size="10" fill="#231f20" text-anchor="end" stroke="#231f20" stroke-width="0.15" stroke-linejoin="round">830</text>
<line x1="643.90" y1="481.10" x2="647.70" y2="481.10" stroke="#e07464" stroke-width="1.1" />
<text x="652.20" y="485.00" font-size="10" fill="#e07464" stroke="#e07464" stroke-width="0.15" stroke-linejoin="round">0</text>
<line x1="643.90" y1="463.45" x2="645.90" y2="463.45" stroke="#e07464" stroke-width="1.1" />
<line x1="643.90" y1="445.80" x2="647.70" y2="445.80" stroke="#e07464" stroke-width="1.1" />
<text x="652.20" y="449.70" font-size="10" fill="#e07464" stroke="#e07464" stroke-width="0.15" stroke-linejoin="round">30</text>
<line x1="643.90" y1="428.15" x2="645.90" y2="428.15" stroke="#e07464" stroke-width="1.1" />
<line x1="643.90" y1="410.50" x2="647.70" y2="410.50" stroke="#e07464" stroke-width="1.1" />
<text x="652.20" y="414.40" font-size="10" fill="#e07464" stroke="#e07464" stroke-width="0.15" stroke-linejoin="round">60</text>
<line x1="643.90" y1="392.85" x2="645.90" y2="392.85" stroke="#e07464" stroke-width="1.1" />
<line x1="643.90" y1="375.20" x2="647.70" y2="375.20" stroke="#e07464" stroke-width="1.1" />
<text x="652.20" y="379.10" font-size="10" fill="#e07464" stroke="#e07464" stroke-width="0.15" stroke-linejoin="round">90</text>
<line x1="643.90" y1="357.55" x2="645.90" y2="357.55" stroke="#e07464" stroke-width="1.1" />
<line x1="643.90" y1="339.90" x2="647.70" y2="339.90" stroke="#e07464" stroke-width="1.1" />
<text x="652.20" y="343.80" font-size="10" fill="#e07464" stroke="#e07464" stroke-width="0.15" stroke-linejoin="round">120</text>
<line x1="477.69" y1="481.10" x2="477.69" y2="484.10" stroke="#303030" stroke-width="1.1" />
<text x="477.69" y="495.80" font-size="10" fill="#231f20" text-anchor="middle" stroke="#231f20" stroke-width="0.15" stroke-linejoin="round">0</text>
<line x1="508.85" y1="481.10" x2="508.85" y2="484.10" stroke="#303030" stroke-width="1.1" />
<text x="508.85" y="495.80" font-size="10" fill="#231f20" text-anchor="middle" stroke="#231f20" stroke-width="0.15" stroke-linejoin="round">3</text>
<line x1="540.02" y1="481.10" x2="540.02" y2="484.10" stroke="#303030" stroke-width="1.1" />
<text x="540.02" y="495.80" font-size="10" fill="#231f20" text-anchor="middle" stroke="#231f20" stroke-width="0.15" stroke-linejoin="round">6</text>
<line x1="571.18" y1="481.10" x2="571.18" y2="484.10" stroke="#303030" stroke-width="1.1" />
<text x="571.18" y="495.80" font-size="10" fill="#231f20" text-anchor="middle" stroke="#231f20" stroke-width="0.15" stroke-linejoin="round">9</text>
<line x1="602.35" y1="481.10" x2="602.35" y2="484.10" stroke="#303030" stroke-width="1.1" />
<text x="602.35" y="495.80" font-size="10" fill="#231f20" text-anchor="middle" stroke="#231f20" stroke-width="0.15" stroke-linejoin="round">12</text>
<line x1="633.51" y1="481.10" x2="633.51" y2="484.10" stroke="#303030" stroke-width="1.1" />
<text x="633.51" y="495.80" font-size="10" fill="#231f20" text-anchor="middle" stroke="#231f20" stroke-width="0.15" stroke-linejoin="round">15</text>
<text x="555.60" y="510.60" font-size="10.2" fill="#231f20" text-anchor="middle" stroke="#231f20" stroke-width="0.15" stroke-linejoin="round">Cycle</text>
<text x="0" y="0" transform="translate(432.70,410.50) rotate(-90)" font-size="10.3" fill="#231f20" text-anchor="middle" stroke="#231f20" stroke-width="0.15" stroke-linejoin="round">Peak Wavelength (nm)</text>
<text x="0" y="0" transform="translate(682.70,410.40) rotate(-90)" font-size="10.3" fill="#e07464" text-anchor="middle" stroke="#e07464" stroke-width="0.15" stroke-linejoin="round">FWHM (nm)</text>
<text x="474.00" y="349.30" font-size="8.9" fill="#231f20" stroke="#231f20" stroke-width="0.15" stroke-linejoin="round"><tspan letter-spacing="-0.12">C</tspan><tspan font-size="6.3" dy="2.40" letter-spacing="-0.12">5</tspan><tspan dy="-2.40" letter-spacing="-0.12">H</tspan><tspan font-size="6.3" dy="2.40" letter-spacing="-0.12">11</tspan><tspan dy="-2.40" letter-spacing="-0.12">N</tspan><tspan font-size="6.3" dy="2.40" letter-spacing="-0.12">3</tspan><tspan dy="-2.40" letter-spacing="-0.12">(MnCl</tspan><tspan font-size="6.3" dy="2.40" letter-spacing="-0.12">3</tspan><tspan dy="-2.40" letter-spacing="-0.12">·H</tspan><tspan font-size="6.3" dy="2.40" letter-spacing="-0.12">2</tspan><tspan dy="-2.40" letter-spacing="-0.12">O)Br</tspan></text>
</svg>
</body></html>
